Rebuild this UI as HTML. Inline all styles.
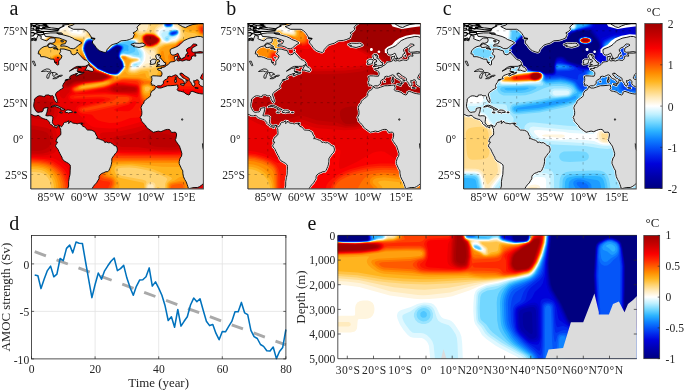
<!DOCTYPE html>
<html><head><meta charset="utf-8"><title>Figure</title>
<style>
html,body{margin:0;padding:0;background:#fff;}
body{width:685px;height:390px;overflow:hidden;}
svg{display:block;font-family:"Liberation Serif","Times New Roman",serif;}
.t{font-size:11.6px;fill:#262626;}
.l{font-size:12.9px;fill:#262626;}
.pl{font-size:20px;fill:#111;}
</style></head><body>
<svg width="685" height="390" viewBox="0 0 685 390">
<defs>
<clipPath id="mc"><rect x="0" y="0" width="172.6" height="165.3"/></clipPath>
<path id="halo" d="M0 17.2L2.7 16.5L5.3 17.2L6 14.4L7.3 11.5L10.6 12.9L10 15.1L13.3 16.5L15.9 17.2L18.6 15.1L19.9 14.4L23.9 14.4L24.6 16.5L23.9 18.7L21.2 19.7L18.6 19.4L17.3 20.8L16.6 22.3L13.3 23L10.6 24.4L8 27.3L7.3 30.2L9.3 30.6L10 33.1L13.3 33.1L15.9 33.8L19.9 35.5L23.2 35.6L23.9 38.8L25.2 40.2L26.6 41.4L27.9 41L27.9 37.4L30.5 34.5L31.2 32.3L28.5 30.2L29.9 28L29.2 25.4L33.2 25.4L37.2 26.6L39.8 27.3L40.5 30.2L42.5 31.2L45.1 30.5L46.5 28.3L47.8 30.2L49.8 32.3L51.8 34.5L53.1 35.9L55.8 36.7L57.1 38.1L58.4 40.2L57.1 41.3L54.4 42.7L50.5 42.8L46.5 42.8L43.8 43.8L41.2 45.6L38.5 47.6L40.5 46.7L43.8 44.8L47.1 44.3L47.1 45.6L46.5 46.7L46.7 48.2L48.5 48.9L51.1 49.3L53.1 48.6L53.1 49.3L51.8 50L48.5 51L45.8 52.5L44.9 51.3L47.1 49.9L45.1 50L43.8 50.7L41.8 51.3L39.8 52.2L38.9 53.5L38.9 54.6L39.8 55.1L37.8 55.5L34.9 56.3L34.5 56.8L34.3 58.2L33.2 59.2L32.5 60.7L31.9 61.8L32.1 63.2L32.5 64.3L30.9 65.3L29.2 66.3L27.9 67.3L25.9 68.7L25 70.1L24.7 71.4L25.5 73.6L26.4 76.2L26.4 78.1L25.9 78.9L25 78.6L24.2 77.2L23 75.2L23 73.3L21.6 71.9L20.6 72.2L19.3 72.2L17.9 71.3L15.9 71.4L14.6 71.6L14.2 73L12.6 73L10.9 72.4L8.6 72.2L7 72.7L5.3 74L3.6 75.5L3.6 77.6L3.1 79.8L2.9 82.7L3.6 84.8L4.6 86.5L5.6 88L7.3 88.8L9.3 88.4L11.3 88.3L12.3 87L12.7 84.8L15.3 84.1L17.3 84.1L16.6 86.2L16.3 88.4L15.7 89.8L15 92L16.6 92.3L18.6 92.1L20.6 92.3L22.2 93.4L21.9 95.6L21.6 97.7L21.6 99.2L22.8 101L24.2 102.1L25.5 102.2L26.8 101.5L28.1 101.5L29.9 102.6L30.7 103.3L31.5 102.2L32.4 101.2L32.8 99.6L33.5 99L34.3 98.7L35.8 98.5L37.2 97.5L38.1 97.2L37.8 98.9L37.6 99.9L38.5 99.3L39.6 98.5L39.8 97.5L40.5 98.5L42.1 99.5L44.5 99.8L46.5 100.3L47.8 99.8L49.8 99.6L50.6 99.6L49.8 100.3L51.1 101.2L52 102.8L53.8 103.2L55.1 104.9L56.7 106.4L59.1 106.5L61.1 106.7L63.1 107.8L64.4 108.8L65.3 111.4L66.4 112.8L66.4 114.6L65.7 115L67 115L68.4 115.4L69.7 116L71.7 116.6L73.7 117.9L74 118.9L75.7 118.4L77.7 119.2L79.7 119L81.7 120.3L83.4 121.9L85.6 122.5L86.3 124.3L86.6 126.5L85.9 128.6L84.3 130.2L83.2 131.8L81.9 133.5L81 135.1L81 138L80.6 140.6L79.9 143L79 144.9L78.3 146.6L77 148.1L75 148.1L73 149.1L71 149.8L69 151.4L68.2 153.1L68.2 155.2L67 157L65.7 159.3L63.7 161.3L62.4 163.1L61.5 164.6L60.4 166.7L36.5 166.7L37.8 162.4L37.8 158.1L38.5 153.8L39.2 150.9L39.4 146.6L39.6 143L39.3 141.3L37.8 139.9L35.8 138.7L33.2 137.3L31.5 135.1L31.2 133.7L30.3 132.2L29.2 130.1L28.1 127.9L27.2 125.8L26.6 124.8L25.2 123.6L24.8 121.7L25.9 120L26.6 119.3L26.6 118.3L25.2 118.2L25.5 116.4L26.2 115L26.6 113.8L27.9 113.3L28.5 112.1L29.9 111.3L30.1 109.2L29.9 107.1L29.9 105.4L29.3 104.6L28.8 103.5L28.5 102.3L27.2 102.1L26.2 103.1L26 104.4L25.2 104.1L24.2 103.2L22.7 103.2L21.8 102.5L21.6 101.8L19.9 100.9L18.9 99.9L18.9 98.9L17.5 97.3L16.6 96.3L16.2 95.9L14.6 95.7L12.6 95L10.4 94.1L8.6 92.3L7.3 91.7L5.3 92.4L3.3 92.1L1.3 91.1L-1.3 90.3L-1.3 17.2ZM43.8 -1.4L43.8 0L42.5 1.4L37.2 2.9L39.8 4.3L42.5 5.7L53.1 5.7L55.8 7.2L58.4 10.1L59.7 12.2L61.1 14.4L64.4 15.1L61.7 17.2L61.7 19.4L63.7 21.6L65.1 23.7L67 25.9L69 27.3L72.4 28.5L74.4 28.9L75.7 28L76.3 25.9L78.3 23.7L80.3 21.6L83 20.6L86.3 19.7L90.3 17.2L95.6 16.8L98.9 15.8L102.2 14.4L102.9 12.2L103.6 10.8L102.2 9.3L104.9 7.9L106.9 5.7L106.2 3.6L108.2 1.4L110.2 0L110.2 -1.4ZM100.2 20.8L103.6 19.5L108.9 19.8L111.5 19.4L113.5 20.1L114.8 21.6L112.9 22.6L108.2 23.9L104.9 23.3L102.6 23L103.6 21.8L100.9 21.7ZM125.2 43L128.1 42.7L131.4 42.1L134.5 41.5L135 39.2L133.2 38.8L132.5 37.4L130.8 35.9L130.1 34.5L128.8 34.5L130.1 32.2L127.5 32.2L128.8 30.8L126.1 30.8L124.8 32.3L125.5 34.5L126.1 35.9L128.1 36.1L128.8 37.4L128.5 38.4L126.8 38.4L126.8 39.8L125.9 40.5L128.8 41L127.2 41.5ZM119.5 40.8L122.1 40.7L124.4 40L124.8 38.1L125.5 36.7L124.1 35.6L121.9 35.6L119.5 37.1L119.8 38.4L120.2 39.4L119.1 40.2ZM173.9 14.4L169.9 12.9L166.9 12.8L163.3 13.7L159.3 14.4L156.7 15.4L153.3 17L151.4 18.7L149.4 20.8L147.4 22.3L144.7 23.7L141.4 24.9L139.4 25.9L139.4 28L139.8 29.8L140.5 30.9L142.1 31.6L144.1 31.2L146 30.2L147 29.5L147.6 30.5L148 31.6L148.7 33.1L149.6 34.5L149.8 35.4L151.8 35.2L151.8 34.5L154 33.8L154.7 32.3L155.3 30.6L157.3 29.5L156 27.9L155.6 25.9L157.3 24.4L160 23.3L161.3 21.6L162.6 20.4L165.3 20.6L166.4 21.6L164.6 22.6L161.3 24.4L161 26.6L161 27.9L162.6 28.7L166 28.5L169.3 28L173.9 28.7L173.9 29L169.9 29.5L166 29.5L164 29.9L164 30.9L165 31.2L165 32.6L162.6 32.2L160.7 33.1L160.7 35.2L159.3 36.7L157.6 36.8L155.3 36.2L151.8 37.4L149.4 36.9L147.4 37.4L146 36.7L146 35.2L146.7 33.8L146.7 32.3L145.4 32.9L143.7 33.1L143.5 34.5L143.7 35.4L144.2 36.1L144.5 37.4L143.4 37.9L142.1 38.1L139.4 38.4L138.7 39.5L137.4 41L136.1 41.7L134.9 42L134.8 42.8L133 43.7L131 43.8L130.4 43.6L130.8 45L128.8 44.8L126.5 45.3L127.1 46.3L129.5 47L130.1 47.9L131.2 48.9L131.2 50.7L130.5 52.6L128.1 52.5L125.5 52.3L122.1 52.2L120.6 52.9L121.1 54.6L121.1 56.8L120.3 58.9L121.1 60.4L121 61.8L122.8 61.5L124.3 62.1L125.3 63.2L126.8 62.2L129.8 62.2L131.8 60.9L132.8 59.4L132.4 58.2L133.8 56.3L135.4 55.6L137 54.6L136.8 53.2L138.7 52.6L140.7 53L142.7 52L144.7 51.2L146.4 52L147.4 53.9L149.1 55.1L151 55.8L152.7 57.2L153.6 58.9L153.6 60.4L154.7 59.7L155.6 58.2L154.8 57.5L155.6 56.9L157.1 57.5L157.3 56.8L155.3 56.1L154 54.9L152.7 54.6L151.4 53.6L150.8 52.3L149.4 51.5L149.1 49.9L151 49.4L150.8 50.3L152 50L153 51.3L154.7 52.5L156 53.2L157.3 54L158.5 54.9L158.5 56.8L159.3 57.9L160.7 59.7L161.3 61.5L162.4 62.5L163.3 62.5L163.6 61.1L164.6 60.4L163.3 59.4L163 58.2L162.9 56.9L164.4 57.5L165.3 56.3L167.3 56.3L167.7 57.2L168.4 58.2L168 59.7L169 61.4L169.9 62.2L171.9 63L173.9 62.5L173.9 55.9L171.3 55.8L169.9 54.9L169.8 53.5L170.6 52.5L170.7 51.3L172.1 50L173.9 49.7ZM173.9 70L171.3 70.4L168.6 70L166 69.4L163.3 68.3L161.3 67.7L159.3 68.7L159.3 70.4L158 71.4L155.3 70.4L153.1 68.6L150 67.7L147.4 67.3L146.3 66.1L147.4 64.3L146.7 62.2L147.4 61.8L146 61.4L143.4 61.8L139.4 62.1L136.8 62.1L132.8 63.5L130.1 64.4L127.5 64.4L125.6 63.4L124.8 64L123.7 66.1L121.5 67.1L119.8 69.7L119.8 71.9L118.8 73.3L116.8 74.7L114.8 76.2L113.5 77.6L112.9 79.8L111.5 80.9L110.2 84.1L110.9 87L111.1 89.1L110.9 91.3L109.5 93.9L110.5 95.6L110.5 97.3L112.2 98.9L113.5 100.6L115.1 102.1L115.5 103.5L117.5 105.1L120.2 107.1L122.5 108.7L124.8 108.1L127.5 107.5L130.1 108.1L132.8 106.9L134.8 106.1L136.8 105.8L138.7 105.9L140.1 107.8L140.7 108.8L142.7 108.7L144.5 108.5L145.5 109.5L145.8 111.4L145.4 113.6L145.1 115L144.5 116.1L145.4 117.9L147.4 120.7L148.7 122.5L149.1 123.6L150.3 127.2L151.1 130.1L150.7 132.7L149.4 134.4L148.4 138L148.4 140.1L149.4 142.3L150.7 145.2L152 147.3L152 149.5L152.7 153.1L154 156L155.3 158.1L156.4 161L157.1 163.1L157.3 164.3L158.7 165L160.7 164.4L163.3 163.9L166.6 163.9L168.6 163.1L170.6 161.7L173.9 158.8ZM54 46.6L55.1 45.3L56.4 42.4L58.4 41L59.1 43.1L61.1 43.8L62.4 45.3L62.8 46.7L61.7 47.9L59.1 47.4L57.1 46.6ZM51.1 19.4L47.8 21.6L44.5 24.4L42.5 25.2L39.8 24.9L36.5 23L33.2 22.3L29.9 22.6L30.5 20.8L34.5 20.1L35.8 17.2L31.9 15.8L28.5 14.4L23.9 13.9L19.9 13.2L14.6 12.9L13.3 10.1L19.9 9.3L25.2 9.3L29.2 10.3L33.2 11.5L38.5 12.9L41.8 14.4L43.8 15.8L47.8 17.2L50.5 18.7ZM17.3 21.1L19.9 20.1L21.9 20.8L25.2 22.6L25.9 23.7L22.6 23.4L19.3 24.1L17.3 23.4ZM20 83.5L22.6 81.9L25.2 81.6L27.9 82.7L29.9 83.8L32.5 85.1L34.3 86L32.5 86.4L29.6 86.4L30.3 85.4L28.5 84.5L25.9 83.4L23.9 82.8L21.9 83.2ZM34 88.5L35.8 86.4L37.6 86.4L39.8 86.7L41.8 88.1L41.6 88.8L39.2 88.8L37.8 89.5L36.5 88.8L34.8 89ZM28.8 88.5L30.5 88.4L31.6 89.1L30.5 89.4L28.9 89ZM43.5 88.4L45.5 88.5L45.4 89.1L43.5 89.1ZM50.6 99.6L51.8 99.5L51.8 100.5L50.6 100.5ZM149.4 60.4L153.3 60.1L153 62.1L149.8 61.1ZM143.8 56.1L145.5 55.9L145.5 58.6L144.1 58.9ZM144.3 53.9L145.4 53.2L145.4 55.3L144.5 55.2ZM164.1 64L167.6 64.4L167.3 64.7L164.1 64.4ZM136 58.1L137.2 57.6L137 58.4ZM147.4 0.6L147.4 -1.4L167.3 -1.4L167.3 0L162 0.9L158 2.3L154.7 4L152 3.2L149.4 1.7ZM147.4 34.8L149.4 34.5L149.2 35.6L147.6 35.6ZM156.9 31.8L158 31.9L157.2 33.1ZM47.1 43.3L50.5 44L50.7 44.4L47.8 43.7ZM47.4 47.7L50.5 48.3L49.8 48.9L47.8 48.4ZM34.5 56.6L37.2 55.9L37.2 56.2ZM25.9 9.2L30.5 9.3L31.9 10.3L27.9 10.6ZM29.9 17L32.5 17.2L32.5 18.3L30.5 18.3ZM22.6 24.4L24.6 24.6L26.8 25.3L23.2 25.3ZM26.2 25.4L27.5 25.9L26.8 26.4ZM23.9 38.5L25.9 38.8L24.6 39.1ZM26.6 33.8L27.9 34.1L27.2 34.8ZM45.8 26.3L47.1 26.6L46.1 27ZM60 14.5L63.7 14.7L61.7 15.4Z" fill="none" stroke="#fff" stroke-width="2.1" stroke-linejoin="round"/>
<g id="land"><path d="M5.3 4.6L13.3 5L19.9 5.9L26.6 6.3L27.2 7.3L18.6 7.9L10.6 7.6L5.3 6.6ZM9.3 -1.4L13.3 1.1L17.3 2.6L14.6 3.4L19.9 4.2L27.9 5.2L29.9 3.9L33.2 2.4L31.9 1.4L37.2 0.9L39.2 -0.3L41.8 -1.4ZM6 8.8L9.3 8.5L12.9 8.9L12.9 10.6L9.3 11.5L6 10.3ZM-1.3 9.1L2.7 8.9L4.2 10.3L2 12.4L-1.3 12.2ZM0.7 15.1L4 14.4L5.3 15.8L3.3 16.4L0.7 15.8ZM-1.3 4.6L2.7 4.7L3.6 6.3L-1.3 7ZM5.3 -0.7L10.6 -0.1L15.9 1.1L15.3 2.3L9.3 2.2L5.3 0.9ZM4.6 6.5L8 6.3L8.6 7.2L6 7.6ZM2 2L4.9 1.9L5.3 3L2.7 3.2ZM-1.3 1.1L0.9 1.4L0.7 3L-1.3 3.2ZM11.9 3.6L14.2 3.6L13.9 4.5L11.9 4.5ZM5.3 3.3L8.6 3.3L8.4 3.9L5.6 3.9ZM0.3 -0.3L2 -0.3L1.6 0.4L0.3 0.3ZM10.6 4.9L11.9 5.3L10.4 5.5ZM26.8 5.6L28.1 5.6L27.9 6.2ZM3.3 9.6L4.8 9.6L4.5 10.3Z" fill="#dcdcdc" stroke="#000" stroke-width="1.1" stroke-linejoin="round"/>
<path d="M0 17.2L2.7 16.5L5.3 17.2L6 14.4L7.3 11.5L10.6 12.9L10 15.1L13.3 16.5L15.9 17.2L18.6 15.1L19.9 14.4L23.9 14.4L24.6 16.5L23.9 18.7L21.2 19.7L18.6 19.4L17.3 20.8L16.6 22.3L13.3 23L10.6 24.4L8 27.3L7.3 30.2L9.3 30.6L10 33.1L13.3 33.1L15.9 33.8L19.9 35.5L23.2 35.6L23.9 38.8L25.2 40.2L26.6 41.4L27.9 41L27.9 37.4L30.5 34.5L31.2 32.3L28.5 30.2L29.9 28L29.2 25.4L33.2 25.4L37.2 26.6L39.8 27.3L40.5 30.2L42.5 31.2L45.1 30.5L46.5 28.3L47.8 30.2L49.8 32.3L51.8 34.5L53.1 35.9L55.8 36.7L57.1 38.1L58.4 40.2L57.1 41.3L54.4 42.7L50.5 42.8L46.5 42.8L43.8 43.8L41.2 45.6L38.5 47.6L40.5 46.7L43.8 44.8L47.1 44.3L47.1 45.6L46.5 46.7L46.7 48.2L48.5 48.9L51.1 49.3L53.1 48.6L53.1 49.3L51.8 50L48.5 51L45.8 52.5L44.9 51.3L47.1 49.9L45.1 50L43.8 50.7L41.8 51.3L39.8 52.2L38.9 53.5L38.9 54.6L39.8 55.1L37.8 55.5L34.9 56.3L34.5 56.8L34.3 58.2L33.2 59.2L32.5 60.7L31.9 61.8L32.1 63.2L32.5 64.3L30.9 65.3L29.2 66.3L27.9 67.3L25.9 68.7L25 70.1L24.7 71.4L25.5 73.6L26.4 76.2L26.4 78.1L25.9 78.9L25 78.6L24.2 77.2L23 75.2L23 73.3L21.6 71.9L20.6 72.2L19.3 72.2L17.9 71.3L15.9 71.4L14.6 71.6L14.2 73L12.6 73L10.9 72.4L8.6 72.2L7 72.7L5.3 74L3.6 75.5L3.6 77.6L3.1 79.8L2.9 82.7L3.6 84.8L4.6 86.5L5.6 88L7.3 88.8L9.3 88.4L11.3 88.3L12.3 87L12.7 84.8L15.3 84.1L17.3 84.1L16.6 86.2L16.3 88.4L15.7 89.8L15 92L16.6 92.3L18.6 92.1L20.6 92.3L22.2 93.4L21.9 95.6L21.6 97.7L21.6 99.2L22.8 101L24.2 102.1L25.5 102.2L26.8 101.5L28.1 101.5L29.9 102.6L30.7 103.3L31.5 102.2L32.4 101.2L32.8 99.6L33.5 99L34.3 98.7L35.8 98.5L37.2 97.5L38.1 97.2L37.8 98.9L37.6 99.9L38.5 99.3L39.6 98.5L39.8 97.5L40.5 98.5L42.1 99.5L44.5 99.8L46.5 100.3L47.8 99.8L49.8 99.6L50.6 99.6L49.8 100.3L51.1 101.2L52 102.8L53.8 103.2L55.1 104.9L56.7 106.4L59.1 106.5L61.1 106.7L63.1 107.8L64.4 108.8L65.3 111.4L66.4 112.8L66.4 114.6L65.7 115L67 115L68.4 115.4L69.7 116L71.7 116.6L73.7 117.9L74 118.9L75.7 118.4L77.7 119.2L79.7 119L81.7 120.3L83.4 121.9L85.6 122.5L86.3 124.3L86.6 126.5L85.9 128.6L84.3 130.2L83.2 131.8L81.9 133.5L81 135.1L81 138L80.6 140.6L79.9 143L79 144.9L78.3 146.6L77 148.1L75 148.1L73 149.1L71 149.8L69 151.4L68.2 153.1L68.2 155.2L67 157L65.7 159.3L63.7 161.3L62.4 163.1L61.5 164.6L60.4 166.7L36.5 166.7L37.8 162.4L37.8 158.1L38.5 153.8L39.2 150.9L39.4 146.6L39.6 143L39.3 141.3L37.8 139.9L35.8 138.7L33.2 137.3L31.5 135.1L31.2 133.7L30.3 132.2L29.2 130.1L28.1 127.9L27.2 125.8L26.6 124.8L25.2 123.6L24.8 121.7L25.9 120L26.6 119.3L26.6 118.3L25.2 118.2L25.5 116.4L26.2 115L26.6 113.8L27.9 113.3L28.5 112.1L29.9 111.3L30.1 109.2L29.9 107.1L29.9 105.4L29.3 104.6L28.8 103.5L28.5 102.3L27.2 102.1L26.2 103.1L26 104.4L25.2 104.1L24.2 103.2L22.7 103.2L21.8 102.5L21.6 101.8L19.9 100.9L18.9 99.9L18.9 98.9L17.5 97.3L16.6 96.3L16.2 95.9L14.6 95.7L12.6 95L10.4 94.1L8.6 92.3L7.3 91.7L5.3 92.4L3.3 92.1L1.3 91.1L-1.3 90.3L-1.3 17.2ZM43.8 -1.4L43.8 0L42.5 1.4L37.2 2.9L39.8 4.3L42.5 5.7L53.1 5.7L55.8 7.2L58.4 10.1L59.7 12.2L61.1 14.4L64.4 15.1L61.7 17.2L61.7 19.4L63.7 21.6L65.1 23.7L67 25.9L69 27.3L72.4 28.5L74.4 28.9L75.7 28L76.3 25.9L78.3 23.7L80.3 21.6L83 20.6L86.3 19.7L90.3 17.2L95.6 16.8L98.9 15.8L102.2 14.4L102.9 12.2L103.6 10.8L102.2 9.3L104.9 7.9L106.9 5.7L106.2 3.6L108.2 1.4L110.2 0L110.2 -1.4ZM100.2 20.8L103.6 19.5L108.9 19.8L111.5 19.4L113.5 20.1L114.8 21.6L112.9 22.6L108.2 23.9L104.9 23.3L102.6 23L103.6 21.8L100.9 21.7ZM125.2 43L128.1 42.7L131.4 42.1L134.5 41.5L135 39.2L133.2 38.8L132.5 37.4L130.8 35.9L130.1 34.5L128.8 34.5L130.1 32.2L127.5 32.2L128.8 30.8L126.1 30.8L124.8 32.3L125.5 34.5L126.1 35.9L128.1 36.1L128.8 37.4L128.5 38.4L126.8 38.4L126.8 39.8L125.9 40.5L128.8 41L127.2 41.5ZM119.5 40.8L122.1 40.7L124.4 40L124.8 38.1L125.5 36.7L124.1 35.6L121.9 35.6L119.5 37.1L119.8 38.4L120.2 39.4L119.1 40.2ZM173.9 14.4L169.9 12.9L166.9 12.8L163.3 13.7L159.3 14.4L156.7 15.4L153.3 17L151.4 18.7L149.4 20.8L147.4 22.3L144.7 23.7L141.4 24.9L139.4 25.9L139.4 28L139.8 29.8L140.5 30.9L142.1 31.6L144.1 31.2L146 30.2L147 29.5L147.6 30.5L148 31.6L148.7 33.1L149.6 34.5L149.8 35.4L151.8 35.2L151.8 34.5L154 33.8L154.7 32.3L155.3 30.6L157.3 29.5L156 27.9L155.6 25.9L157.3 24.4L160 23.3L161.3 21.6L162.6 20.4L165.3 20.6L166.4 21.6L164.6 22.6L161.3 24.4L161 26.6L161 27.9L162.6 28.7L166 28.5L169.3 28L173.9 28.7L173.9 29L169.9 29.5L166 29.5L164 29.9L164 30.9L165 31.2L165 32.6L162.6 32.2L160.7 33.1L160.7 35.2L159.3 36.7L157.6 36.8L155.3 36.2L151.8 37.4L149.4 36.9L147.4 37.4L146 36.7L146 35.2L146.7 33.8L146.7 32.3L145.4 32.9L143.7 33.1L143.5 34.5L143.7 35.4L144.2 36.1L144.5 37.4L143.4 37.9L142.1 38.1L139.4 38.4L138.7 39.5L137.4 41L136.1 41.7L134.9 42L134.8 42.8L133 43.7L131 43.8L130.4 43.6L130.8 45L128.8 44.8L126.5 45.3L127.1 46.3L129.5 47L130.1 47.9L131.2 48.9L131.2 50.7L130.5 52.6L128.1 52.5L125.5 52.3L122.1 52.2L120.6 52.9L121.1 54.6L121.1 56.8L120.3 58.9L121.1 60.4L121 61.8L122.8 61.5L124.3 62.1L125.3 63.2L126.8 62.2L129.8 62.2L131.8 60.9L132.8 59.4L132.4 58.2L133.8 56.3L135.4 55.6L137 54.6L136.8 53.2L138.7 52.6L140.7 53L142.7 52L144.7 51.2L146.4 52L147.4 53.9L149.1 55.1L151 55.8L152.7 57.2L153.6 58.9L153.6 60.4L154.7 59.7L155.6 58.2L154.8 57.5L155.6 56.9L157.1 57.5L157.3 56.8L155.3 56.1L154 54.9L152.7 54.6L151.4 53.6L150.8 52.3L149.4 51.5L149.1 49.9L151 49.4L150.8 50.3L152 50L153 51.3L154.7 52.5L156 53.2L157.3 54L158.5 54.9L158.5 56.8L159.3 57.9L160.7 59.7L161.3 61.5L162.4 62.5L163.3 62.5L163.6 61.1L164.6 60.4L163.3 59.4L163 58.2L162.9 56.9L164.4 57.5L165.3 56.3L167.3 56.3L167.7 57.2L168.4 58.2L168 59.7L169 61.4L169.9 62.2L171.9 63L173.9 62.5L173.9 55.9L171.3 55.8L169.9 54.9L169.8 53.5L170.6 52.5L170.7 51.3L172.1 50L173.9 49.7ZM173.9 70L171.3 70.4L168.6 70L166 69.4L163.3 68.3L161.3 67.7L159.3 68.7L159.3 70.4L158 71.4L155.3 70.4L153.1 68.6L150 67.7L147.4 67.3L146.3 66.1L147.4 64.3L146.7 62.2L147.4 61.8L146 61.4L143.4 61.8L139.4 62.1L136.8 62.1L132.8 63.5L130.1 64.4L127.5 64.4L125.6 63.4L124.8 64L123.7 66.1L121.5 67.1L119.8 69.7L119.8 71.9L118.8 73.3L116.8 74.7L114.8 76.2L113.5 77.6L112.9 79.8L111.5 80.9L110.2 84.1L110.9 87L111.1 89.1L110.9 91.3L109.5 93.9L110.5 95.6L110.5 97.3L112.2 98.9L113.5 100.6L115.1 102.1L115.5 103.5L117.5 105.1L120.2 107.1L122.5 108.7L124.8 108.1L127.5 107.5L130.1 108.1L132.8 106.9L134.8 106.1L136.8 105.8L138.7 105.9L140.1 107.8L140.7 108.8L142.7 108.7L144.5 108.5L145.5 109.5L145.8 111.4L145.4 113.6L145.1 115L144.5 116.1L145.4 117.9L147.4 120.7L148.7 122.5L149.1 123.6L150.3 127.2L151.1 130.1L150.7 132.7L149.4 134.4L148.4 138L148.4 140.1L149.4 142.3L150.7 145.2L152 147.3L152 149.5L152.7 153.1L154 156L155.3 158.1L156.4 161L157.1 163.1L157.3 164.3L158.7 165L160.7 164.4L163.3 163.9L166.6 163.9L168.6 163.1L170.6 161.7L173.9 158.8ZM54 46.6L55.1 45.3L56.4 42.4L58.4 41L59.1 43.1L61.1 43.8L62.4 45.3L62.8 46.7L61.7 47.9L59.1 47.4L57.1 46.6ZM51.1 19.4L47.8 21.6L44.5 24.4L42.5 25.2L39.8 24.9L36.5 23L33.2 22.3L29.9 22.6L30.5 20.8L34.5 20.1L35.8 17.2L31.9 15.8L28.5 14.4L23.9 13.9L19.9 13.2L14.6 12.9L13.3 10.1L19.9 9.3L25.2 9.3L29.2 10.3L33.2 11.5L38.5 12.9L41.8 14.4L43.8 15.8L47.8 17.2L50.5 18.7ZM17.3 21.1L19.9 20.1L21.9 20.8L25.2 22.6L25.9 23.7L22.6 23.4L19.3 24.1L17.3 23.4ZM20 83.5L22.6 81.9L25.2 81.6L27.9 82.7L29.9 83.8L32.5 85.1L34.3 86L32.5 86.4L29.6 86.4L30.3 85.4L28.5 84.5L25.9 83.4L23.9 82.8L21.9 83.2ZM34 88.5L35.8 86.4L37.6 86.4L39.8 86.7L41.8 88.1L41.6 88.8L39.2 88.8L37.8 89.5L36.5 88.8L34.8 89ZM28.8 88.5L30.5 88.4L31.6 89.1L30.5 89.4L28.9 89ZM43.5 88.4L45.5 88.5L45.4 89.1L43.5 89.1ZM50.6 99.6L51.8 99.5L51.8 100.5L50.6 100.5ZM149.4 60.4L153.3 60.1L153 62.1L149.8 61.1ZM143.8 56.1L145.5 55.9L145.5 58.6L144.1 58.9ZM144.3 53.9L145.4 53.2L145.4 55.3L144.5 55.2ZM164.1 64L167.6 64.4L167.3 64.7L164.1 64.4ZM136 58.1L137.2 57.6L137 58.4ZM147.4 0.6L147.4 -1.4L167.3 -1.4L167.3 0L162 0.9L158 2.3L154.7 4L152 3.2L149.4 1.7ZM147.4 34.8L149.4 34.5L149.2 35.6L147.6 35.6ZM156.9 31.8L158 31.9L157.2 33.1ZM47.1 43.3L50.5 44L50.7 44.4L47.8 43.7ZM47.4 47.7L50.5 48.3L49.8 48.9L47.8 48.4ZM34.5 56.6L37.2 55.9L37.2 56.2ZM25.9 9.2L30.5 9.3L31.9 10.3L27.9 10.6ZM29.9 17L32.5 17.2L32.5 18.3L30.5 18.3ZM22.6 24.4L24.6 24.6L26.8 25.3L23.2 25.3ZM26.2 25.4L27.5 25.9L26.8 26.4ZM23.9 38.5L25.9 38.8L24.6 39.1ZM26.6 33.8L27.9 34.1L27.2 34.8ZM45.8 26.3L47.1 26.6L46.1 27ZM60 14.5L63.7 14.7L61.7 15.4Z" fill="#dcdcdc" stroke="#000" stroke-width="0.9" stroke-linejoin="round"/><path d="M10.6 47.9L13.3 46.3L15.9 45.3L18.6 45.6L20.3 47.4L19.9 48.2L17.3 48.2L15.3 47.4L12.6 47.9ZM16.2 54.6L17.9 54.6L18.6 51.7L19.9 49.2L18.3 49.4L16.6 51L15.9 53.2ZM20.6 48.9L23.9 48.9L26.6 50.3L26.6 51L24.6 51L23.4 53L21.9 52L22.2 50.3ZM22 55.1L25.2 55.1L27.9 53.5L27.2 53.2L23.9 54ZM26.8 52.8L30.5 52.8L31.6 51.6L29.2 51.7ZM1.6 37.7L3.3 37.5L4.9 41.7L4.2 42.5L2.7 40.2ZM151 95.2L152.2 95.6L151.6 96.7L150.7 96.3ZM171.7 120L172.5 121.5L173.7 126.5L173 127.2L171.8 123.6Z" fill="#dcdcdc" stroke="#000" stroke-width="0.8" stroke-linejoin="round"/></g>
<path id="grid" d="M19.9 0V165.3M53.1 0V165.3M86.3 0V165.3M119.5 0V165.3M152.7 0V165.3M0 7.2H172.6M0 43.1H172.6M0 79.1H172.6M0 115.0H172.6M0 150.9H172.6" fill="none" stroke="#000" stroke-width="0.5" stroke-dasharray="2.4 4.2" opacity="0.5"/>
<linearGradient id="cb" x1="0" y1="0" x2="0" y2="1">
<stop offset="0.0000" stop-color="#a00000"/>
<stop offset="0.0750" stop-color="#c80000"/>
<stop offset="0.1500" stop-color="#fa0000"/>
<stop offset="0.2000" stop-color="#ff2800"/>
<stop offset="0.2500" stop-color="#ff5a00"/>
<stop offset="0.3000" stop-color="#ff8c00"/>
<stop offset="0.3500" stop-color="#ffb41e"/>
<stop offset="0.4000" stop-color="#ffd26e"/>
<stop offset="0.4500" stop-color="#ffebbe"/>
<stop offset="0.5000" stop-color="#ffffff"/>
<stop offset="0.5500" stop-color="#c0f0ff"/>
<stop offset="0.6000" stop-color="#73d7ff"/>
<stop offset="0.6500" stop-color="#2db4ff"/>
<stop offset="0.7000" stop-color="#0f84ff"/>
<stop offset="0.7500" stop-color="#0555f8"/>
<stop offset="0.8000" stop-color="#0228eb"/>
<stop offset="0.8500" stop-color="#0002da"/>
<stop offset="0.9250" stop-color="#0000aa"/>
<stop offset="1.0000" stop-color="#000080"/>
</linearGradient>
</defs>
<g transform="translate(30.8 23.6)">
<g clip-path="url(#mc)">
<rect width="172.6" height="165.3" fill="#fff"/>
<path fill="#fff5de" d="M35.9 0.5L36 0L132.6 0L132.4 2L132.7 4L128.5 6.3L127.5 8L127.1 10L127.8 11.5L130.3 14.5L131.7 17.5L134.1 18.5L136 18.8L137.8 18.5L141 16.9L145.1 16L146.6 14.5L148.4 10.5L148.7 8.5L148.2 7L146.5 5.3L143.2 3.5L142.8 0L172.5 0L172.5 165.5L0 165.5L0 17.1L10.6 17L19.5 10.7L21.5 9.8L26.2 8.5L31 5.7L35 4.2L35.5 3.5L35.9 0.5ZM37.5 5L37.4 5.5L38.3 7L41.5 9.5L49 10.3L50.5 10.1L51.3 9.5L51.5 8.5L51 7.3L49 5.8L41 4.7L37.5 5ZM57 14.4L55.5 15.2L54.1 17L51.7 24.5L52.2 27.5L55.9 35.5L58.1 38.5L66.2 45.5L76.5 50L80.5 51.2L84.5 51.7L86.5 51.5L88.9 50L92.8 45.5L93.7 44L93.9 42L92.6 38L90 34L90 32.5L91 31.5L93 31.3L97.5 32.3L101.7 34L107 34.6L108.3 35.5L108.6 36.5L108 37.6L102.5 39.2L101 40.2L100.4 41.5L100.4 43.5L100.8 44.5L101.5 44.9L105 44.7L109 43.2L112 40.5L114.3 37L114.9 32.5L114.1 28.5L112 25.5L107.5 22.2L106.8 21L106 17.5L104.5 16.3L100 15.7L97 15.8L86.5 18.8L81.5 21.9L77.5 26.2L75 26.9L72.5 26.3L70.5 25.2L65 18.6L61.5 15.2L59.5 14.3L57 14.4Z"/>
<path fill="#ffebbe" d="M37.1 0L132.3 0L131.7 3L128.6 4.5L127.4 5.5L126.3 7.5L126 9.5L126.7 11L130.2 15L131.4 18.5L136 19.2L138 18.9L141 17.6L145 17.1L147 15.5L148 14L149.1 9.5L148.9 7.5L146.6 4L144 2.3L143.3 0L172.5 0L172.5 165.5L0 165.5L0 17.7L9 18L11 17.7L20 11.2L22.5 10.3L27 9.4L33 6.6L34.9 7L39 10.5L41.5 11.5L50.5 12.1L52.5 11.8L53.6 11L54 9.5L53.7 8L52.6 6L51.5 4.9L49 3.9L38.5 2.7L37.4 2L37.1 0ZM58 13.9L56 14.4L54.5 15.8L53.2 18.5L51.6 24L51.8 27L55.2 34.5L57.9 38.5L66 45.5L76.5 50.1L80.5 51.3L84.5 51.8L86.5 51.7L89 50.2L92.6 46L93.7 44.5L94.1 42.5L92.8 38L90 33.5L90.5 32.1L91.5 31.6L94.5 31.9L98 32.8L101 34.2L106.5 34.8L107.7 35.5L108.1 36.5L107.4 37.5L102 39.1L100.5 40.3L99.9 42L99.9 44.5L100.4 45.5L101.5 46L103.5 45.9L107.5 44.7L110.1 43.5L115.5 39.9L119.9 39.5L121 38.5L121.2 35L120.5 32.3L117.5 30.7L113.3 25.5L108 21.7L107.3 20.5L106.5 17.4L105 16L101 15.5L97.3 15.5L86.6 18.5L84 19.8L81.1 22L77.5 26L75 26.8L73 26.4L71 25.4L62 15.5L60 14.2L58 13.9Z"/>
<path fill="#ffde96" d="M38.1 0L105 0L105.2 4L106 6L108 7.5L111 8L114 7.5L116 6.3L117.1 4L117.5 0L131.8 0L131 1.9L128 3.3L126.1 5L125.1 7L124.9 9L125.7 10.5L129.9 15L130.4 16.5L130.5 19.5L136 19.6L141 18.3L145 17.8L147.6 16L149.2 14L149.7 9.5L149.1 6.5L147.5 3L144.5 0.6L144.2 0L172.5 0L172.5 165.5L122.9 165.5L122.8 162L122 161L120 160.5L118.1 161L117 162L116.6 163.5L116.7 165.5L0 165.5L0 18.1L10.5 18.4L12 17.7L18.5 12.7L21 11.2L31.5 9.5L33 9.7L39 12.3L42 12.9L51.5 13.2L54 12.8L55 12L55.6 10L55.3 7.5L54.4 5.5L52.9 4L49.5 2.7L39.5 1.7L38.5 1.2L38.1 0ZM56 13.8L55 14.4L53.8 16.5L51.3 25L51.8 27.5L55.9 36L58 38.7L66 45.6L76.5 50.2L80 51.3L85 52L86.5 51.9L89 50.4L92.9 46L94.1 44L94.3 42L92.8 37.5L90.3 34L90.5 32.5L91.5 31.9L95 32.2L100.6 34.5L106 35.1L107.5 36L107 37.2L102 38.7L100.3 40L99.6 42L99.3 45L99.6 46L101 46.9L104 46.7L113.5 43.3L121.5 42.3L123.1 41.5L124 40.1L124.3 32L123.9 29.5L123.3 28L122 27L117.5 26.8L115 25.7L108.5 21.1L107.8 20L106.9 17L105.5 15.8L103 15.4L97.5 15.2L87 18.1L84.5 19.2L81.5 21.4L77.3 26L75 26.7L72.5 26.1L70.6 25L65 18.3L61 14.5L59 13.7L56 13.8Z"/>
<path fill="#ffd26e" d="M40.3 0L104 0L104.2 4.5L105 6.7L107.5 9L110.5 9.9L118 7.5L119.2 5L119.7 0L129.3 0L125 3.6L123.7 6L123.3 8L124.1 9.5L128.5 13.7L129.8 15.5L130.1 17.5L129.3 20.5L130 20.9L133 20.1L136.5 20L140.5 19L144.5 18.7L146 17.9L150.2 14.5L151 12.5L150.8 9.5L149.6 4.5L147.8 0L172.5 0L172.5 165.5L124.2 165.5L124.7 162L124.4 160.5L123 158.8L121 158.3L118.5 159L116.5 160.6L115.6 162.5L115.6 165.5L0 165.5L0 18.4L11 18.8L19.5 12.4L21.5 11.4L23.5 11L26 11.2L30.2 13L53.5 14.3L53.7 15.5L51.2 23.5L51.1 26L52.3 29L56.4 37L58.5 39.3L66.5 46L76.5 50.3L80 51.4L85 52.3L87.5 51.8L89.8 50L93.9 45L94.5 43L94.2 40.5L92.7 37L90.5 34L90.5 32.9L91.5 32.2L94.5 32.4L100.5 34.9L105.9 35.5L106.8 36L106.5 37L101.5 38.5L99.9 40L98.7 45.5L99.2 47L100.5 47.7L103.5 47.8L110.5 45.4L122.5 43.4L124.5 42.4L125.5 40.5L125.6 30L124.5 25.8L123.1 25L117.5 25.2L114.5 24.2L109 20.2L107.4 16.5L106.2 15.5L104 15.1L97.5 15L87 17.9L84.5 19L81.5 21.2L77 26.1L75.5 26.6L74 26.5L72 25.8L70.5 24.7L65.4 18.5L61.5 14.6L56.9 12.5L56.5 6L55.9 4.5L54.6 3L51.5 1.7L40.3 0Z"/>
<path fill="#ffc346" d="M55.2 0L103.3 0L103.5 4.4L104 6.6L105.5 8.8L108.5 11.3L110 11.7L115.5 9.2L121.5 8.7L123.5 9.7L128.5 14L129.6 15.5L129.8 17.5L128.5 20.3L126.5 22.7L121.5 24.3L117 24.4L115 23.8L113.3 22.5L109.9 19L108.5 16L107.5 15.2L105 14.7L97 14.9L85 18.5L80.2 22L77 25.9L75.5 26.5L74 26.3L71 25L62.5 15.3L58 12L57.5 5L55.2 0ZM150.1 0L172.5 0L172.5 165.5L134 165.5L134.4 160L136.6 155.5L135.2 154L124.2 149L120 147.5L105 144.4L98.5 143.8L90.5 144.2L87.5 144.9L86.5 146.5L87 149.2L88.3 151L90.5 152.1L112 156.2L115 157.2L115.8 158.5L114.6 162L114.6 165.5L20.5 165.5L20 161L19 157.5L17 154.1L14.5 151.5L12.2 150L9.5 149L0 148.1L0 18.6L11 19.3L19.5 12.7L23 11.5L25 11.7L27.5 13.8L29.5 14.4L52.5 15.1L53 15.5L53 16.5L50.9 24L50.8 26L54.8 34.5L57 38L63.5 43.9L67.5 46.7L78.5 51.1L84.5 52.4L86.5 52.4L88 51.8L90 50.2L93.5 46L94.6 44L94.7 42L93.8 38.5L90.7 34L90.8 33L91.5 32.4L94.5 32.6L100 35.2L105.4 36L105.8 36.5L101 38.3L99.5 40L98 46.5L98.5 47.7L100 48.6L104 48.8L109.5 46.7L122 44.8L125.4 43.5L126.3 42L126.7 40L126.5 25.5L127 23.7L133 20.8L145 19.1L152.1 14.5L153.7 13L153.8 12L151.5 6.5L150.1 0ZM126.8 163.5L127.5 163.4L128.5 163.9L129.3 165.5L125.6 165.5L126 164.3L126.8 163.5Z"/>
<path fill="#ffb41e" d="M57.3 0L102.8 0L103.3 6.5L104.3 8.5L106.7 11.5L107.2 13L106 14L96.5 14.7L86 17.8L83.5 19.2L80.5 21.5L77 25.8L75.5 26.3L73.5 26.1L70.6 24.5L65 17.7L58.9 12L58.4 5L57.3 0ZM152.3 0L172.5 0L172.5 13.1L168.5 12.3L164 9.7L157.5 8.9L155 8.1L153.8 7L153 5.5L152.3 0ZM116.2 9.5L120.5 9.3L122.5 9.7L128.3 14L129.4 15.5L129.6 17L128.9 19L127.5 20.9L124.5 22.8L120.5 23.9L116 23.7L113.5 22L111.8 20L110.7 18L110.2 15.5L110.2 13.5L111.1 12L112.3 11L116.2 9.5ZM21.8 12L24.5 12.2L26.5 14.6L29 15.5L52 15.9L52.5 16.5L52.5 17.5L50.4 24.5L50.6 26.5L55.2 35.5L57 38.2L63 43.6L67 46.6L78.5 51.2L85.5 52.8L87.5 52.5L89.5 51.2L93.7 46.5L94.8 44.5L95.1 42.5L94.7 40L93.4 37L91 34.2L90.9 33.5L91.5 32.7L93 32.6L94.8 33L99 35.4L103.2 36.5L100 38.5L98.8 40.5L97 47L97.2 48L98 48.9L100.5 49.9L103.5 50L106 49.6L110 48L116 47.3L117 47.6L117.8 48.5L118 51.5L118.5 52.7L120.7 53.5L122.8 53.5L125.5 51.9L127.3 48.5L126.7 45.5L127.6 40.5L127.7 27.5L128 25.5L129.2 24L133.8 21.5L144.5 20L149.5 16.6L153.5 15.3L165.5 14.9L172.5 15.6L172.5 165.5L135.6 165.5L135.7 161.5L136.4 159.5L137.5 158.1L141.2 155.5L141 154.5L139.9 153.5L129 148.3L121 145.1L106 142.3L99 141.7L88 142.2L85 143.1L83.9 144.5L83.6 146L84 148.5L85.2 151L87 153.2L89.5 154.5L112.5 159.2L113.3 160.5L113.5 165.5L23.3 165.5L22.9 161L21.6 156.5L19.5 152.8L16.5 149.6L13.5 147.6L10.5 146.5L6 145.8L0 145.4L0 18.9L4.5 19.1L10 20L11.5 19.8L18 14.1L21.8 12ZM22.5 21.5L12 21.8L10 22.9L9.3 25.5L9.2 31.5L9.5 34L10.5 35.5L13 36.2L18.5 36.1L19.5 35.4L21 33L22.5 31.6L26 30.7L28.5 30.9L30.5 31.6L32 33L33.5 35.4L35 36.2L44.5 36.2L46.5 35.5L47.3 34.5L47.8 32L47.7 25L47.2 23L46 21.8L42 21.2L22.5 21.5ZM115 63.4L114.2 64L113.9 65L114.5 67.3L115.5 68L116.5 68L118.5 67L119.3 65.5L119 63.9L117 63L115 63.4Z"/>
<path fill="#ffa00f" d="M58.4 0L102.3 0L102.7 6.5L105.7 12.5L105 13.5L104 13.9L96 14.6L85.5 17.7L80.2 21.5L77 25.6L75.5 26.2L73.6 26L70.8 24.5L65.5 18.1L59.6 12L59.2 5L58.4 0ZM155.1 0L172.5 0L172.5 12L170.5 11.8L168.6 11L164 7.1L158.5 6.3L156.4 5.5L155.1 3.5L155.1 0ZM115.4 10L121 9.8L123 10.3L124.5 11.2L128 14L129.2 15.5L129.3 17.5L128.3 19.5L125.5 21.8L122 23.3L117.5 23.7L115 22.8L111.7 19L110.7 14.5L111.1 13L111.7 12L113.5 10.7L115.4 10ZM21.2 12.5L23.6 12.5L26 15.8L29 17.1L44 17.4L51 16.6L51.7 17L51.9 18.5L51 21.4L50 23.2L49.5 23.4L47.5 20.3L44.5 19.1L30 19L20 20.3L15 20.3L13.5 20L13.4 19L15 17L18.6 14L21.2 12.5ZM155.3 16L166 15.9L172.5 17.1L172.5 165.5L136.6 165.5L136.8 161.5L137.5 160L138.4 159L143.8 157L148.5 153.7L152.5 152.6L153.2 152L153.6 150L153.5 145.5L152.7 144L151 143.4L131 143.2L101.5 140.2L88 140.4L84 141L82.3 142L81.2 143.5L80.4 146L80.2 148.5L80.6 149.5L85.7 155L88.3 159L88.6 161.5L87.5 165.5L25.6 165.5L25 160L23.6 155.5L21.2 151.5L18 148.1L15 146L11.5 144.7L6.5 143.9L0 143.5L0 19.1L5.5 19.5L7.4 20L8.9 21L7.9 25L8 33.5L8.8 36L10.5 37.2L14 37.6L19 37.3L20.2 36.5L22.5 32.8L24.5 31.8L26.5 31.6L28.5 31.8L30.5 32.8L32.8 36.5L34 37.3L38 37.6L46 37.4L47.5 36.7L48.5 35.5L49 33.5L49.3 28L49.5 27.3L50 27.1L56.3 37.5L62.5 43.3L67 46.7L76.5 50.6L86 53.3L89 52.4L94 47.9L94.5 48L95.7 49.5L97.5 50.8L101 51.7L106 51.5L113.5 49.7L114.5 50.1L115.5 53.5L116.4 54.5L122 55.8L124 55.1L127.1 53L128.5 51.4L129.6 49L129.7 47L128.6 44L128.5 42L128.7 29L129 27L129.7 25.5L131.7 24L135 22.5L144.5 20.6L150 16.9L155.3 16ZM75 58.9L53.4 62.5L50.5 63.4L49.8 64L50.4 64.5L52 64.5L63.8 63L75.2 60L76.5 59L75 58.9ZM115.5 62L113.2 63L112.6 64L112.5 65.5L113.5 68.9L114.5 69.7L116 70L118 69.5L119.5 68.5L120.5 67L120.9 64.5L120.5 63.1L119.5 62.3L115.5 62ZM91.7 33L93.5 32.9L95.2 33.5L97.5 35.4L100.4 37L98.6 39.5L96.5 45.1L95.5 46L95.6 42.5L95.2 40L93.9 37L91.4 34.5L91.2 33.5L91.7 33Z"/>
<path fill="#ff8c00" d="M59.2 0L101.8 0L102.2 6.5L104.5 11.5L104.5 12.5L103 13.6L96 14.3L85.5 17.5L80 21.4L76.9 25.5L75.5 26.1L74 25.9L71 24.5L60.3 12L59.2 0ZM166.9 0L172.5 0L172.5 11.2L170 10.8L168.6 10L166.1 6.5L165.2 3.5L166.9 0ZM114.7 10.5L116.5 10.1L120.5 10.1L123.5 10.9L127 13.3L128.7 15L129.2 16.5L128.7 18.5L126.5 20.9L122.5 22.8L118.5 23.4L115.5 22.8L113.9 21.5L112.2 19L111.2 15L111.8 12.5L114.7 10.5ZM20.7 13L22.5 12.7L23.6 13.5L24.7 17L24.2 18L22.5 18.8L20 19.3L16.5 19.4L14.7 19L14.8 18L16 16.5L20.7 13ZM151.5 17L155.5 16.6L165.5 16.6L172.5 18.2L172.5 165.5L137.6 165.5L137.9 161.5L138.5 160.5L140 159.4L150.5 156.8L153 156.9L155.5 157.8L156.5 157.4L157.2 153.5L157 143L156.5 141.5L155.7 140.5L153 139.5L118 139.3L99 138.7L86 139L82.5 139.5L80.5 140.7L79.1 142.5L76.9 147.5L76.4 150L77.3 151.5L81 152.8L82.5 153.7L84.5 156.5L85.2 158.5L85.4 160.5L83.7 165.5L27.9 165.5L27.3 160L25.6 154.5L23.1 150.5L19.6 147L16 144.6L12.5 143.3L7 142.3L0 141.9L0 19.3L5 19.8L7.4 21L7 26L7.1 34.5L8 36.9L10 38.2L14.5 38.5L19.5 38.2L20.6 37.5L23 33.3L24.5 32.5L26.5 32.2L28.5 32.5L30 33.3L32.4 37.5L33.5 38.2L37 38.6L46.5 38.3L48 37.7L49.2 36.5L49.9 34.5L50.3 30L51 29.6L56.5 38L63 43.9L67 46.8L76.5 50.7L82.3 52.5L86 54.1L93.5 53.4L108 53.9L122 57.3L123 56.9L128.5 53L129.6 51.5L130.5 49.2L130.7 46.5L129.7 43.5L129.5 41.5L129.9 30.5L130.5 28L131.5 27.1L132.7 28L134.5 37L136 38.1L137.6 38L138 37L137.2 34.5L137.2 32.5L139.9 28L140.6 23.5L141.6 22.5L145.5 20.8L148.7 18L151.5 17ZM75.5 57.9L70 59.2L52.1 62L49.1 63L48 64.5L49 65.4L51 65.5L64.9 63.5L75.3 61L77.8 60L78.7 59L78.5 58L78 57.8L75.5 57.9ZM116.5 61L114.5 61.3L112.9 62L112 63L111.6 64.5L111.8 67.5L112.5 69.6L114 71.4L116 72.1L118 71.5L120.5 69.4L121.6 67.5L122 65L121.9 63L121 61.5L116.5 61ZM50.3 18L51 18.2L51.1 19L50.5 20.6L50 20.6L49.3 19L50.3 18ZM91.7 33.5L93 33.2L95.2 34L95.9 35L95.6 36.5L94.5 36.3L92.5 35.2L91.6 34L91.7 33.5Z"/>
<path fill="#ff7300" d="M60 0L101.3 0L101.6 6L103.6 11.5L103.5 12.5L102 13.4L95.5 14.2L85.5 17.2L80 21.1L76.6 25.5L75 25.9L73.5 25.7L71.9 25L70.7 24L61.1 12.5L60.6 11L60 0ZM172 0.5L172.5 0.5L172.5 10.6L170 10.1L168.6 9L167.4 7L166.9 4.5L167.2 3L168.5 1.5L170 0.8L172 0.5ZM115.5 10.5L121 10.4L124 11.4L128.5 15L129.1 16.5L128.4 18.5L126 20.9L122 22.7L118 23.1L115.5 22.5L113.9 21L112.2 18.5L111.5 14.5L111.8 13L112.5 12.1L115.5 10.5ZM20.4 13.5L21.5 13.2L22.6 13.5L23.2 15.5L22.9 17L22 17.7L20 18.4L17.5 18.6L16 18.3L15.8 17.5L16.6 16.5L20.4 13.5ZM151.3 17.5L165.5 17.1L172.5 19.1L172.5 165.5L158.4 165.5L158.3 142L157.6 140L156.7 139L153.5 137.8L95 137.4L84.5 137.6L81 138.3L79 139.7L77.5 141.8L74.6 148.5L74.2 151L75.1 152.5L80.5 154.1L82 155.1L83.1 156.5L83.8 158.5L83.9 160.5L82.1 165.5L30.4 165.5L29.7 160L27.7 154L25.2 150L21.5 146.3L17.5 143.6L13.5 142.1L7.5 141L0 140.5L0 19.5L4.5 20L6.4 21L6.4 35L7.3 37.5L9.5 38.9L15 39.3L20 38.9L21.1 38L23.1 34L24.5 33.1L26.5 32.7L28 32.9L29.5 33.6L30.5 34.9L32 38.2L33.5 39.1L42.5 39.3L47 39L49 38.2L50 37L51 32L51.5 31.3L52.5 32.1L56.7 38.5L64.5 45.3L67.5 47.2L82.7 53L83.6 54.5L83 56.2L92.5 54.5L105.5 54.8L108.5 55.2L113 56.8L119.5 57.9L120.2 58.5L120.1 59.5L113.5 60.6L111.6 62L110.9 63.5L111.1 67.5L112 70.9L114 73.8L116 74.6L117 74.4L118.5 73.3L122 69L122.8 66L122.5 60L123.1 58.5L124.9 56.5L129 53.5L130.5 51.3L131.5 47.5L130.7 42.5L131.5 39.5L132.5 39.2L135 39.9L137.5 40L139.5 39.6L140.6 39L141 37.5L139.3 35L138.9 33L141.3 29L142.4 24L148.5 18.6L151.3 17.5ZM77.5 57L70.5 58.7L51.9 61.5L48 63L46.6 65L46.8 65.5L48 66L51 66L69.9 63L74.1 62L78.2 60.5L79.6 59.5L81.6 57L77.5 57ZM92.2 34L93.5 33.8L94.5 34.6L94.3 35L93.5 35.1L92.5 34.6L92.2 34ZM147.5 159L151 158.5L153.4 159.5L154.4 161.5L154.6 165.5L138.6 165.5L138.8 162.5L140 160.7L142 159.9L147.5 159Z"/>
<path fill="#ff5a00" d="M60.7 0L100.8 0L101.1 6L102.8 12L101.5 13.1L95.5 14L85 17.2L79.5 21.2L76.5 25.3L75 25.7L73.5 25.5L72 24.9L70.5 23.5L61.6 12.5L61.2 11L60.7 0ZM170.2 2L172.5 1.7L172.5 10L171 9.8L169.5 9L168.1 6.5L167.9 5L168.2 3.5L169 2.6L170.2 2ZM114.7 11L116.5 10.6L120 10.6L123.5 11.4L128.3 15L128.9 16.5L128.5 18L126.5 20.3L122.5 22.3L119 22.9L116 22.5L114.6 21.5L113.1 19.5L112.3 18L111.8 15.5L112.1 13L113 12L114.7 11ZM20.3 14L21.5 13.8L22 14.1L22.2 15.5L21.7 16.5L19.5 17.6L17.2 17.5L17 17L17.7 16L20.3 14ZM151 18L155.5 17.6L165.5 17.6L167.5 18.1L170.5 19.6L172.5 20L172.5 165.5L159.5 165.5L159.5 145L159.2 141L158.5 139.2L157.5 137.9L156 136.9L153.5 136.3L87 136L83 136.2L80.5 136.7L78.4 138L76.5 140.5L72.9 148.5L72.3 151.5L72.5 152.5L73.5 153.5L80 155.2L82 157L82.6 158.5L82.7 160.5L80.7 165.5L32.7 165.5L31.8 159.5L29.5 153L27 149.2L23 145.5L18.5 142.5L14.5 140.9L8 139.7L0 139.2L0 19.7L3.5 20.1L5.5 21L5.7 35.5L6.6 38L8.5 39.4L12.5 40L20 39.8L21.5 38.8L23.5 34.4L24.9 33.5L26.5 33.3L28.1 33.5L29.5 34.4L31.5 38.8L33 39.8L46.5 39.9L48.5 39.4L50 38.4L51 36.8L51.8 33.5L52 33.1L52.5 33.1L57 39L65.5 46.2L81 52.5L82.4 53.5L82.2 54.5L80.5 55.7L71.5 58.2L54.5 60.5L49.5 61.8L47.5 62.7L44.8 65L44.5 65.9L45 66.3L48 66.6L51.5 66.5L64.5 64.5L73 62.8L78.3 61L82 58.6L86 56.7L90 55.6L94 55.2L107 55.7L109.5 56.5L113.2 58.5L113.4 59L111.1 61L110.4 62.5L110.6 68.5L111.3 71.5L112.5 74.2L114 75.8L116 76.4L117.4 76L118.5 75.2L122.7 69.5L123.5 66.5L124 59L125.3 57L129.4 54L130.9 52L132.1 48L131.9 43.5L132.4 42L133.5 41.4L140 40.8L142.1 39.5L142.6 38.5L142.7 37L141.1 33.5L142.4 30.5L143.2 25L144.1 23.5L148.1 19.5L151 18ZM147.8 160.5L150.5 160.4L151.7 161L152.4 162.5L152.6 165.5L139.9 165.5L140 163.5L141 161.9L143 161.1L147.8 160.5Z"/>
<path fill="#ff4100" d="M61.4 0L100.3 0L100.6 6L101.9 11L101.8 12L100.5 12.8L95 13.8L85 16.9L79.3 21L76.5 25L75.5 25.5L73.5 25.3L71 23.8L62.3 13L61.8 11L61.4 0ZM170.3 3L172.5 2.6L172.5 9.3L170.5 8.8L169.1 7L168.9 4.5L170.3 3ZM115.4 11L120.5 10.8L123.5 11.6L128.1 15L128.7 16.5L128.3 18L126 20.4L122 22.3L118.5 22.7L116 22.2L114.5 21L113 19L112 15L112.2 13.5L112.8 12.5L115.4 11ZM19.7 15L20.5 14.7L21 15L20.9 15.5L20 16.3L18.7 16.5L18.6 16L19.7 15ZM150.7 18.5L154.5 18.1L165 18.1L167 18.5L170.5 20.5L172.5 20.8L172.5 165.5L160.5 165.5L160.4 144.5L160.1 140.5L159.4 138.5L158 136.7L156 135.4L153.5 134.7L85 134.4L81.5 134.6L79.5 135.1L77 136.9L75.2 139.5L70.9 149L70.2 152L70.6 153.5L72 154.7L74 155.4L78.5 156.1L80.7 157.5L81.3 159L81.3 160.5L79.3 165.5L34.6 165.5L33.7 159.5L31.2 152.5L28.6 148.5L24.8 145L20 141.7L15.5 139.9L9 138.6L0 137.9L0 20L3.8 20.5L4.8 21.5L5 36L6 38.5L8 40.1L12 40.8L20.5 40.5L22 39.5L24 34.7L25 34L26.5 33.8L28 34L29 34.7L31 39.5L32.5 40.5L36 40.8L47 40.6L49 40.1L50.5 39.1L51.6 37.5L52.5 34.8L53 34.7L57 39.3L65.5 46.4L80.4 52.5L81.6 53.5L81.1 54.5L79.5 55.4L72 57.8L55 60L49 61.6L43.5 65L43.2 66L44 67L46 67.3L52 66.8L73 63.2L78 61.6L86 57.6L91 56.1L94 55.9L106.5 56.5L109.1 57.5L110.3 59L109.7 62L109.7 65.5L110.2 70.5L111.3 74.5L113 76.7L114.5 77.5L116 77.8L117.5 77.4L119 76.2L123.1 70.5L124.1 67.5L124.8 59L126 57.2L129.8 54.5L131.4 52.5L132.4 49.5L133.2 43.5L134.6 42.5L141.1 41.5L142.5 40.7L143.4 39.5L144.5 34L143.7 29L144 25.5L144.8 24L148.2 20L150.7 18.5Z"/>
<path fill="#ff2800" d="M62.1 0L99.8 0L100 5.5L101 11.5L99.7 12.5L94 13.7L84.5 16.7L79 20.9L76.1 25L75 25.3L73.5 25.1L71 23.5L64 15L62.9 13L62.5 11.5L62.1 0ZM170.9 4L172.5 3.6L172.5 8.5L171 8L170 6.6L170 5L170.9 4ZM116.5 11L121.5 11.1L124 12.1L128 15.2L128.5 16.5L128.1 18L126 20.1L122 22L118.5 22.5L116 22L114.5 20.7L113 18.5L112.2 14.5L112.7 13L113.5 12.2L116.5 11ZM161.3 18.5L166 18.8L170 21.2L172.5 21.7L172.5 165.5L161.3 165.5L161.3 144.5L160.9 140L160 137.5L158.5 135.4L156.5 133.8L154 133L83.5 132.5L80.5 132.7L78.5 133.2L76.1 135L74 138L68.2 150L67.2 153.5L67.7 155L69.5 156.3L72.5 157.3L77.5 157.9L78.7 158.5L79.2 159.5L79.2 160.5L77.7 163.5L77.2 165.5L36.4 165.5L35.4 159.5L32.8 152L30.3 148L26.5 144.4L21.5 140.9L16.5 138.8L10 137.5L0 136.7L0 20.3L2.5 20.5L4 21.5L4.3 36.5L5.3 39L7.5 40.8L12.5 41.5L19 41.5L21.5 41.1L22.8 40L24.1 35.5L26 34.3L27.6 34.5L28.9 35.5L30.5 40.5L31.5 41.1L33.5 41.5L44.5 41.5L48.5 41.1L51 39.8L53 36.4L53.5 36.2L61.5 43.6L65.5 46.6L79.8 52.5L80.9 53.5L80.2 54.5L79 55.2L71.5 57.6L54.5 59.7L48.5 61.4L43.7 64L42.5 65L42.5 66.5L43.5 67.5L45.5 67.9L51.5 67.4L73 63.7L78 62L84.5 58.8L91.1 57L94 56.8L105 57.4L107 58.2L108.5 60.6L109.7 72.5L110.7 76L112.5 78.1L115.5 79.1L117.5 78.6L119 77.5L123.7 71L124.9 67.5L125.2 61L125.7 59L126.7 57.5L130.4 55L131.8 53.5L132.8 51L134 44.5L135.5 43.4L142 42.2L143.5 41.2L144.4 40L145.7 34L144.7 29L144.7 26.5L145.5 24.5L148 21L149.5 19.5L151.5 18.8L161.3 18.5ZM87.5 73.5L86.1 74L83.8 76.5L80 78.1L67.5 81.7L52.5 85L51.4 85.5L51 86.5L51.5 87L53 87.3L59.6 86.5L95 79L97.5 77.7L98.8 75.5L98 74L96 73.3L87.5 73.5Z"/>
<path fill="#fc1400" d="M63 0L99.1 0L99.3 5.5L100.1 11L99 12.1L87.5 15.2L84 16.6L78.5 20.8L76 24.6L75 25L74 24.9L72.5 24.3L71 23.1L64.8 15.5L63.6 13.5L63.3 11.5L63 0ZM172.5 5.5L172.5 6.7L171.9 6L172.5 5.5ZM115.1 11.5L120 11.2L123 11.8L127.6 15L128.2 16L128.1 17.5L126.5 19.5L122.5 21.6L119.5 22.3L116.5 22L115.1 21L113.5 19L112.5 15.5L112.5 14L113 13L115.1 11.5ZM150.8 19.5L154.5 19.1L165 19.2L167 19.9L170 22.3L172.5 22.7L172.5 55.8L167.5 55.4L166 54.7L163.5 52.8L161.5 52.3L140.5 53.4L134 54.1L134.1 48.5L135 45.2L136.5 44.3L142.5 43.2L144.3 42L145.3 40.5L146.6 34L145.5 28.5L145.6 26.5L146.5 24.5L148.8 21L150.8 19.5ZM0 21L0 20.6L2 20.9L3.2 22L3.4 36.5L4.5 39.5L7 41.6L12 42.4L19.5 42.4L22.5 42L24 41L24 38L24.5 36L25.5 35.2L26.5 34.9L28 35.5L28.7 36.5L29 41L30 41.8L32.5 42.3L44.5 42.4L48.5 42L51.5 40.7L54 37.6L65.5 46.8L78.2 52L80 53L80.2 53.5L78.5 55L71.5 57.4L54.5 59.4L47.5 61.3L43 63.7L41.8 65L41.6 66L42 67L44 68.5L46 68.6L52.5 67.7L73 64.2L77.5 62.7L84 59.6L88 58.6L93 58.4L105 60.1L107 60.9L108.1 62.5L108.7 66L108.9 75.5L111 80.7L111.5 81.3L112 81.4L117 80.3L118.5 79.4L120.3 77.5L123.9 72.5L125.3 69.5L125.8 67L126.1 61L126.6 59L128.5 57.2L133 55.2L133.5 55.5L133.8 59.5L134.3 61L135.2 62L137 62.6L172.5 62.8L172.5 165.5L162.3 165.5L162.2 144L161.8 139.5L160.8 136.5L159 133.7L157.1 132L155 131.3L139.5 131.5L94 131.1L81.5 130.6L78 131L75.5 132.5L73.5 135L65.7 150L62.4 155.5L60.5 160.6L59.8 165.5L38.1 165.5L37.2 159.5L34.3 151L31.7 147L28 143.5L22.5 139.7L17.5 137.6L11.5 136.5L0 135.6L0 21ZM63.5 71.5L47.5 72.5L43.4 73L42.5 73.5L43.1 74L45 74.1L65.5 73.1L71 73.1L78 74.4L79.2 75L79.7 76L77.3 77.5L72 79.2L50.5 84.2L48.8 85.5L48.7 86.5L49.5 87.7L51 88.6L53 88.8L63 87.6L95 80.3L98.5 78.7L101.2 76L101.6 75L101 74L99.4 73L95.5 72L75 71L63.5 71.5ZM110.5 82.3L109.1 83.5L108.4 85L108.3 86.5L109 87.3L110.5 86.8L111.3 85.5L111.4 83L111 82.2L110.5 82.3Z"/>
<path fill="#fa0000" d="M64 0L98.2 0L98.9 10.5L98.5 11.2L97.5 11.8L87 14.8L83.5 16.2L78.1 20.5L75.5 24.4L73.9 24.5L72.5 23.9L71 22.5L64.6 14L64 0ZM115.9 11.5L121 11.5L123.5 12.2L127.5 15.1L128.1 16.5L127.9 17.5L126 19.7L122 21.6L119 22.1L116.5 21.8L115.4 21L113.8 19L113 17.2L112.6 15L113.2 13L115.9 11.5ZM151.7 20L165 19.9L166.5 20.6L169.5 23.4L172.5 24L172.5 53.9L168 53.4L166.7 52.5L164.5 50L162.5 49.4L138.5 50.5L136.5 50.2L135.7 49.5L135.5 47.5L136.4 46L143.5 44.2L145.2 43L146.3 41.5L147.1 39L147.5 35L147.3 32L146.5 28.5L146.7 26.5L149.5 21.3L150.3 20.5L151.7 20ZM0 21.5L0 21.1L1.5 21.5L2 22.5L2 34.5L2.7 38.5L4.1 41L6.5 42.6L9 43.2L12 43.4L26.5 43.1L33.5 43.4L46.5 43.4L51 42.4L52.5 41.4L54 39.5L55 39.2L65 46.8L76.7 51.5L79.5 53L79.5 53.7L78.5 54.6L71.5 57.1L54 59.2L46.5 61.3L42.3 63.5L41.3 64.5L40.9 65.5L41.2 67L42 68.2L44.5 69.8L46.5 69.8L73.5 64.6L76.5 63.6L83.5 60.4L87 59.5L92 59.5L104.5 61.1L107 62.1L108 64.5L108.1 68.5L107.5 72.1L107 73.1L106 73.8L96.5 71.2L84.5 70.7L74 69.6L52 70.5L46 70.4L41 71.6L39.5 72.5L39.2 74L39.8 75L42.5 76L67 75L72 75.2L74.3 76L74.4 76.5L73.8 77L69.7 78.5L50 82.9L48 84L47.1 85.5L47.5 87.5L49.5 89.4L52 90.2L60.5 91L62 92L63.5 94L65.5 95.7L67.9 97L71 98L78.5 99.3L85 99.2L90.3 98L99.5 94.4L107.5 93.8L111.5 92.3L114.1 89.5L116.6 83L120.5 79.1L125.3 72L126.7 68L127.4 60.5L128 59.3L129 58.7L130.1 59L131.3 62.5L132.3 64L133.5 64.9L135.5 65.5L172.5 65.8L172.5 165.5L163.4 165.5L163.4 143.5L162.9 138.5L161.7 135L160 131.8L158.5 130.4L156.5 129.6L138.5 130.3L92 129.6L80 128.7L76.5 129.2L74.4 130.5L72.3 133L64.1 148.5L60.5 154.5L58.4 160.5L57.7 165.5L40.1 165.5L39.3 159.5L36.2 150.5L33.5 146L29 141.8L23.5 138.1L18.5 136.1L13.5 135.3L0 134.3L0 21.5ZM25.9 36L27.1 36L27.9 37L27.8 38.5L27 39.4L26 39.4L25.2 38.5L25.1 37L25.9 36ZM102.4 78L104 77.7L105.4 78L105.8 79L105.5 80L102 84.9L99 87.1L97 87.6L94 87.6L85 87.2L82.8 86.5L84 85.5L86.3 84.5L97.5 81.1L102.4 78Z"/>
<path fill="#e90000" d="M65.8 0L96.5 0L96.9 10L96 11L94.8 11.5L85.5 14.3L82.5 15.7L77.2 20L75 23.5L73.5 23.6L71 21.4L67.5 17L66.1 14.5L65.8 0ZM115 12L119.5 11.6L123 12.2L127.1 15L127.8 16L127.7 17.5L126 19.4L122 21.4L119 21.9L116.5 21.5L114 19L113 16L113.2 13.5L115 12ZM152.9 21L164.2 21L165.5 21.7L168.5 25.2L170 25.8L172.5 26.1L172.5 52L169 51.5L168 50.6L166.5 47.8L164.5 46.6L161.5 46.4L149.5 46.9L146.5 46.5L146.4 45.5L148.2 42.5L148.9 39.5L148.6 33L148 28.5L148.2 27L150.6 22L151.5 21.3L152.9 21ZM0 39L0 38.6L2.3 42L4.5 43.8L7 44.8L10.5 45.2L44 45.1L51.5 44L53 43.3L55.1 41.5L56 41.2L65.5 47.3L76.3 51.5L78.9 53L79 53.6L77.9 54.5L71.5 56.9L53.5 59L47.5 60.4L43.5 62.2L41.5 63.4L40.5 64.5L40.1 66L41.1 69.5L38.5 71.3L37.5 73L37.5 74.5L38 75.9L40 77.5L43.5 78L50.5 78.2L52.9 78.5L53.5 79L47.5 81.8L46 82.9L44.9 85L45.2 87.5L47 90.2L51 93.5L57.4 100.5L61 102.8L64.5 103.8L79 104.8L87 104.4L93.7 103L102.7 100.5L108.5 98.6L112.5 96.7L115.5 94.5L117.3 92L118.4 89.5L120.1 83.5L126.7 73L128.8 68L129.5 67.1L134 68.4L137 68.6L172.5 68.7L172.5 165.5L165.3 165.5L165.3 143.5L164.9 138L162.7 130.5L161.5 128.7L160 127.6L157 127.2L150.5 128.5L146 129L132.5 129L112.5 128.3L91 128.1L77.5 126.3L75 126.7L73 127.8L71.2 129.5L69.2 132.5L57.2 155.5L55.4 161L54.9 165.5L43.3 165.5L42.2 158.5L38.7 148.5L35.5 143.5L31 139.4L25.5 135.8L21 134.2L0 133.1L0 39ZM85 60.5L91 60.3L105.5 62.1L106.8 63L107.5 64.7L107.6 67.5L107 69.7L106 71.1L104 71.5L96 70.3L84 69.8L76 68.5L62.1 68L75 64.9L85 60.5Z"/>
<path fill="#d90000" d="M115.6 12L120.5 11.8L123 12.4L127 15.1L127.7 16.5L127.5 17.5L125.5 19.5L122 21.2L119 21.7L116.5 21.3L115.5 20.5L114 18.5L113.1 15.5L113.5 13.4L115.6 12ZM53.4 45.5L58.5 45.3L61 45.6L75.9 51.5L77.9 52.5L78.4 53.5L76.1 55L71 56.7L54 58.5L45 60.7L42 62.3L39.9 64L39 65.5L38.8 68.5L36.5 70.5L34 74.5L32.5 74.8L30.4 74L29 72L28.7 67.5L29.2 61.5L30.7 58.5L36.5 52L39.5 49.7L46.5 46.3L53.4 45.5ZM86.8 61L95 61.4L105 62.7L106 63.3L106.8 64.5L107 66.5L106.7 68L105.5 69.5L104 70L86 69.3L81.1 68.5L76.3 66.5L76.7 65.5L80.5 63L84 61.5L86.8 61ZM0 70L15 70L20 70.6L22.5 71.5L24.5 72.7L25.8 74L26.8 76L27.3 79.5L27.5 84.5L27.3 89L26.8 92L25 95.5L20.8 99L20.1 100L20.5 101L23.9 105L25.5 108.5L27.2 117L27.4 122.5L26.8 125L25.3 127.5L23.5 129.1L20.7 130.5L16.6 131.5L12 132L0 131.7L0 70ZM120.6 100L145.5 100.7L149 101.2L151.8 102.5L154.4 105.5L155.9 110L156.9 119L156.7 121.5L156 123.5L154.6 125L152 126.5L148.5 127.4L144 127.8L130 127.7L111.5 126.7L88.5 126.2L83.7 125L79.1 122.5L70.6 115L68.8 112L68.9 111L69.5 110L72 108.9L84.5 108.1L90.5 107.3L105 104.2L116.5 100.7L120.6 100Z"/>
<path fill="#c80000" d="M115 12.5L117.5 12L122.5 12.5L126.6 15L127.3 16L127.4 17L125.9 19L122 20.9L119.5 21.4L117 21.2L114.9 19.5L113.5 16.5L113.5 14L115 12.5ZM47.7 47L55 46.6L62 46.8L75.4 51.5L77.4 52.5L77.8 53.5L75.3 55L70.5 56.6L54 58.2L45.5 59.8L43 60.8L37 64.7L34.5 64.4L33 63.5L31.9 61.5L32.2 59.5L36.8 53.5L40.5 50.6L45.5 47.8L47.7 47ZM86 62L94 62.1L104 63.3L105.9 64.5L106.2 66.5L105.5 67.9L104.5 68.5L100.5 68.8L85 68.5L82 67.8L79.9 66.5L79.5 65.5L80.6 64L83.5 62.5L86 62ZM0 74L0 73.5L15.5 73.6L19 74.3L21.3 75.5L23.2 78.5L23.9 83L23.6 89L23.1 91L22 92.8L19.5 94.6L15 95.5L8 95.4L0 94.2L0 74ZM0 102L0 101.7L4.5 102.1L14 103.8L17.5 105L20.1 107L21.4 109L22.2 111.5L23.5 119.5L22.9 123.5L20.6 126.5L17 128.6L12 130L8 130.2L0 129.9L0 102ZM122 104L143 105.3L146.5 106L148.5 107L150.6 109.5L152.1 114L152.7 120L152.5 122L151.8 123.5L150 125L147.5 125.8L137.5 126.3L124.5 125.9L107.5 123.7L91 123.3L88 122.6L86 121.5L83.7 119L82.1 116L82.3 114.5L84.2 113.5L104.5 109.3L116 105L122 104Z"/>
<path fill="#bb0000" d="M115.7 12.5L120.5 12.3L123 12.9L126.7 15.5L127.2 16.5L127 17.4L125.4 19L121.5 20.8L119 21.2L117 20.9L114.9 19L113.7 16L114 13.6L115.7 12.5ZM49.6 47.5L59.5 47.4L63.5 47.8L69.5 49.5L74.9 51.5L76.8 52.5L77.2 53.5L74.5 55L70 56.4L54.5 57.8L45 59.1L43 59.9L37.5 63.3L35.5 63.2L33.6 62L33.1 60.5L33.6 59L38.5 53L45.9 48.5L49.6 47.5ZM90.8 63L95.5 63.1L103 64L104.5 64.6L105 66L104.3 67L102.5 67.5L90 67.8L84.5 67.5L83 67L81.9 66L81.9 65L82.4 64.5L84 63.7L90.8 63ZM0 77L0 76.5L13.5 76.6L16.5 76.9L18.5 77.8L20 79.5L20.8 82.5L20.7 87L19.7 90L17.5 91.8L13.5 92.4L8 92.2L0 90.8L0 77ZM0 106L3.6 106L12 107.4L15 108.4L16.6 109.5L18.4 112.5L19.4 118L19.2 121L17.8 123.5L14.9 125.5L10.5 127L7 127.3L0 127.1L0 106ZM122.4 109L126 109.1L132.7 110L140 111.3L143.5 112.5L145.5 113.9L147 116L147.8 119L147.4 121.5L146.5 122.6L144.5 123.4L138.5 124L126.9 123.5L123.5 122.9L120.5 121.8L118.5 120.5L117.4 119L116.6 116.5L116.6 114L117.2 112L118.4 110.5L120.1 109.5L122.4 109Z"/>
<path fill="#ad0000" d="M115.3 13L118 12.5L122.4 13L126.3 15.5L126.8 17L125.5 18.6L121.6 20.5L119 20.9L117 20.6L115 18.7L114.1 16.5L114 14.4L115.3 13ZM48 48.5L57.5 48.1L63.5 48.5L71.5 50.5L75.3 52L76.5 53L76.4 53.5L74.7 54.5L70 56L45.5 58.1L43 59L38 62.1L36 62.3L34.6 61.5L34.2 60.5L34.6 59L38.6 54L41.5 51.8L48 48.5ZM91.8 65L95.9 65L97.3 65.5L92 65.8L89.7 65.5L91.8 65Z"/>
<path fill="#a00000" d="M116.4 13L120.5 13L122.5 13.4L125.8 15.5L126.4 17L125 18.5L121.9 20L120 20.5L117.5 20.4L115.5 18.7L114.4 16L114.6 14L116.4 13ZM50.6 49L60.1 49L67 49.7L73.1 51.5L75.6 53L74.5 54L70.1 55.5L45 57.3L42.5 58.2L38 61.1L36.5 61.2L35.6 60.5L35.5 59.5L36.4 58L40.5 53.5L47 49.7L50.6 49Z"/>
<path fill="#e0f8ff" d="M132.9 0L142.5 0L142.5 2.5L141.2 4.5L142 5L144.5 5.2L146.5 6L147.7 7L148.4 8.5L147.7 11L144.5 14.9L141 15.9L138 17.9L136.5 18.3L134.3 18L132 16.5L128.7 11.5L128.4 10L129 8.1L130 7L131.5 6.2L134.6 5.5L135.1 5L132.8 2.5L132.9 0ZM58.1 14.5L60 14.6L62 15.8L65 18.7L71 25.7L75 27L77.5 26.3L81.5 22.1L84.5 19.9L86.5 19L97.5 16L104 16.5L105.5 17.6L107 22.6L111.3 26L112.9 28.5L113.5 32.5L112.7 37L110.6 40.5L108.5 42.6L105.5 43.9L102 44L101.2 43.5L100.9 42.5L101.3 40.5L102.9 39.5L108.4 38L109.1 36.5L108.4 35L107 34.2L101.5 33.5L98 32.1L93 31.1L91 31.2L90 32L89.7 33.5L92.5 38L93.7 42L93.5 44L92.5 45.6L88.5 50.2L86 51.5L79.5 50.9L75.5 49.6L68 46.4L66 45.2L58 38.3L55.7 35L52.3 27.5L51.8 24.5L53.2 19.5L54.5 16.7L56 15.2L58.1 14.5Z"/>
<path fill="#c0f0ff" d="M133.1 0L142.2 0L142.3 2L141.5 3.3L140 4.2L136 4.4L134.5 3.8L133.1 2.5L133.1 0ZM141.4 6L144.5 5.8L147 6.7L148.1 8.5L147.5 10.6L144.5 13.1L140.5 14.5L137.5 17.6L135.5 17.8L133.8 17L132.5 15.5L130.6 12L130.5 10.5L131 9.4L133 8.1L136.5 7.5L141.4 6ZM57.1 15L59.5 14.7L61.5 15.6L65 18.9L70.5 25.4L72.3 26.5L75 27.1L77.5 26.4L81.5 22.3L84.5 20.2L86.5 19.3L97 16.4L100.5 16.3L104 16.9L105.2 18L106.5 23L110.4 26.5L111.8 28.5L112.3 32L111.6 36L110.5 37.6L109.2 35L107.5 33.9L102.5 33.3L98.5 31.7L93 30.8L91 30.9L89.8 32L89.6 33.5L92.1 37.5L93.2 40.5L93.6 43L92.8 45L89 49.5L86.5 51.2L84.5 51.4L81 51.1L77 50.1L66.5 45.5L58.4 38.5L56.4 36L52.6 28L51.9 25L52.7 21.5L54.3 17.5L55.5 15.9L57.1 15ZM109.5 38.5L109.9 38.5L109.9 39L109.2 40.5L106.9 42.5L103.5 43.3L102.5 43.1L101.7 42.5L101.7 41L102.9 40L109.5 38.5Z"/>
<path fill="#9ae4ff" d="M133.3 0L142 0L142.1 1.5L141.5 2.9L140 3.7L136 3.9L134.5 3.4L133.5 2.6L133.1 1.5L133.3 0ZM141.5 6.5L144.5 6.2L146.5 6.7L147.7 8L147.6 10L146.5 11.3L144 12.7L138.5 13.5L138.6 15L137.9 16.5L136.5 17.2L135 16.9L133.8 15.5L134 13.7L135 12.8L137 12.2L136.9 10L138.1 8L139.5 7.1L141.5 6.5ZM57.9 15L60 15L61.5 15.7L65 19L70.5 25.6L72.5 26.7L75 27.2L77.5 26.6L81.5 22.5L86 19.7L97 16.7L100 16.6L103.5 17.2L104.8 18.5L105.4 22L106.3 24L109.5 27.3L110.5 28.8L110.9 31L110.7 33.5L110 34.1L107.5 33.3L103 32.7L100 31.4L93 30.4L90.5 30.8L89.5 32L89.4 33.5L92.2 38L93.2 41L93.4 43L92.6 45L88.8 49.5L86.5 51L83.5 51.2L77.5 50.2L66.5 45.3L58.5 38.5L56.2 35.5L52.8 28L52.1 24.5L53.3 20L54.5 17.4L56 15.8L57.9 15ZM103.8 40.5L106 40.1L107.1 40.5L106.2 41.5L104 42.1L102.8 41.5L102.9 41L103.8 40.5Z"/>
<path fill="#73d7ff" d="M133.5 0L141.8 0L141.9 1.5L141.5 2.5L140 3.4L136 3.7L133.7 2.5L133.4 1.5L133.5 0ZM140.9 7L144 6.5L146 6.7L147.5 8L147.6 9.5L146.5 10.9L144 12.2L141.5 12.8L139 12.3L137.7 11L137.7 9.5L138.9 8L140.9 7ZM135.6 14.5L136.5 14.3L137 14.7L137.1 15.5L136.7 16L135.5 15.8L135.3 15L135.6 14.5ZM57 15.5L59.5 15.1L61.5 15.9L64.9 19L70.5 25.7L72.5 26.8L75 27.3L77.5 26.7L81.5 22.7L86 20L97.5 17.1L102.7 17.5L104.1 18.5L105.1 23.5L108 29L108.5 31L108 31.7L106 32L101 30.7L97 30.7L92.5 30L90.5 30.5L89.3 32L89.3 33.5L91.8 37.5L92.8 40L93.3 42.5L92.8 44.5L88.6 49.5L86.5 50.9L84 51.1L78.5 50.4L66.9 45.5L58.7 38.5L56.6 36L53.1 28.5L52.2 25L52.7 22.5L54.1 18.5L55.5 16.4L57 15.5Z"/>
<path fill="#50c6ff" d="M133.7 0L141.6 0L141.7 1.5L141.1 2.5L140 3.2L136 3.4L134 2.5L133.6 1.5L133.7 0ZM142.4 7L145 6.8L146.5 7.2L147.4 8.5L147.1 10L145.5 11.3L142.5 12.3L140.5 12.4L139 11.9L138 10.5L138.4 9L140 7.7L142.4 7ZM57.7 15.5L59.5 15.3L61.5 16.1L64.7 19L70.5 25.8L72.5 26.9L75 27.4L77.5 26.8L82 22.6L86 20.2L97.5 17.7L101.9 18L103 18.5L103.6 19.5L104.5 27L104 28L103 28.7L98.3 30L96.5 30.1L92.5 29.3L90.5 30.1L89.3 31.5L89.1 33L92.6 40L93.2 42.5L92.6 44.5L88.5 49.4L86.5 50.8L84.5 51L79 50.5L67 45.5L58.8 38.5L56.7 36L53.2 28.5L52.4 25L53 22L54.5 18.1L56 16.3L57.7 15.5Z"/>
<path fill="#2db4ff" d="M133.9 0L141.4 0L141.5 1.5L140.8 2.5L139.5 3.1L136 3.2L134 2.1L133.9 0ZM141.2 7.5L144 7L146 7.2L147 8L147.1 9.5L146 10.7L144.5 11.4L142 12.1L140 12L138.6 11L138.3 10L139.2 8.5L141.2 7.5ZM58.6 15.5L60.5 15.7L62 16.6L64.6 19L70.5 25.9L72 26.8L74.5 27.5L76 27.5L77.5 26.9L82.5 22.4L86.5 20.3L89.5 20.1L93.3 20.5L96.4 21.5L97.9 22.5L97.4 24.5L97.8 26.5L97.5 27.5L96.5 27.6L95.5 26.9L94 27.3L91 29.1L89.1 31.5L89 33.5L92 38.5L93 43L92.1 45L88 49.7L86.5 50.6L84.5 50.9L79.5 50.5L76.5 49.5L67 45.3L57.9 37.5L56.5 35.4L54.4 31L52.8 27L52.5 25L53.3 21.5L54.7 18L56.5 16.2L58.6 15.5Z"/>
<path fill="#1e9cff" d="M134 0.5L134 0L141.2 0L141.3 1L141 2L140 2.7L137 3.1L134.5 2.3L134 1.5L134 0.5ZM142.4 7.5L144.5 7.2L146 7.5L147 8.5L146.9 9.5L145.5 10.8L142.5 11.8L140.5 11.8L139 11L138.7 10L139.1 9L140.5 8L142.4 7.5ZM57.5 16L59.5 15.6L61.5 16.4L64.5 19L70.4 26L72 26.9L74.5 27.6L76 27.6L77.5 27L82 23L86 20.7L90 20.7L92.4 22L93.1 23.5L92.9 25.5L89.5 30.3L88.8 32.5L89.3 34.5L91.9 38.5L92.9 43L92 45L88 49.5L86.5 50.5L84.5 50.8L80 50.5L76.7 49.5L67 45.2L58.1 37.5L56.7 35.5L54.5 31L53 27L52.6 25L53.1 22.5L54.5 18.7L55.8 17L57.5 16Z"/>
<path fill="#0f84ff" d="M134.2 0L141 0L141 1.5L139.5 2.6L136 2.8L134.5 2L134.2 0ZM143.9 7.5L145.5 7.6L146.5 8.2L146.8 9L146 10.2L142 11.6L140.5 11.5L139.4 11L139 10L140 8.6L143.9 7.5ZM58.1 16L60 15.9L62 16.9L64.8 19.5L70 25.8L71.5 26.8L74 27.6L76 27.7L77.5 27.1L82.5 22.8L86 20.9L89.5 21.1L92 22.5L92.5 24L92.3 25.5L89.5 29.9L88.6 32.5L89.2 34.5L91.7 38.5L92.8 43L92 44.8L88 49.3L86.5 50.3L84.5 50.7L80 50.4L76.9 49.5L67 45.1L58.2 37.5L56.8 35.5L54.9 31.5L53.1 27L52.8 25L53.4 22L54.8 18.5L56 17L58.1 16Z"/>
<path fill="#0a6cfc" d="M134.5 0L140.7 0L140.8 1L140.5 1.8L139.5 2.4L136.5 2.6L134.8 2L134.5 1.5L134.5 0ZM142.3 8L145.5 7.8L146.4 8.5L146.5 9L145.5 10.2L143.5 11L141.5 11.4L139.9 11L139.4 10.5L139.5 9.4L140.6 8.5L142.3 8ZM57.3 16.5L59.5 16L61.5 16.7L64.5 19.3L70.1 26L72 27.1L74.5 27.8L76 27.8L77.5 27.3L82 23.4L85.5 21.3L88.5 21.1L91.4 22.5L92 23.5L92 25L89 30.4L88.5 32.5L89 34.5L91.6 38.5L92.6 43L92 44.6L88 49.2L86.5 50.2L84.5 50.6L80 50.3L77.2 49.5L67 45L58.3 37.5L57 35.7L55.4 32.5L52.9 25.5L53.2 23L54.5 19.3L55.8 17.5L57.3 16.5Z"/>
<path fill="#0555f8" d="M134.7 0L140.5 0L140.5 1L139.5 2.1L136.5 2.4L134.8 1.5L134.7 0ZM143.9 8L145.1 8L146 8.4L146 9.5L144.5 10.4L142 11.1L140.6 11L139.8 10.5L139.8 9.5L140.5 8.9L143.9 8ZM57.9 16.5L60 16.2L62 17.2L64.5 19.5L70 26L71.5 27L74 27.8L76 27.9L77.5 27.4L82 23.6L85.5 21.5L88.5 21.4L91 22.6L91.6 23.5L91.6 25L89 29.9L88.3 32.5L88.9 34.5L91.5 38.5L92.5 43L91.9 44.5L88 49L86.5 50.1L85 50.4L80 50.2L77.4 49.5L67.2 45L58.5 37.5L57 35.5L55 31.3L53.5 27.5L53 25L53.5 22.4L54.8 19L56 17.5L57.9 16.5Z"/>
<path fill="#033ef2" d="M135 0L140.2 0L140.2 1L139 2L136 2L135 1.2L135 0ZM142.7 8.5L145 8.3L145.7 9L145 9.8L143.1 10.5L141.5 10.8L140.4 10.5L140.1 10L140.5 9.3L142.7 8.5ZM58.7 16.5L60.5 16.6L62 17.4L64.5 19.6L70 26.2L71.5 27.1L74 27.9L76 28L77.5 27.5L82 23.8L85.5 21.7L88.5 21.7L91 23L91.4 24L91.3 25L89 29.4L88.2 32.5L88.8 34.5L91.5 38.8L92.4 43L91.7 44.5L87.8 49L86.3 50L84.5 50.3L79.5 50L76.4 49L67.4 45L58.5 37.4L57 35.3L55 31L53.5 27L53.2 25L53.8 22L55 19L56.5 17.4L58.7 16.5Z"/>
<path fill="#0228eb" d="M135.3 0L139.8 0L139.7 1L138.5 1.7L136.5 1.7L135.5 1.2L135.3 0ZM142.4 9L144.9 9L144.6 9.5L143.3 10L141.5 10.3L140.9 10L141.1 9.5L142.4 9ZM57.8 17L60 16.6L62 17.5L64.5 19.8L70 26.3L71.5 27.2L74 28L76 28.1L77.5 27.6L82 23.9L85.5 21.9L88 21.8L90.6 23L91.1 24L91.1 25L88.7 29.5L88.1 32.5L88.7 34.5L91.4 39L92.2 43L91.6 44.5L88 48.7L86.5 49.8L84.5 50.2L80 50L76.6 49L67.5 45L58.5 37.2L57 35.1L55 30.7L53.6 27L53.3 25L53.9 22L55 19.3L56 18.1L57.8 17Z"/>
<path fill="#0115e2" d="M136 0L139.1 0L138.6 1L137.5 1.1L136.4 1L136 0ZM58.6 17L60.5 16.9L62 17.7L64.5 20L70 26.4L71.5 27.3L74 28.1L76 28.2L77.5 27.7L82.5 23.8L85.5 22.1L88 22L90.2 23L90.8 24L90.8 25L88.5 29.5L87.9 32.5L88.5 34.5L91.1 38.5L92 41.5L92.1 43L91.4 44.5L87.5 48.9L86 49.9L84 50.1L80 49.9L76.9 49L67.5 44.8L58.5 37.1L57 34.9L55 30.4L53.4 25L54 22.1L55.1 19.5L56.5 17.9L58.6 17Z"/>
<path fill="#0002da" d="M57.9 17.5L60 17.1L62 17.9L64.5 20.1L69.9 26.5L71.5 27.4L74 28.2L76 28.3L77.5 27.9L82.5 24L85.5 22.3L88 22.2L90 23.1L90.6 24L90.6 25L88.5 29L87.8 32.5L88.4 34.5L91 38.5L92 42.5L91.3 44.5L87.8 48.5L86.5 49.5L84.5 50L80 49.8L77.2 49L67.5 44.7L59 37.4L57.5 35.5L56 32.5L53.6 25.5L53.9 23L55 20L56 18.6L57.9 17.5Z"/>
<path fill="#0001ca" d="M58.7 17.5L60.5 17.4L62 18.1L64.5 20.3L69.7 26.5L71.5 27.6L74 28.3L76 28.4L78 27.7L82.1 24.5L85.5 22.5L88 22.4L90 23.5L90.3 25L88.3 29L87.6 32.5L88.2 34.5L91 38.9L91.9 42.5L91.1 44.5L87.5 48.6L86 49.6L84 49.9L79.5 49.6L76.2 48.5L67.4 44.5L58.7 37L57.3 35L55.5 31L54.1 27L53.8 25L54.5 21.5L55.5 19.5L56.5 18.5L58.7 17.5Z"/>
<path fill="#0001ba" d="M58.1 18L60 17.5L62 18.3L64.5 20.5L69.6 26.5L71.5 27.7L74 28.4L76 28.6L77.5 28.1L82.5 24.4L85.5 22.7L87.5 22.5L89.7 23.5L90.1 25L88.1 29L87.5 32.5L88.1 34.5L90.7 38.5L91.7 42.5L91 44.4L87.5 48.4L86 49.4L84 49.7L79.6 49.5L76.5 48.5L67.6 44.5L59 37.1L56.5 33L54.5 28L53.9 25.5L54.1 23.5L55.1 20.5L56.3 19L58.1 18Z"/>
<path fill="#0000aa" d="M59 18L61 18L62.5 18.8L69.5 26.6L71.5 27.8L74 28.6L76 28.7L77.5 28.3L85.5 22.9L87.5 22.7L89.4 23.5L89.8 25L87.9 29L87.3 32.5L87.9 34.5L90.6 38.5L91.6 42.5L91 44.1L87.5 48.2L86 49.3L84 49.6L80 49.4L76.8 48.5L67.8 44.5L59 36.9L57.5 34.8L56 31.5L54.5 27.4L54.1 25L54.5 22.7L55.5 20.2L56.7 19L59 18Z"/>
<path fill="#00009c" d="M58.5 18.5L60.5 18.1L62.5 19L69.5 26.8L71 27.8L74.5 28.8L76.5 28.7L78 28.2L83 24.5L85.5 23.1L87.5 22.9L89 23.5L89.6 25L87.7 29L87.1 32.5L87.8 34.5L90.5 38.7L91.4 42.5L90.9 44L87.5 48L86 49.1L84.5 49.4L80 49.3L77.2 48.5L68 44.5L59.3 37L58 35.4L56.5 32.3L55 28.4L54.3 25.5L54.5 23.5L55.5 20.7L56.5 19.5L58.5 18.5Z"/>
<path fill="#00008e" d="M59.7 18.5L61 18.5L63 19.6L70 27.4L74 28.9L76 29L78 28.4L85.5 23.3L87.5 23.2L89 23.9L89.3 25L87.3 29.5L86.9 32.5L87.6 34.5L90.5 39L91.2 42.5L90.7 44L87.2 48L85.5 49.1L83.5 49.3L79.5 49.1L76.3 48L67.6 44L59 36.5L57.5 34.2L56 30.7L54.5 25L55 22.4L56 20.4L57.1 19.5L59.7 18.5Z"/>
<path fill="#000080" d="M59.4 19L61 18.8L62.5 19.5L69.5 27.2L71.5 28.3L74.5 29.1L76 29.1L78 28.5L85.5 23.5L87.5 23.4L88.7 24L89.1 25L87.3 29L86.7 32.5L87.4 34.5L90.1 38.5L91.1 42.5L90.5 44L87 48L85.5 48.9L83.5 49.1L80 49L76.7 48L67.9 44L59.5 36.8L58 34.8L56.5 31.5L55 27L54.8 25L55.1 23L56 20.9L57 20L59.4 19Z"/>
<use href="#grid"/>
<use href="#land"/>
</g>
<path d="M0 165.3H172.6V0" fill="none" stroke="#555" stroke-width="1.1"/>
<path d="M0 165.3V0" fill="none" stroke="#333" stroke-width="1.1"/>
<path d="M-0.5 0H172.6" fill="none" stroke="#000" stroke-width="1.1"/>
</g>
<text x="27.8" y="35.0" text-anchor="end" class="t">75°N</text>
<text x="27.8" y="70.9" text-anchor="end" class="t">50°N</text>
<text x="27.8" y="106.9" text-anchor="end" class="t">25°N</text>
<text x="18.2" y="142.8" text-anchor="middle" class="t">0°</text>
<text x="27.8" y="178.7" text-anchor="end" class="t">25°S</text>
<text x="51.2" y="200.6" text-anchor="middle" class="t">85°W</text>
<text x="84.4" y="200.6" text-anchor="middle" class="t">60°W</text>
<text x="117.6" y="200.6" text-anchor="middle" class="t">35°W</text>
<text x="150.8" y="200.6" text-anchor="middle" class="t">10°W</text>
<text x="184.0" y="200.6" text-anchor="middle" class="t">15°E</text>
<g transform="translate(247.9 23.6)">
<g clip-path="url(#mc)">
<rect width="172.6" height="165.3" fill="#fff"/>
<path fill="#fff5de" d="M35.3 0L172.5 0L172.5 165.5L0 165.5L0 17.1L10.5 16.9L20 10.3L31 5.2L33.5 5.3L35.5 7.3L37 8L42.5 8.6L44 8.1L44 6.7L43 5.8L37 5.2L35 4.5L34.7 3L35.3 0Z"/>
<path fill="#ffebbe" d="M36.1 0L172.5 0L172.5 165.5L0 165.5L0 17.7L10.9 17.5L20.5 10.8L30.5 6.2L32.5 6.3L35 8.5L36.2 9L43.5 9.9L45.3 9.5L45.7 7.5L44.7 5L43 4.3L38 4.1L36.5 3.6L35.9 2.5L36.1 0Z"/>
<path fill="#ffde96" d="M36.6 0L172.5 0L172.5 165.5L0 165.5L0 18.1L11 17.9L20.5 11.2L30.5 6.7L32.4 7L34.5 9L36 9.6L44 10.7L46 10.3L46.6 9.5L46.7 8L46.3 6L45.5 4.5L43.5 3.6L37.5 3.2L36.5 2.1L36.6 0Z"/>
<path fill="#ffd26e" d="M36.9 0L172.5 0L172.5 165.5L0 165.5L0 18.4L11 18.3L20.5 11.6L30.5 7L32 7.3L34.4 9.5L36 10.1L44.5 11.3L46 11.2L47 10.6L47.4 9.5L47.3 7.5L46.8 5.5L46 4L44 3L38 2.8L37.1 2L36.9 0Z"/>
<path fill="#ffc346" d="M37.3 0L172.5 0L172.5 165.5L0 165.5L0 18.6L11 18.6L20.5 11.9L30 7.5L31.5 7.5L34 9.8L35.7 10.5L45 11.9L46.5 11.8L47.5 11.2L48.1 10L48.1 8L47.5 5.4L46.5 3.6L45.5 2.8L44 2.4L38 2.2L37.4 1.5L37.3 0Z"/>
<path fill="#ffb41e" d="M37.6 0L172.5 0L172.5 165.5L22.3 165.5L21.7 161.5L20.5 158L18.5 154.9L15.3 151.5L12 149L8 147L4.5 145.9L0 145.4L0 18.9L9.5 19.1L11.5 18.7L20.5 12.2L30 7.8L31.5 7.9L33.7 10L35.5 10.8L45.5 12.4L47 12.4L48 11.9L48.8 10.5L48.8 8.5L48.1 5L47 3.2L44.5 1.9L38.5 1.9L38 1.5L37.6 0ZM27 17.4L26.4 18.5L26.2 21L26.5 22L27.5 22.3L28.6 21.5L28.7 19.5L28.1 17.5L27 17.4Z"/>
<path fill="#ffa00f" d="M38 0L172.5 0L172.5 165.5L164.6 165.5L164 163.9L162.5 162.5L156.8 160L150.1 158.5L136.5 156.9L132 157.4L130.2 158.5L130.5 159.5L133.9 163L134.8 165.5L24.5 165.5L24 160.9L22.8 157L20.6 153.5L17.4 150L13.5 146.9L9 144.6L4.5 143.3L0 142.9L0 19.1L11 19.2L12.5 18.4L20.5 12.4L30 8L31.5 8.4L33.5 10.3L35.5 11.2L40 11.7L46.5 13.1L48.7 12.5L49.6 11L49.7 9L48.9 5L47.8 3L46.5 1.9L44.5 1.2L39 1.5L38.3 1L38 0ZM26.5 15.7L25.4 17L24.4 22.5L25 24.1L27 24.6L28.5 24.2L29.5 23.4L30 22.4L30.1 20.5L29.3 16.5L28 15.6L26.5 15.7Z"/>
<path fill="#ff8c00" d="M38.5 0L172.5 0L172.5 165.5L168.1 165.5L167.5 163L165.5 160.6L162.5 158.8L158 157L151 155.4L136 153.7L128.5 154.7L126.5 155.5L125 157L124.7 158.5L125.3 160L129.1 163.5L130.1 165.5L26 165.5L25.5 159.6L24.5 155.3L22.9 152L19.8 148.5L15.5 145L10.5 142.4L5.5 140.9L0 140.3L0 19.3L9.5 19.7L11.5 19.3L20.8 12.5L30 8.3L31 8.5L33.5 10.8L35 11.5L40.5 12.1L47.5 13.9L49 13.9L50 13.3L51 11.5L51.1 9L50.3 5.5L48.9 3L47 1.3L45 0.2L43.5 0.1L39.5 0.9L38.5 0ZM26 15L24.7 16.5L22.8 24L23.5 25.5L25.5 26.1L27.5 25.9L29.5 25L30.5 23.7L30.9 22L30.5 17.5L30 15.9L28.5 14.8L26 15Z"/>
<path fill="#ff7300" d="M47.8 0L172.5 0L172.5 165.5L170.9 165.5L170.2 162.5L167.9 159.5L165.5 157.7L161.5 155.8L152.5 153.3L141 151.8L136 151.5L131.5 151.8L127 152.7L124.5 153.7L122.6 155.5L121.8 157.5L122 159.5L122.8 161L125.5 164L126.3 165.5L27.2 165.5L26 151.1L25 147.7L23.5 145.7L19.2 142.5L13.7 140L6.5 137.9L0 137.2L0 19.5L9.5 20L11.5 19.7L20.5 12.9L30 8.6L31 8.9L33 10.9L34.5 11.7L42.6 13L50.5 16.4L54.5 16.3L55.5 15.5L56 14L56 7L55.5 4.5L54.5 3.4L50.5 2.2L47.8 0ZM26 14.3L24.4 15.5L22.5 21L20.5 23.5L18.5 24.1L12 24.3L10 25.3L9.3 27L9.2 31L9.4 33.5L10.3 35L13 35.8L19 35.5L20 34.2L20.8 30L22 28.2L23.5 27.5L28.5 26.8L30.5 25.2L31.2 24L31.6 22L30.8 16L30 14.9L29 14.3L26 14.3Z"/>
<path fill="#ff5a00" d="M56 0L172.5 0L172.5 156.3L162 152.6L154.5 150.7L141.5 149.1L133 149L124.5 150.3L121.2 151.5L118.6 153L116.2 155L113.8 158L110.6 163.5L109.8 165.5L28.3 165.5L27.6 150L26.6 146.5L25 144L21 140.9L14.5 138L6.5 135.8L0 135.1L0 19.7L9.5 20.6L11.5 20.3L20.8 13L30 9L31 9.4L32.5 11L34 11.9L40.5 12.8L44.1 14L49.5 17.9L52.5 18.3L55.5 18L56.5 17.5L57.3 16.5L57.8 13.5L57.6 4.5L56 0ZM25.5 13.9L24.1 15L22.4 19.5L20.5 21.6L18.5 22.1L10.5 22.3L9 22.9L8 23.8L7.2 26.5L7.2 33L7.6 35.5L8.8 37L10 37.5L12.5 37.8L18 37.8L20 37.4L21.2 36L22 31L23 29.2L25 28.2L29 27.7L31 25.9L31.7 24.5L32.1 22.5L31.2 15.5L30.5 14.5L29.5 13.9L27.5 13.6L25.5 13.9Z"/>
<path fill="#ff4100" d="M58 0L172.5 0L172.5 150.8L168 150.3L155 147.5L147.5 146.6L137 146.2L127.5 146.7L119.5 147.8L111.4 149.5L104.1 151.5L97.8 154L93.1 156.5L90 159L87.5 162.3L86.5 165.5L29.4 165.5L28.8 149.5L27.6 145.5L25.5 142.5L21 139.2L15 136.6L7 134.5L0 133.7L0 19.9L5.8 20.5L7.3 21L7.6 21.5L6.2 24.5L5.9 29L6.1 35L6.5 36.5L7.5 37.9L9 38.7L11 39.1L18 39.1L20.5 38.8L21.5 38L22 37L22.7 32L23.5 30L25.5 28.9L30 28.8L31.8 26L32.7 22.5L31.8 15.5L31 14L30 13.4L27.5 13L25 13.4L23.5 14.8L21.5 19.4L20.5 20.3L19 20.7L15 20.8L13.4 20.5L13.5 19.5L14.8 18L20.5 13.5L29 9.5L30 9.4L33.5 12.2L40 13.1L43.5 14.3L45.2 15.5L47.5 18.1L49 18.9L53 19.4L56.5 19L58.2 17.5L58.8 15L58.8 5.5L58 0Z"/>
<path fill="#ff2800" d="M59.2 0L172.5 0L172.5 148.5L168.5 148.1L155.5 145.4L146 144.3L133.5 144.1L123.5 144.9L116.5 146L106.2 148.5L100.2 150.5L94.7 153L90.8 155.5L87.7 158.5L85.5 162L84.6 165.5L30.6 165.5L30.4 154L30 149L28.8 145L26.5 141.7L22 138.3L16 135.6L7 133.1L0 132.4L0 20.2L3.7 20.5L5.7 21.5L4.9 25.5L4.8 33.5L5.2 36.5L6.5 38.7L8 39.6L10.5 40.1L21 39.9L22 39.4L22.6 38.5L23.4 32.5L24 30.8L25.5 29.7L27.5 29.7L29.1 30.5L30.5 32L31 31.5L33.1 24L32.7 17L31.7 13.5L30.5 12.7L25.9 12L28.5 10.1L30 9.9L32 12.2L33 12.7L39.8 13.5L42.8 14.5L44.2 15.5L46.5 18.6L48.5 19.8L53 20.3L57 19.9L58.9 18.5L59.7 16L59.7 5.5L59.2 0ZM22.6 13L23.5 13L23.4 13.5L21.5 18L20.6 19L18 19.7L16 19.7L15 19.2L15.5 18L18.3 15.5L21 13.6L22.6 13Z"/>
<path fill="#fc1400" d="M60.2 0L172.5 0L172.5 146.6L168.5 146.2L155.5 143.5L145.5 142.3L132.5 142.2L122 143.1L115 144.4L104.5 147L98.5 149.2L93 151.9L89 154.6L85.9 158L83.5 162L82.7 165.5L42.5 165.5L41.5 160.2L40 157.5L39 156.9L38.3 157.5L37.8 159L37.3 165.5L32.5 165.5L32.3 154.5L31.8 149L30.3 144.5L28.3 141.5L23.5 137.7L17 134.6L7.5 131.9L0 131.1L0 20.5L3 20.9L4.1 21.5L3.7 27L3.8 35.5L4.7 38.5L6.5 40.3L8.5 41L12 41.3L20 41.3L23 40.7L23.9 39.5L24.3 32L25 31L26.2 30.5L27.5 30.8L28.5 31.9L29.4 38L30 38.8L30.5 38.9L31.6 38L32.4 36L32.9 29L33.8 24L33.3 14L34.5 13.6L37.5 13.7L41.5 14.5L43.6 16L46.1 19.5L48.5 20.8L54.5 21.3L58 20.7L59.9 19L60.6 16.5L60.7 6L60.2 0ZM29.1 10.5L30 10.9L29.9 11.5L28.1 11.5L28.2 11L29.1 10.5ZM21.4 14L22 14.3L21.9 15L20.5 17.8L19 18.5L17 18.4L16.6 18L17.7 16.5L21.4 14Z"/>
<path fill="#fa0000" d="M61.4 0L172.5 0L172.5 144.6L168.5 144.2L154 141.3L144 140L131.5 139.9L120 141.2L112 142.9L102 145.7L96 148.1L90 151.2L85.1 154.5L80.8 158.5L78.7 161.5L77.7 165.5L44.2 165.5L43.4 160L39.9 149.5L38.5 142L37.5 139.9L35 139L29.5 139.3L21.5 134.9L16 132.7L7 130.3L0 129.6L0 21L2 21.4L2.7 22L2.3 28L2.6 36.5L3.6 39.5L5.5 41.3L8.5 42.4L13.5 42.6L22 42.5L30 41.4L32.5 39.8L33.8 36.5L34.7 23.5L34 16.5L34.2 15L35 14.5L37 14.4L41 15.1L42.7 16.5L45.5 20.5L48 21.9L55 22.5L59 21.7L60.8 20L61.7 17L61.4 0ZM19.5 16L20.1 16L19.5 16.6L19.2 16.5L19.5 16ZM25.7 32L27 32.1L27.7 34L27.6 37.5L26.5 38.6L25.5 38.2L25 37L25 33.5L25.7 32Z"/>
<path fill="#e90000" d="M63.2 0L172.5 0L172.5 141.7L167.4 141L152.2 137.5L146.9 135L136.5 128.2L133 127.6L128.5 128.1L125 129.2L108.8 138.5L95.9 144.5L92.5 145.5L91.4 144.5L91 141L92.4 130L92.5 127L92 126.3L90.5 125.6L87.5 125.4L84.5 127.2L76.6 135L66.5 140.6L63.9 143L63 145L62.5 148L62.5 165.5L46.6 165.5L45.9 160L42.5 148.5L41.7 140L41 138.2L40 137L38.5 136.1L36.5 135.7L28 135.5L20.5 131.8L14.5 129.7L6.5 127.8L0 127.2L0 38.3L3.5 42.7L5.5 43.8L8 44.4L15.5 44.6L26 43.9L30 43.3L32.5 42.3L34.9 40L35.9 37L36.3 23.5L35.4 17L35.8 16L36.5 15.6L38.5 15.6L40.6 16.5L43.5 21L46.5 23.3L58 25.6L61 25.4L62.7 23.5L63.7 20L63.2 0Z"/>
<path fill="#d90000" d="M95 0L172.5 0L172.5 74.4L142 74.5L137.6 75L134.5 76.1L132 77.5L128.2 80.5L125 83.5L123 86L120.5 91.2L118.2 99.5L116.5 102.4L115 103.7L113 104.7L108 105.8L96.5 106.6L70.5 104.6L65 103.7L56 100.5L53 100L49 100.7L36.5 105.4L33.5 105.9L30 105.8L24.5 104.7L14 101.7L9.5 99.8L3 96.4L0 95.5L0 61.9L2 61.4L4.5 60L17.5 50.3L21.5 47.8L25.5 46.4L36.5 44.2L48 43.4L56 43.3L65 44.8L70 45.1L91.5 44.6L104.6 43.5L112.7 42L123.9 36.5L124.2 36L123.8 35L119.8 32L114.3 29L101 22.9L97.1 20L95.9 18L95.2 15L95 0Z"/>
<path fill="#c80000" d="M97.3 0L172.5 0L172.5 42.3L151 42.4L146.4 43L146.7 43.5L148.4 44L151.5 44.3L172.5 44.4L172.5 72L140.5 72.2L135.2 73L129.7 75L127 76.6L124 79.1L121.5 81.5L119.5 84.2L117.6 89L115.9 98L114.7 100.5L113.5 101.6L111.5 102.7L106.5 103.7L97.5 104.2L89 102.6L70 100.8L65 99.7L56.5 96.6L53 96L48.5 96.7L36 101.5L33 102L30 101.9L15 98.1L2.5 92.4L0 91.7L0 66.1L2.5 65.6L5.5 64L21 52.5L26 49.6L29 48.7L33 48.2L54 47L69 47.7L97.5 46.8L111.5 45.1L121 41.6L124.5 40.7L134.3 40L134.3 39L133.2 37.5L129.3 34.5L116.4 28L102.5 21.7L99.4 19.5L98.1 17.5L97.5 15L97.3 0Z"/>
<path fill="#bb0000" d="M98.9 0L172.5 0L172.5 40.2L145.5 40.2L141 39.7L138 38.3L130 32.8L103.3 20.5L100.5 18.4L99.2 15.5L98.9 0ZM125.8 43.5L129 43.1L132 43.3L144 45.8L149 46.4L172.5 46.6L172.5 70.3L139.5 70.6L133.5 71.5L124.5 74.1L120 77.5L117.7 80L116.5 82L115.5 86L114.5 96L113.4 99L112 100.4L110.5 101.1L105 102.1L100 102.5L97 102.2L88.5 98.9L68.5 96.6L57.5 92.8L53.5 92L48 92.8L35 97.7L32.5 98L29.5 97.9L17 94.5L12.5 92.5L5 88.2L2.5 87.2L0 86.9L0 70.3L3 69.8L6.5 68.1L23.5 55.5L28.1 53L33.8 52L55.5 50.7L82 50.6L99.5 49.7L113.5 47.8L125.8 43.5Z"/>
<path fill="#ad0000" d="M100.6 0L172.5 0L172.5 38.4L146.5 38.4L142 38L139 36.6L131 31.4L104.5 19.4L102 17.5L100.9 15L100.6 0ZM130.7 46L149 48.4L172.5 48.5L172.5 68.5L142 68.5L129.5 70L126.4 69.5L124.9 68L124.1 65.5L124.2 51L124.8 49L126 47.4L128 46.4L130.7 46ZM103 83L108.5 82.7L110 83.2L111.5 84.5L112.3 86.5L112.6 89L112.6 94L112.2 96.5L111 98.5L108.5 99.7L101.5 100.5L97.5 100.1L95 98.5L93.1 95.5L92.1 91.5L92.2 88L93.4 86L95 84.8L97.5 84L103 83Z"/>
<path fill="#a00000" d="M103.4 0L172.5 0L172.5 35.6L147 35.6L142.5 35.1L140.2 34L132 28.7L106.8 17.5L104.5 15.8L103.5 13.5L103.4 0Z"/>
<use href="#grid"/>
<path d="M173.9 11.1L166 10.6L158 12.2L151.4 14.7L147.4 17.5L144.1 21.1L139.4 23.4L136.8 25.9L137 29.5L140.1 29.5L140.1 25.9L142.1 24.4L146 22.3L148.7 20.8L150 18.7L152.7 17L156.7 15.4L159.3 14.4L166 12.9L173.9 13.9ZM142.1 -1.4L173.9 -1.4L173.9 2.6L163.3 3.9L154 5.5L144.7 2.9ZM125 25.9L124.7 26.8L123.9 27.3L123 27.3L122.3 26.8L122 25.9L122.3 25L123 24.4L123.9 24.4L124.7 25ZM132.4 28.2L132.2 29L131.5 29.5L130.6 29.5L129.9 29L129.6 28.2L129.9 27.3L130.6 26.8L131.5 26.8L132.2 27.3Z" fill="#fff"/>
<use href="#halo"/>
<use href="#land"/>
</g>
<path d="M0 165.3H172.6V0" fill="none" stroke="#555" stroke-width="1.1"/>
<path d="M0 165.3V0" fill="none" stroke="#333" stroke-width="1.1"/>
<path d="M-0.5 0H172.6" fill="none" stroke="#000" stroke-width="1.1"/>
</g>
<text x="244.9" y="35.0" text-anchor="end" class="t">75°N</text>
<text x="244.9" y="70.9" text-anchor="end" class="t">50°N</text>
<text x="244.9" y="106.9" text-anchor="end" class="t">25°N</text>
<text x="235.3" y="142.8" text-anchor="middle" class="t">0°</text>
<text x="244.9" y="178.7" text-anchor="end" class="t">25°S</text>
<text x="268.3" y="200.6" text-anchor="middle" class="t">85°W</text>
<text x="301.5" y="200.6" text-anchor="middle" class="t">60°W</text>
<text x="334.7" y="200.6" text-anchor="middle" class="t">35°W</text>
<text x="367.9" y="200.6" text-anchor="middle" class="t">10°W</text>
<text x="401.1" y="200.6" text-anchor="middle" class="t">15°E</text>
<g transform="translate(463.6 23.6)">
<g clip-path="url(#mc)">
<rect width="172.6" height="165.3" fill="#fff"/>
<path fill="#fff5de" d="M120.9 14L122.5 14L126 15L127.2 16.5L126.9 18L125.5 19L122.5 19.7L119.5 19.5L117.2 18.5L116.3 17L116.8 15.5L118 14.8L120.9 14ZM70.1 48.5L75.5 48.6L77 49.1L78.1 50L79 51.5L79.1 53L78.3 55L77 56.5L75 57.6L72 58.2L49.5 59.3L39 58.8L37.5 57.8L36.6 56L37 54L38 53.1L39.5 52.6L52 50.1L70.1 48.5ZM0 90.5L1.5 90.3L14 91L17.5 91.5L19.5 92.3L21.5 94L24.7 99L28.6 103.5L31.4 109L33.3 117L37.7 143.5L38 148L37.6 150L36.7 152L29 161.7L28 163.5L27.5 165.5L20.4 165.5L19.8 160.5L18.2 153.5L16.9 151L15 149.2L11 148.1L0 148L0 90.5ZM137.8 106.5L145 106.5L146.7 107L148 108L149 110.5L149.2 114.5L148.8 117L147.5 118.9L144.5 119.9L139.5 119.5L136.6 118.5L134.3 116.5L133.1 113.5L133.6 110L135.3 107.5L137.8 106.5ZM81.6 111L98 110.9L100.5 111.5L101.2 112.5L100.7 113.5L100 113.9L96.5 114.2L80.1 113L78.7 112.5L78.4 112L79 111.4L81.6 111ZM67.5 161.5L71.5 161L74.5 161.4L76.4 163L76.9 165.5L62.2 165.5L62.5 164L63.5 162.8L67.5 161.5Z"/>
<path fill="#ffebbe" d="M121.3 14L124.5 14.5L126.5 15.4L127.2 16.5L126.8 18L125 19.1L122 19.6L119 19.3L117 18.2L116.4 17L116.9 15.5L118.5 14.7L121.3 14ZM71.4 48.5L76 48.8L77.5 49.5L78.4 50.5L79 52L78.8 53.5L78 55.2L76.5 56.6L75 57.4L72 57.9L67.5 57.9L56 58.8L49.5 58.8L39.5 58.4L38 57.7L37 56L37.5 54L40 52.8L52.5 50.3L71.4 48.5ZM0 92L0 91.7L1.5 91.7L14 92.4L17 92.9L19 93.7L20.6 95L23.9 100L27.7 104.5L30.1 109.5L32 117.7L36.2 143L36.6 147.5L35.5 151.1L27.4 161.5L26.3 163.5L25.8 165.5L21.7 165.5L21.2 161.5L19.2 153L18 150.4L16.2 148.5L14 147.5L11.5 147L0 146.8L0 92ZM140 107.5L145 107.8L146.5 108.4L147.4 109.5L148 112L148 115L147.5 116.7L146.3 118L144 118.6L140 118.3L137.9 117.5L136.4 116L135.3 112.5L135.7 109.5L137.2 108L140 107.5ZM68.1 163.5L73 163.6L74 164.4L74.4 165.5L63.9 165.5L65 164.1L68.1 163.5Z"/>
<path fill="#ffde96" d="M119.3 14.5L122 14L125.5 14.9L126.9 16L127 17.5L126 18.6L123.5 19.5L120.5 19.5L118.3 19L116.9 18L116.5 16.5L117.5 15.2L119.3 14.5ZM67.2 49L73 48.5L76.5 49L77.9 50L78.6 51L78.9 52.5L78.5 54L77.5 55.6L76 56.7L71.5 57.8L67.5 57.6L54.5 58.5L41 58.2L38.5 57.6L37.4 56L37.5 55L38 54.1L40 53.2L51.5 50.7L67.2 49ZM0 94L13 94.5L17.8 95.5L19.1 96.5L22.1 100.5L25.7 104.5L28 108.9L29.5 114.7L34.4 147L34 149L32.6 151.5L24.5 160.8L23.5 160.6L23 159.7L20 150L18.6 148L17 146.6L15 145.7L12 145.1L0 145L0 94ZM139.3 109.5L143.5 109.4L145.5 110.3L146.2 113L146 114.9L145.5 115.8L144.5 116.4L142.5 116.6L140.5 116.2L139 115.4L138 113.7L137.7 111.5L138 110.5L139.3 109.5Z"/>
<path fill="#ffd26e" d="M119.6 14.5L122 14.1L125.5 15L126.8 16L126.9 17.5L126 18.5L123.5 19.4L120.5 19.5L118.5 19L117 18L116.6 16.5L117.5 15.2L119.6 14.5ZM67.8 49L73.5 48.6L76.5 49.1L77.8 50L78.4 51L78.7 52.5L78.4 54L77.3 55.5L76 56.5L71.5 57.6L67 57.4L54 58.2L41 57.8L39 57.4L37.9 56L38 54.8L39 53.9L49 51.4L67.8 49ZM12.6 103.5L17.5 103.2L20 103.6L22.5 105L24 107L24.8 109.5L25.3 113.5L25.7 130L24.5 133.3L22 135L17.5 135.8L9 136.2L7 135.8L5.5 134.9L4.3 133.5L3.6 131.5L3 127.5L2.2 109.5L3 106.9L5 104.9L7.5 104.1L12.6 103.5Z"/>
<path fill="#ffc346" d="M119.9 14.5L122 14.2L125.5 15.1L126.7 16L126.8 17.5L125.9 18.5L123.5 19.3L120.5 19.4L118.5 18.9L117.1 18L116.7 16.5L117.5 15.3L119.9 14.5ZM68.5 49L74 48.7L77 49.5L78.5 51.5L78.6 53L78 54.5L77 55.6L75.5 56.6L71.5 57.4L67 57.2L50 57.9L40.5 57.4L39 56.9L38.3 56L38.4 55L39.5 54.1L49.5 51.6L68.5 49Z"/>
<path fill="#ffb41e" d="M120.2 14.5L122.5 14.3L125.5 15.1L126.6 16L126.7 17.5L125.5 18.6L123 19.3L120 19.3L117.8 18.5L116.8 17.5L116.9 16L118 15.1L120.2 14.5ZM69 49L74 48.8L76.9 49.5L78.4 51.5L78.4 53L77.8 54.5L75.5 56.4L71.5 57.3L66.5 57L50.5 57.7L40.5 57L38.8 56L38.9 55L40 54.3L45.5 53.1L49.5 51.8L69 49Z"/>
<path fill="#ffa00f" d="M120.5 14.5L122.5 14.4L125.5 15.2L126.5 16L126.6 17.5L125.5 18.6L123 19.3L120 19.2L117.9 18.5L116.9 17.5L117 16L118 15.2L120.5 14.5ZM69.6 49L74.5 48.9L77 49.7L77.8 50.5L78.4 52L77.7 54.5L75.5 56.3L71.5 57.1L66 56.8L50.5 57.4L40.5 56.5L39.5 56L39.4 55.5L40.8 54.5L46 53.4L50 51.9L65 50L69.6 49Z"/>
<path fill="#ff8c00" d="M120.8 14.5L122.5 14.4L125.9 15.5L126.7 16.5L126.6 17.5L125.5 18.5L122.5 19.2L119.5 19L117.4 18L116.9 16.5L117.5 15.6L120.8 14.5ZM70.2 49L75 49L77.3 50L78 51L78.2 52.5L77.1 55L75 56.3L71.5 57L66 56.6L50.5 57.2L46 56.3L41.5 56.1L40.6 55.5L50 52.1L65 50.2L70.2 49Z"/>
<path fill="#ff7300" d="M121.2 14.5L122.5 14.5L125.7 15.5L126.6 16.5L126.5 17.5L125 18.6L122.5 19.2L119.7 19L117.5 18L117 17L117.5 15.7L121.2 14.5ZM71 49L75 49.1L77.1 50L77.9 51L78.1 52.5L76.9 55L75 56.2L72 56.9L65.5 56.3L52.5 56.9L49 56.6L45.1 55.5L44.7 55L50 52.4L65 50.4L71 49Z"/>
<path fill="#ff5a00" d="M119.4 15L122 14.5L124.2 15L126 15.8L126.5 17L125.9 18L124 18.9L119.5 18.9L117.6 18L117.1 17L117.5 15.8L119.4 15ZM72.7 49L76.5 49.7L77.5 50.6L78 52L77.7 53.5L76.7 55L73.5 56.5L71 56.8L65 56.1L51 56.6L48.4 56L47.2 55L48.3 53.5L50.5 52.5L64.5 50.7L69 49.4L72.7 49Z"/>
<path fill="#ff4100" d="M119.7 15L122 14.6L124 15L126 15.9L126.4 17L125.5 18.2L123.5 18.9L121 19L119 18.6L117.5 17.7L117.2 16.5L118 15.6L119.7 15ZM68.9 49.5L73 49.1L76 49.5L77.6 51L77.9 52.5L77.5 53.7L75.5 55.7L71.5 56.6L65 55.8L51 56.3L49.5 56L48.3 55L48.5 54L50 53L65 50.8L68.9 49.5Z"/>
<path fill="#ff2800" d="M120 15L122 14.7L125 15.4L126 16L126.3 17L125.5 18.1L123.5 18.8L121 18.9L119 18.5L117.5 17.6L117.3 16.5L118 15.7L120 15ZM69.3 49.5L73.5 49.2L76 49.6L77.5 51L77.7 52L77.5 53.5L75.5 55.5L71.5 56.5L64.5 55.5L51.5 55.9L50 55.6L49.2 55L49.3 54L51 53.1L64.5 51.2L69.3 49.5Z"/>
<path fill="#fc1400" d="M120.4 15L122 14.8L125 15.5L126.1 16.5L126 17.5L124.5 18.4L122.5 18.8L120 18.7L118 18L117.4 17L117.7 16L120.4 15ZM69.8 49.5L74 49.3L76.5 50L77.4 51L77.6 52L77 54L75 55.6L71.5 56.4L64.5 55L52.5 55.4L50.5 55L50.2 54.5L50.5 54L51.7 53.5L64.5 51.7L69.8 49.5Z"/>
<path fill="#fa0000" d="M120.9 15L122.5 15L125 15.7L126 16.4L126 17.2L125 18.1L122.5 18.7L119.5 18.5L117.7 17.5L117.5 16.5L117.9 16L120.9 15ZM70.4 49.5L74 49.4L76.3 50L77.2 51L77.5 52L76.9 54L74.9 55.5L71 56.3L67.3 55.5L64.5 54.2L60.5 53.5L64 52.7L67.3 50.5L70.4 49.5Z"/>
<path fill="#e90000" d="M119.3 15.5L122.5 15.1L125.4 16L125.9 17L125 18L123.6 18.5L119.9 18.5L118.5 18L117.6 17L118 16.1L119.3 15.5ZM71.1 49.5L74.5 49.5L76.5 50.3L77.3 52L76.5 54.2L74.5 55.5L71.5 56.1L68 55.6L66.1 54.5L65.4 53L66.3 51.5L68.5 50.1L71.1 49.5Z"/>
<path fill="#d90000" d="M119.8 15.5L122 15.2L123.7 15.5L125.2 16L125.8 17L125 17.9L123.5 18.4L120 18.4L118.5 17.8L117.8 17L118.4 16L119.8 15.5ZM69.3 50L72.5 49.5L75.5 49.9L76.9 51L77 53.1L76 54.5L74 55.5L71 56L68.4 55.5L66.6 54.5L66 53L66.7 51.5L69.3 50Z"/>
<path fill="#c80000" d="M120.4 15.5L122 15.3L124.5 15.9L125.5 16.5L125.6 17L124.3 18L122.5 18.3L120 18.2L118.3 17.5L118.1 16.5L120.4 15.5ZM69.7 50L73 49.7L75.5 50L76.9 51.5L76.6 53.5L75 55L72.5 55.7L70 55.7L67.7 55L66.7 54L66.5 52.5L67.6 51L69.7 50Z"/>
<path fill="#bb0000" d="M121.3 15.5L124.3 16L125.2 16.5L125.3 17L123.7 18L122 18.2L119.8 18L118.2 17L119 16.1L121.3 15.5ZM70.3 50L73.5 49.8L75.5 50.2L76.7 51.5L76.5 53.3L75.4 54.5L72.8 55.5L70.5 55.6L68.2 55L66.9 53.5L67.1 52L68 51L70.3 50Z"/>
<path fill="#ad0000" d="M120.2 16L123.3 16L124.7 16.5L124.9 17L124.4 17.5L122 17.9L119.5 17.6L118.6 17L118.8 16.5L120.2 16ZM71.2 50L74 50L75.7 50.5L76.6 52L76 53.6L74.5 54.8L71.7 55.5L69.5 55.2L67.9 54.5L67.2 53.5L67.5 51.9L69 50.7L71.2 50Z"/>
<path fill="#a00000" d="M120.2 16.5L122 16.3L124 17L121 17.5L119.5 17L120.2 16.5ZM69.9 50.5L73 50.1L75.3 50.5L76.2 51.5L76.1 53L75 54.2L73.2 55L71 55.3L69.4 55L68 54.1L67.5 53L68.2 51.5L69.9 50.5Z"/>
<path fill="#e0f8ff" d="M36.6 0L172.5 0L172.5 165.5L82.6 165.5L82.5 157.5L82 155L81 154L80 153.6L76 153.4L72 153.5L70 154.3L68.4 158L67.5 159L62 162.5L61.2 164L61 165.5L29 165.5L29.4 164L30.5 162L37.9 152.5L39.4 148.5L39.1 143.5L34.1 114L32.8 109L30.8 104.5L25.5 98L22.5 93.2L21 91.7L18.5 90.4L15.5 89.8L0 88.9L0 79.9L13 79.8L17.5 78.9L19 77.8L20 76.1L20.4 70.5L20 65L19.1 63.5L18 62.7L14.5 62.2L0 62.1L0 18.1L10 17.9L11.9 17.5L15.5 15.7L20.5 11.3L27.5 8.6L29 8.7L37 13.2L44 13.8L44.8 12.5L45.2 5.5L46 3L45 2.3L37.5 1.8L36.7 1L36.6 0ZM69 48.5L52.5 49.7L39 52.2L37.5 52.8L36.5 53.9L36.1 55L36.3 56.5L37.5 58.7L39 59.5L49.5 59.8L55.5 59.8L73 58.5L75.5 57.8L77.5 56.3L78.7 54.5L79.3 52.5L78.9 51L77.7 49.5L75 48.4L69 48.5ZM93.5 69.4L97 69.5L93.5 69.4ZM109.5 2.4L109.5 3.4L109.9 3L109.5 2.4ZM121 13.9L118 14.7L116.8 15.5L116.2 17L117 18.5L119.5 19.6L122.5 19.8L125.5 19.1L127 18L127.3 16.5L126.5 15.2L123 14L121 13.9ZM137 105.5L134.4 106.5L130.5 110.1L128.5 110.5L106.5 109.4L99.5 108.2L75 106.4L71.5 106.6L70.7 107L70.3 108L71.2 110L74.2 113L76.4 114.5L78.5 115.1L98 116.4L106.5 115.6L123.5 116.7L130.5 117.4L136.5 120.1L140 120.9L145 121L148.1 120L149.5 118.4L150.2 115.5L150 110L149 107.3L147.5 106.1L145.5 105.5L137 105.5ZM25.5 17L23.5 17.5L27 17.9L29.1 17.5L29.1 17L28.5 16.8L25.5 17ZM0 149L11 149L13.5 149.6L15.1 150.5L16.5 152.1L17.6 155L19.1 161.5L19.5 165.5L0 165.5L0 149Z"/>
<path fill="#c0f0ff" d="M39.3 0L172.5 0L172.5 165.5L86.7 165.5L86.6 155L85.6 151.5L84.5 150.4L82.5 149.6L76 149.3L69.5 149.5L67.5 150.1L66.3 151L65.2 153L64.4 158L60.7 162L59.9 165.5L30.8 165.5L32.1 162.5L39.5 153L40.4 151L41 148.5L40.6 143.5L35.4 112.5L34.1 108L31.7 103L27 97.4L23.6 92L21.5 90L19 88.8L16 88.2L0 87.3L0 82.6L15 82.4L18 81.7L20.3 80.5L21.8 79L22.5 77.5L23 71L22.5 63.5L21.5 61.6L20 60.4L16 59.5L0 59.5L0 19.4L13 18.8L16 20.1L18.4 20.5L28.5 20.5L31.3 20L32.6 19L33.1 17.5L32.9 15.5L32 14L20.8 14L21 13L22.3 12L27 10.2L29 10.6L33 13.8L38 14.9L44.5 15.1L45.2 14.5L45.6 13.5L46.2 5.5L46.7 4.5L48.2 3L48.2 2L47.5 1.3L46 0.7L39.3 0ZM68 48.5L52.5 49.2L39 51.6L37 52.4L36 53.4L35.6 54.5L35.7 56.5L36.5 58.5L37.5 59.8L38.5 60.3L40.5 60.5L55.5 60.5L73 59.2L75 58.7L77.5 56.7L78.9 54.5L79.4 52.5L79 51L77.9 49.5L75 48.4L68 48.5ZM91 66.9L89.3 68L88.9 69.5L89.7 71L91.5 71.8L103 71.2L104.9 70.5L105.5 69.5L105.6 68.5L105 67.6L103 66.8L91 66.9ZM109.5 0.8L108.5 1.5L108.2 3L108.5 4.1L109.5 4.6L110.7 4L111.1 2.5L110.5 1.1L109.5 0.8ZM120.5 14L117.5 14.9L116.5 15.7L116.3 17.5L117.5 18.9L120 19.7L123 19.8L125.5 19.2L127.1 18L127.4 16.5L126.3 15L122.5 13.8L120.5 14ZM69.5 103L67 103.6L65.8 105L65.8 107L67.1 110L68.9 112.5L70.7 114L74.5 115.8L77.5 116.6L128.5 120.1L138.5 122.1L143.5 122.5L146.5 122.2L149 121.1L150.5 119.5L151.3 117L151.4 111L150.7 107.5L149 105.4L146 104.3L136.5 104.2L134 105L130.5 107L127.5 107.4L104 106.2L69.5 103ZM0 150L10.5 149.9L13 150.4L14.5 151.2L15.7 152.5L16.7 155L18.2 161.5L18.6 165.5L0 165.5L0 150Z"/>
<path fill="#9ae4ff" d="M50 0L108.4 0L107.7 1.5L107.7 3.5L108.5 4.9L109.5 5.1L111 4.5L111.5 3.5L111.7 1.5L111 0L172.5 0L172.5 165.5L90.5 165.5L90.4 153L90 150.5L89.1 148.5L87.5 146.8L85 145.7L82 145.2L76 145.1L67 145.5L64.5 146.5L62.7 148L61.2 151L60.4 157.5L58.2 162L57.7 165.5L34.3 165.5L35.5 163L42.4 154L43.7 151L44.1 148L43.7 143.5L38.8 114L35.9 102.5L36.5 101.5L37.5 101.2L44.5 100.9L47.5 100.1L49.6 98L50.1 96.5L50 95L49.2 93.5L45.2 89L44.1 86.5L43.1 82L42.5 81.2L40.5 80.6L29.5 80.3L27.5 79.3L26.9 77L26.3 62.5L25.1 59.5L23.5 57.7L21 56.4L18 55.9L0 55.7L0 20.7L8.5 19.9L12 20.2L15 21.8L17.5 22.2L29 22.2L32.5 21.6L34.3 20L35.3 17L36 16.2L44 16.2L45.6 15.5L46.3 13.5L47 5.5L47.8 4.5L49.8 3.5L50.9 2.5L50.9 1.5L50 0ZM53.5 48L47.5 48.7L39.5 50.2L36 51.5L34.8 53L34.5 54.5L34.9 57L36 60L37.2 61L39.5 61.4L55.5 61.2L61.5 60.7L75.5 60.5L77.3 60L77.2 58L79.1 54.5L79.5 52.5L78.9 50.5L77 48.8L74 48.2L63 48.5L53.5 48ZM90.5 65L87.7 66L86.8 67L86.2 68.5L86.3 70L86.8 71L89.5 72.6L93 72.9L103.7 72L106 71L107.1 69L107.1 67.5L106.5 66.5L104 65.2L99 64.8L90.5 65ZM120.5 13.9L117.5 14.8L116.3 16L116.2 17.5L117.5 19L120 19.8L123 19.9L125.5 19.2L127.2 18L127.5 16.5L126.4 15L122.5 13.8L120.5 13.9ZM66 99L63.5 99.8L61.5 101.8L60.7 104L61.1 107L63.3 111.5L66.2 115.5L69 117.7L72.5 119L89 120.9L121.9 122.5L135.5 124.7L143.5 125.3L147.5 124.9L150 123.8L152.4 121.5L153.6 118.5L153.9 111.5L153.3 107L151.5 104L150 102.8L148 102.1L144.5 101.6L137 101.6L130 103.3L127 103.5L103.5 102.2L70.5 98.9L66 99ZM0 151L0 150.6L10 150.7L12.5 151.2L14 152L15.2 153.5L16 155.6L17.4 162L17.8 165.5L0 165.5L0 151Z"/>
<path fill="#73d7ff" d="M103.4 0L107.3 0L107.1 2L107.5 4.4L108.5 5.4L109.5 5.5L111 5.1L111.8 4L112.3 2L111.9 0L172.5 0L172.5 39.3L167.5 39.8L155 39.7L152.5 38.9L150 36.2L149.5 36.2L148.1 42.5L146.8 44.5L144.5 46.5L144.5 47L149 47.6L172.5 47.7L172.5 74.8L133.5 74.7L130 73.4L127.5 70.4L126.5 69.8L119 73L116.9 77L114.5 79.2L102.5 83.3L76 88.9L54.5 90.9L51.5 90.7L49.5 89.9L47.1 87.5L46.4 84.5L47.4 82L49.5 80.5L54.5 79.3L75.5 76L85.5 73.8L92 73.8L104.5 72.6L106 72L107.6 70.5L108.9 68L108.8 66.5L107 64.5L103 63L98.5 62.5L90 62.5L86.2 63L81 64.3L68.5 69.8L62 71.7L57 72L43.5 72L40 71.8L37.5 71L35.3 69.5L33.8 67L33.4 64L33.7 63L34.5 62.3L55 62.1L64 61.5L77.5 62.1L79 61.8L79.6 61L79.6 60L78.1 57.5L79.6 53.5L79.3 51L77.5 49L75.5 48.3L62.5 48.2L57.2 47L53.5 44.1L45.5 36L42.5 34.3L39 33.9L12.5 33.9L9 33.3L7.5 32.1L6.8 30L6.6 24L7 22L8 21.5L9.5 21.7L13 23.9L16 24.7L28.5 24.8L32.5 24.4L34.5 23.6L35.9 22.5L38.3 18L40 17.6L44 17.5L46 16.4L46.9 14L47.5 6.5L48 5.4L49 4.8L53 3.8L55 4L56.3 5L59 8.4L62.5 9.6L78 10.9L94.5 9.9L97.2 9.5L99 8.4L103.4 0ZM120 13.9L117.5 14.7L116.2 16L116.1 17.5L117.5 19.1L120 19.9L123 19.9L125.5 19.3L127.2 18L127.6 17L127.4 16L126 14.7L122.5 13.7L120 13.9ZM148 21.5L146.5 22.5L146.3 23.5L149 28.2L149.5 28.4L150 25.3L149.8 22.5L149.3 21.5L148 21.5ZM100.3 128L114 127.6L121 128.1L123 128.9L124.5 130.3L125.2 132L125.2 134L124.5 135.5L123.5 136.5L120.5 137.6L106 138.3L100 138L98 137.2L96.6 136L95.8 134.5L95.5 133L96 131L97 129.6L98.5 128.6L100.3 128ZM127.4 147L133 146.9L137 147.2L140 148.2L142 149.6L143.9 152L145.2 155L146.4 160.5L146.9 165.5L95.8 165.5L95.9 158.5L96.5 154.5L97.9 151.5L100.5 149.3L103 148.3L106 147.9L127.4 147ZM0 152L0 151.5L9.5 151.6L11.9 152L13.5 152.9L14.5 154.3L15.3 156.5L16.8 165.5L0 165.5L0 152Z"/>
<path fill="#50c6ff" d="M112.7 0L172.5 0L172.5 38L168 38.8L158 38.8L155 38.6L153 37.8L151.9 36.5L151.2 34.5L150.9 20.5L150 19.4L148.5 19.6L145.5 21.2L144.3 23L144.4 24L147 27.5L147.7 30L147.8 38.5L146.7 42.5L145 44.2L143 45L135 45.5L133.1 46L128.5 50.3L127.7 52L128 53.7L128.5 53.6L130.5 50.1L134 49.2L172.5 49.2L172.5 73.3L133.5 73L131.5 72.3L130.1 71L128 65.2L127.5 65.3L125.2 68L123 69.7L117.5 71.5L116.8 72.5L115.5 75.9L114 77.5L111.5 78.7L104 81.2L75.5 87.3L54.5 89.3L52 89.2L50 88.5L48.3 86.5L48.1 84.5L49 82.8L51 81.8L74 78L87 75.2L105 73.2L107.9 71.5L110.7 68.5L111.1 67.5L110.4 65.5L108.5 63.4L106 62L102.5 60.9L95.5 60.2L82.5 60.8L79 57.5L78.8 56.5L79.8 53.5L79.8 52L79.1 50.5L77.5 48.9L74.5 48.1L65 48.1L60.5 47.5L57.6 46L53.6 42.5L50.3 39L47.7 35.5L44.8 28L46 19L47.8 15L48.7 6.5L50 5.8L54 5.5L55 6.1L57.2 9L58.3 9.5L63 10.9L74 12L81 12.1L96 11L98.4 10.5L99.9 9.5L102.6 4L105.5 0.8L106 1L107.1 4.5L107.9 5.5L109.5 5.8L111 5.5L112 4.5L112.7 3L112.7 0ZM119.5 14L117 14.9L116 16.5L116.2 18L118 19.4L120.5 20L124 19.8L126.5 18.8L127.6 17.5L127.5 16L126 14.6L122.5 13.6L119.5 14ZM60.7 62.5L70 62.8L72.5 63.4L73.2 64L71.7 65.5L66 67.9L62 69L58 69.4L41 69.2L38 68L37 66.9L36.5 65.5L37.4 64L40.5 63.2L60.7 62.5ZM124.1 150L134.5 149.8L137.5 150.5L139.5 151.5L141.3 153.5L142.5 156.2L143.6 161L144.1 165.5L98.6 165.5L99.1 156.5L100.1 154L102 152.1L104 151.2L107 150.7L124.1 150ZM0 153L0 152.7L9 152.7L11 153L12.5 153.8L13.5 155L14.2 157L15.7 165.5L0 165.5L0 153Z"/>
<path fill="#2db4ff" d="M113.7 0L172.5 0L172.5 37L169.5 37.9L166 38.1L156.5 38L153.5 37.1L152.3 35.5L151.9 33.5L151.9 19L151 18.1L148.5 18.5L144.5 20.7L143.5 21.8L143.1 23L143.4 24.5L146 27.5L146.9 30L147 38.5L146 42L144.5 43.5L142.5 44.3L134.5 44.6L133 44.9L127.1 49.5L126.5 50.5L126.2 52L127 58.5L126.9 61L125.5 65.5L124 67.7L122 69.1L115.1 70.5L114.6 74.5L113 76.4L109.5 78L101.5 80.5L77 85.7L54.5 87.9L52 87.7L50.5 87L49.8 86L49.8 84.5L50.8 83.5L52 82.9L74.5 79.2L89 76.1L105 74L107 73.2L110.5 70.7L113.3 69.5L113.4 69L112.4 66.5L110.5 63.6L108.9 62L106.5 60.7L102 59.3L97.5 58.6L92 58.7L84.5 59.4L82.5 59.2L79.5 57L80 52L79.3 50.5L77.5 48.8L74.5 48L63 47.7L60.6 47L58.5 45.7L54 41.8L50.2 37.5L48.6 35L45.8 29L45.4 26.5L47.5 19L50.2 17.5L56 11.3L58 10.3L60 10.4L63.5 11.7L77.5 12.9L94 11.9L98.5 11.3L100.6 10L103 5L105 2.8L106 3.1L106.9 5L108 5.9L110 6.1L111.5 5.5L113.4 3L113.7 0ZM119.5 13.9L117 14.8L116 16L116.1 18L117.5 19.2L120 20L123 20L126 19.2L127.4 18L127.8 17L127.6 16L126 14.5L122.5 13.6L119.5 13.9ZM135.1 50.5L172.5 50.4L172.5 72.1L136.5 72.1L132.5 71.3L131.2 70L130.4 67.5L130.4 55L130.8 53L131.9 51.5L133 50.9L135.1 50.5ZM58.6 64L63.7 64L65.2 64.5L65.2 65L61.5 66.5L57 66.9L44 66.8L41.9 66.5L40.7 65.5L41 65L43 64.4L58.6 64ZM112.2 152.5L132 152.3L136.5 153L138.6 154.5L140 156.9L141.1 161L141.5 165.5L101.2 165.5L101.4 158.5L102.6 155.5L103.6 154.5L105.5 153.6L112.2 152.5ZM0 155L0 154.5L7.5 154.6L9.5 154.8L11 155.4L11.9 156.5L12.5 158L13.8 165.5L0 165.5L0 155Z"/>
<path fill="#1e9cff" d="M122.9 0.5L123.2 0L172.5 0L172.5 16.8L171.4 17L170.9 17.5L172.5 18.8L172.5 36L170 37L167.5 37.4L157 37.4L154.5 36.9L153.1 35.5L152.6 33L152.6 21.5L153.7 17.5L152.5 17L150.5 17.1L144.9 19.5L142.7 21.5L142.2 23.5L142.7 25L145.2 27.5L146.2 30L146.4 37.5L145.7 41L144.5 42.6L142.5 43.6L133 44.1L126.3 49L125.7 50L125.4 51.5L126.1 59L125.7 62.5L123.9 66.5L122.5 67.9L121 68.7L118 69.1L115.5 68.4L114 67.1L111 62.6L109.5 61.1L107.5 59.9L103.4 58.5L96.5 57.3L84 58.3L81.5 57.7L80.4 57L79.8 56L80.3 53L80 51.5L79 50L77.5 48.7L75 48L63.5 47.5L60.7 46.5L58 44.6L54 40.9L50.6 37L46.2 29L45.8 26.5L48 20.3L50.5 18.3L56.5 11.9L58 10.8L60 10.8L63.5 12.3L76.5 13.5L82 13.4L97.5 12.2L99.5 11.7L101 10.6L103.5 5.5L105 4L105.5 4L107.5 6.1L110 6.3L112 5.5L115 3.2L121 1.5L122.9 0.5ZM121.5 13.4L118 14.3L116.5 15.1L115.8 17L116.5 18.6L119 19.8L122 20.2L125 19.7L127.1 18.5L127.8 17.5L127.8 16.5L126.9 15L124.5 14L121.5 13.4ZM134.2 52L138 51.7L172.5 51.7L172.5 71L137 70.8L133.5 70.2L132.3 69L131.7 67L131.7 56.5L132.3 53.5L133 52.6L134.2 52ZM110.9 72.5L112.1 72.5L112.7 73.5L112.4 74.5L111.3 75.5L103 78.5L97 80L74.5 84.5L56 86L54 86L53 85.5L53.1 85L53.9 84.5L55.9 84L75 80.8L94.7 76.5L106 74.9L110.9 72.5ZM111.9 154.5L115 154.1L118.5 154.2L134 156.7L135.5 157.7L136.5 159.3L137.2 162L137.6 165.5L105 165.5L105.1 160.5L105.8 158L108 156L111.9 154.5Z"/>
<path fill="#0f84ff" d="M124.4 0L172.5 0L172.5 15.8L152 16L147.5 17.4L143 20.1L141.7 22L141.4 24L142.1 25.5L144.8 28L145.6 30L145.8 37L145.3 40.5L144 42.2L142 43.1L133 43.4L125.3 49L124.6 51.5L125.4 58.5L125.1 62L123.4 66L120.8 68L118.5 68.3L115.8 67.5L114.2 66L110.5 60.7L108.8 59.5L106.5 58.5L101 56.9L97 56.2L82.5 57.2L80.5 56L80.2 51.5L79.2 50L77.5 48.6L75 47.9L65.5 47.6L61.6 46.5L57 43.1L52.4 38.5L49.9 35L46.3 28.5L46.2 26L48.2 21L58 11.3L60 11.1L64 12.9L76.5 14L82 13.9L98 12.7L100 12.1L101.4 11L103.7 6.5L105 5.1L107.7 6.5L110.5 6.4L114.5 4.3L123 1.6L123.9 1L124.4 0ZM94.5 42.4L93.8 43L93.9 43.5L95 43.9L98.5 43.5L98.6 43L94.5 42.4ZM121 13.4L117.5 14.4L116.1 15.5L115.7 17.5L116.9 19L120 20.1L123 20.2L126 19.4L127.5 18.2L127.9 16.5L126.5 14.6L123 13.5L121 13.4ZM155.4 18.5L158 18.1L167.5 18.2L169.5 18.6L171 19.5L172.5 21L172.5 34.2L170.5 36L168 36.8L157 36.8L154.3 36L153.6 35L153.2 33.5L153.2 22.5L153.7 20L155.4 18.5ZM135 54L138.5 53.5L172.5 53.5L172.5 69.9L160 69.8L153.5 69L137.5 68.9L135 68.5L133.8 67L133.5 63L133.7 56L134 54.9L135 54ZM114 156L117 155.9L120 156.4L125.2 158.5L126.8 160L127.7 161.5L128 165.5L112.5 165.5L110 161.5L109.6 159.5L110.2 158L111 157.2L114 156Z"/>
<path fill="#0a6cfc" d="M125.4 0L172.5 0L172.5 15L152 15.3L147.5 16.7L142.5 19.6L141.2 21.5L140.8 24L141.2 25.5L144 28L145 30L145.3 37L144.6 40.5L143.5 41.8L141.5 42.6L133 42.7L124.6 48.5L124.1 49.5L123.9 51L124.7 58.5L124.5 61.5L123 65.2L121.9 66.5L120.5 67.3L118 67.5L116 66.6L114.5 65.1L111 60L107.5 57.9L101 56L97 55.3L82.5 56.3L81 55.4L80.8 52.5L80.1 51L77.5 48.5L75 47.9L66.2 47.5L62 46.3L57.5 42.9L52.6 38L50.3 35L46.6 28.5L46.5 26L48.4 21.5L57 12.4L58.5 11.4L60 11.4L64 13.3L76.5 14.5L82 14.4L90 13.5L98 13.1L100.2 12.5L101.6 11.5L104 7.1L105 6.1L108 6.9L111 6.5L114.5 4.8L123.5 2.1L125 1L125.4 0ZM94.5 41.5L93.5 41.8L92.9 43L93 44.1L94 44.9L101.5 44.6L103.3 44L103.6 43.5L102.3 42.5L100.5 42L94.5 41.5ZM120.5 13.5L117.5 14.3L116 15.5L115.7 17.5L117 19.2L120 20.2L123 20.3L126 19.5L127.7 18L127.8 16L126.5 14.5L122.5 13.3L120.5 13.5ZM155.5 19.5L158 19.1L166.5 19.1L168.5 19.3L170 20L171 21.5L171.3 24L171.3 32.5L170.3 35L168.5 36L165 36.2L157 36.1L155.5 35.8L154.5 35.1L153.8 32.5L153.8 22.5L154.3 20.5L155.5 19.5ZM158.7 57.5L161.5 57.2L172.5 57.1L172.5 68.7L160.5 68.6L158.5 68.3L156.7 67.5L155.8 66.5L155.3 65L155.3 61.5L156.3 59L158.7 57.5ZM114.1 158.5L116 158.1L118 158.3L122.6 160L124.6 162L125 165.5L117.1 165.5L116.3 164L114 161.9L113.1 160.5L113.1 159.5L114.1 158.5Z"/>
<path fill="#0555f8" d="M126.2 0L172.5 0L172.5 14.4L152 14.7L147 16.2L142 19.2L140.6 21.5L140.2 24.5L140.7 26L143.5 28.3L144.5 30.4L144.7 37L144.2 40L143 41.4L141 42.1L133 41.9L128.5 45.6L123.5 48.5L123 50.5L124 58L123.8 61L122.5 64.5L121.5 65.7L120.2 66.5L118.5 66.7L116.5 65.9L115.2 64.5L111.8 59.5L110 58.1L108 57.2L101.5 55.2L97 54.3L84.5 55.5L82.5 55.4L81.5 54.6L81.1 52.5L80.3 51L77.5 48.4L75 47.8L67.2 47.5L62.5 46.1L58 42.8L53.1 38L50.4 34.5L46.9 28.5L46.7 26L48.5 21.9L57 12.8L58.5 11.7L60 11.7L64 13.7L76 14.9L82 14.8L90 13.8L94 13.9L98.4 13.5L100.5 12.9L101.8 12L105 6.9L110.5 6.9L114.5 5.2L122.7 3L125 2L125.9 1L126.2 0ZM94 40.9L92.9 41.5L92.4 43.5L93 45.2L94 45.8L103 45.4L105 44.9L106.2 44L105.6 43L102.5 41.7L97.9 41L94 40.9ZM120.5 13.4L117.5 14.2L115.9 15.5L115.6 17.5L117 19.3L120 20.3L123 20.3L126 19.5L127.8 18L127.9 16L126.6 14.5L123 13.3L120.5 13.4ZM158.4 20L167 20L168.5 20.3L169.5 21L170.2 23.5L170.2 32L169.7 34L169 34.8L166.5 35.4L158.5 35.4L156.5 35.2L155.3 34.5L154.6 32L154.8 22L155.8 20.5L158.4 20ZM160.6 59L172.5 58.9L172.5 67.5L161.5 67.5L158.5 66.7L157.7 66L157.1 64.5L157.2 61.5L158.5 59.7L160.6 59Z"/>
<path fill="#033ef2" d="M127 0L172.5 0L172.5 13.7L152 14L147 15.6L141.5 18.7L140.1 21L139.7 25L140.2 26.5L143 28.7L143.9 30.5L144.2 36L143.7 39.5L142.5 41L141 41.5L138 41.6L134 40.9L133 41.2L128 45.4L122.5 48L121.9 49L121.8 50.5L122.9 58L122.9 60L121.9 63L120 65.1L118.5 65.2L117 64.6L112.4 58.5L110.5 57.2L108 56.1L101.5 54.1L97 53.3L83 54.4L82 53.6L80.1 50.5L77 48.1L75 47.7L68.1 47.5L63.5 46.3L59 43.2L54 38.5L50.7 34.5L47.1 28.5L47 26L48.8 22L53.2 17L58.5 12L60 11.9L64 14.1L76 15.3L82 15.2L90 14.1L93.5 14.3L98.5 13.9L100.5 13.3L102 12.4L104.5 8.4L105.5 7.4L110.5 7.1L114.5 5.6L124.3 3L126.1 2L127 0ZM93.5 40.4L92.4 41.5L92 43.5L92.5 45.5L94 46.7L104 46.3L107.3 45.5L108.6 44.5L107.5 43L103.5 41.4L97 40.3L93.5 40.4ZM120 13.4L117 14.4L115.8 15.5L115.5 17.5L116 18.5L117 19.4L120 20.3L123.5 20.3L126.5 19.4L127.9 18L128 16L126.5 14.3L122.5 13.2L120 13.4ZM157.4 21.5L166 21.4L168.1 22L168.7 24L168.7 30.5L168.6 32.5L168 33.6L166.5 34.1L160 34.1L157.5 34L156.5 33.5L155.9 31.5L155.9 23.5L156.5 22L157.4 21.5ZM161.1 60.5L172.5 60.4L172.5 66.1L162.5 66.1L160 65.7L158.8 64.5L158.7 62.5L159.5 61.1L161.1 60.5Z"/>
<path fill="#0228eb" d="M127.8 0L172.5 0L172.5 13L152 13.3L147 14.8L141.5 17.7L139.8 20L139.2 25.5L139.6 27L142.5 29.3L143.4 31L143.5 37L142.9 39.5L141.8 40.5L139.9 41L137 40.9L134 39.9L133 40.3L127.5 45.2L121.5 47.3L119 49.6L115.3 51L114.5 52.5L114.2 55.5L113.5 56.2L101.5 52.8L97.5 52L94 52L88.5 52.9L83.5 53.3L82.5 52.8L78.7 49L77 48L75 47.6L69 47.5L64.5 46.4L60 43.6L54.5 38.6L50.7 34L47.1 28L47.2 26L49 22.1L53.5 17L58.5 12.2L60 12.2L64 14.5L75.5 15.6L83.5 15.5L90 14.4L93.5 14.7L98.5 14.3L102 13L105.7 8L110.5 7.3L115 5.8L125.5 3.1L127.1 2L127.8 0ZM93.5 39.8L92.1 41.5L91.8 44L92.5 46.5L94 47.9L105.5 47.4L109.5 46.5L111 45.5L111 44.5L110 43.5L105.5 41.4L98.5 39.9L95 39.6L93.5 39.8ZM119.5 13.5L117 14.3L115.5 16L115.5 18L117 19.5L120 20.4L123.5 20.4L126.5 19.5L128 18L128.1 16L126.5 14.2L122.5 13.1L119.5 13.5Z"/>
<path fill="#0115e2" d="M128.7 0L172.5 0L172.5 12.3L156 12.3L151.5 12.6L146.5 14.2L140.4 17.5L139.2 19.5L138.5 26L139 27.8L142 30L142.7 31.5L142.6 38L142 39.2L141 39.9L137.5 40.1L134 38.5L129 43.6L127 45L125 45.8L117 47.2L115 46.6L113.3 44.5L111.8 43.5L107.3 41.5L99 39.3L94.5 38.8L92.5 40L91.5 42.5L91.6 45L92.8 49L92.6 50L91.5 51.1L89 51.9L83.5 52.1L82 51.5L77 47.9L68.5 47.3L63.5 45.6L59 42.3L54 37.6L50.5 33.3L47.3 28L47.4 26L49 22.5L53.3 17.5L58.5 12.5L60 12.4L64 14.8L75.5 16L83.5 15.9L90 14.6L93.5 15.1L99 14.6L101 14L102.5 13.1L105 9.3L106 8.4L126.2 3.5L128 2.2L128.7 0ZM121.5 13L118 13.8L115.9 15L115.2 17L116.2 19L119 20.3L122 20.6L125 20.2L127.5 18.9L128.4 17L127.5 14.8L125.5 13.7L121.5 13Z"/>
<path fill="#0002da" d="M129.8 0L172.5 0L172.5 11.2L155.5 11.3L151 11.7L147 12.9L139.5 16.6L138.6 18.5L137.7 28L138.1 29L140.7 30.5L141.6 32L141.6 37L141.3 38L140.5 38.8L139 39.1L137.5 38.7L135.5 35.9L135 35.7L134 36.6L129.9 42L127.5 44.3L124.5 45.4L119.5 45.5L117 45.2L110.1 42L100.7 39L97 37.3L95.5 37.3L93.5 38.2L92 40.1L91.3 43.5L91.9 49L91 50.5L89 51.3L83 51.4L81.5 50.8L77 47.8L68.5 47.2L63.8 45.5L59 42L54.5 37.8L51 33.7L47.5 28L47.6 26L49.3 22.5L54 17L58 13L59 12.5L60 12.6L62.5 14.5L64 15.2L75 16.3L83.5 16.2L90 14.9L93.5 15.5L99 15L101 14.5L102.6 13.5L105.4 9.5L106.5 8.7L116 6.1L128 3.6L129.2 2.5L129.8 0ZM121 12.9L117.5 13.9L115.8 15L115.2 16L115.1 17.5L116.5 19.4L119 20.4L122.5 20.7L126 19.9L128 18.5L128.5 16.5L127.3 14.5L124 13.2L121 12.9Z"/>
<path fill="#0001ca" d="M131.7 0L172.5 0L172.5 9.5L151.5 9.8L148 10.6L141.5 13.4L138.5 14.1L137.6 15.5L138 22.5L137 26.8L132.2 38L129.8 41.5L127.5 43.8L126 44.6L124 45L118 44.4L102.5 39L100.5 38L98 36L95.5 35.8L93.5 37L91.7 40L91 43L91.4 49L90.5 50.2L89 50.8L82.5 50.8L77 47.7L69 47.1L64.4 45.5L60 42.4L55 37.9L51 33.3L47.7 28L47.8 26L49.5 22.5L53.8 17.5L58 13.3L59 12.8L60 12.9L62.5 14.9L64 15.5L75 16.7L83.5 16.6L89.5 15.2L93.5 15.8L99 15.4L101.5 14.7L103 13.7L105.6 10L107 8.9L120.5 5.4L130 4.1L131.2 3L131.7 0ZM120.5 12.9L117 14L115.3 15.5L115 17L115.2 18L116.5 19.5L120 20.7L123 20.8L126.5 19.8L128.1 18.5L128.6 17L128.5 16L127 14.2L123 12.9L120.5 12.9Z"/>
<path fill="#0001ba" d="M122.2 5.5L128 5.6L129.5 6L131 7L135.3 14L136.8 18L137.4 21L137 25L134.5 30.1L131.6 38L128.5 42.4L125.5 44.3L122.5 44.5L117.5 43.6L103 38.6L98.5 35.3L95.5 35L93.4 36L91.4 40L90.8 43L91.2 48L90.6 49.5L88.5 50.4L82.5 50.5L81 50L77 47.5L69 47L65.9 46L63.5 44.7L58.7 41L54 36.5L51 32.9L47.9 28L48 26L49.5 22.9L54 17.5L58 13.6L59 13L60 13.1L62.5 15.2L64 15.9L74.5 17.1L83 17L89.5 15.5L93.5 16.2L98 15.9L101 15.3L103 14.3L106 10.2L107.5 9.2L115 7L122.2 5.5ZM120 13L117 13.8L115.2 15.5L114.8 17L115 18L116.5 19.7L119.5 20.7L123 20.9L126.5 19.9L128.3 18.5L128.7 17.5L128.6 16L127 14L123 12.8L120 13Z"/>
<path fill="#0000aa" d="M121.3 6L126.3 6L128 6.5L129.4 7.5L134.9 15.5L136.4 19L137 21.5L136.6 24.5L134 29.5L131.1 38L128.3 42L125.5 43.8L122.4 44L117 42.8L103.9 38.5L99 34.7L95.5 34.3L94 34.7L93 35.5L91.5 38.8L90.6 42.5L90.8 47.5L90.5 49L88.5 50.1L82 50.1L77 47.4L69 46.8L66.4 46L63.7 44.5L59 40.9L54 36.1L51 32.6L48.2 28L48.2 26L49.7 23L54 17.8L59 13.3L60 13.4L62.5 15.6L64 16.3L74 17.4L83 17.4L89.5 15.7L93.5 16.6L98 16.3L101 15.7L103 14.8L104.4 13.5L106.3 10.5L107.7 9.5L114.5 7.4L121.3 6ZM119.5 13L116.5 14L115.1 15.5L114.7 16.5L114.9 18L116.5 19.8L119.5 20.8L123 21L126.5 20.1L128.4 18.5L128.8 17.5L128.8 16L128.3 15L127 13.8L122.5 12.6L119.5 13Z"/>
<path fill="#00009c" d="M120.5 6.5L125.5 6.5L127.1 7L128.5 8L134.2 16L135.7 19L136.4 21.5L136.1 24.5L133.5 29L130.5 38L128.2 41.5L125.5 43.3L123 43.6L120 43L106.7 39L103.3 37.5L99.5 34.2L97.5 33.7L95 33.8L93 34.7L91.5 37.8L90.5 42L90.5 47.5L90 49L88 49.8L82 49.8L77 47.2L69 46.7L64.2 44.5L59.6 41L55 36.8L51.5 32.9L48.4 28L48.4 26L50 23L54.1 18L59 13.5L60 13.7L62.5 15.9L64 16.7L74 17.9L83 17.8L89.5 16L93 17L98 16.7L101 16.2L103.5 15L107 10.5L108.5 9.6L115.4 7.5L120.5 6.5ZM121 12.5L117 13.6L115.2 15L114.6 17L115.5 19.2L118.5 20.7L122 21.2L126 20.4L128.3 19L128.9 18L129.1 16.5L128 14.4L127 13.7L124 12.7L121 12.5Z"/>
<path fill="#00008e" d="M119.9 7L124.5 6.9L127.5 8.3L133.7 16.5L135.1 19L135.9 21.5L135.7 24L132.9 29L130 38L127.5 41.5L125 42.9L123 43L120.2 42.5L106.8 38.5L104 37.3L100 33.8L98 33.2L95 33.2L92.9 34L91.5 36.5L90.3 41.5L90.2 47L89.9 48.5L88 49.4L82 49.5L77 47L69 46.5L64 44L58.8 40L53.5 34.8L50.5 31.1L48.5 27.6L48.6 26L50.3 23L54.4 18L59 13.8L60 14L62.5 16.4L64 17.2L73.5 18.3L82.5 18.3L89.5 16.3L93 17.5L98 17.2L101 16.7L103.5 15.7L105.2 14L107.2 11L108.5 10L114.8 8L119.9 7ZM120.5 12.4L117 13.4L115 15L114.4 17.5L115.6 19.5L118 20.7L122 21.3L126.5 20.4L128.5 19L129.3 16.5L128.8 15L128 14.1L126.5 13.2L123 12.3L120.5 12.4Z"/>
<path fill="#000080" d="M119.5 7.5L123.5 7.4L126.5 8.5L133 16.8L134.5 19.3L135.2 21.5L135 24L132.4 28.5L129.5 37.8L127.5 40.7L125 42.3L123 42.4L120.6 42L107 38L104.5 36.8L101.5 34L100 33.1L97.5 32.6L94.5 32.7L92.5 33.6L91.2 36L90.1 41L89.9 47L89.5 48.3L87.5 49.1L81.5 49L77 46.8L69 46.2L64.5 44L59.3 40L53.5 34.4L50.5 30.6L48.8 27.5L49 25.8L50.5 23.2L54.8 18L59 14.2L60 14.4L62.5 16.9L64 17.8L73.5 18.8L82.5 18.8L89.5 16.7L93 18L98.5 17.7L101.5 17.2L104 16L105.6 14.5L107.5 11.4L109.5 10L114.4 8.5L119.5 7.5ZM119.5 12.5L116.5 13.4L114.7 15L114.2 17.5L115.5 19.7L119 21.2L122.5 21.5L126 20.8L128.8 19L129.4 17.5L129.5 16L129.2 15L128 13.6L123 12.1L119.5 12.5Z"/>
<use href="#grid"/>
<path d="M173.9 11.1L166 10.6L158 12.2L151.4 14.7L147.4 17.5L144.1 21.1L139.4 23.4L136.8 25.9L137 29.5L140.1 29.5L140.1 25.9L142.1 24.4L146 22.3L148.7 20.8L150 18.7L152.7 17L156.7 15.4L159.3 14.4L166 12.9L173.9 13.9ZM142.1 -1.4L173.9 -1.4L173.9 2.6L163.3 3.9L154 5.5L144.7 2.9ZM125 25.9L124.7 26.8L123.9 27.3L123 27.3L122.3 26.8L122 25.9L122.3 25L123 24.4L123.9 24.4L124.7 25ZM132.4 28.2L132.2 29L131.5 29.5L130.6 29.5L129.9 29L129.6 28.2L129.9 27.3L130.6 26.8L131.5 26.8L132.2 27.3Z" fill="#fff"/>
<use href="#halo"/>
<use href="#land"/>
</g>
<path d="M0 165.3H172.6V0" fill="none" stroke="#555" stroke-width="1.1"/>
<path d="M0 165.3V0" fill="none" stroke="#333" stroke-width="1.1"/>
<path d="M-0.5 0H172.6" fill="none" stroke="#000" stroke-width="1.1"/>
</g>
<text x="460.6" y="35.0" text-anchor="end" class="t">75°N</text>
<text x="460.6" y="70.9" text-anchor="end" class="t">50°N</text>
<text x="460.6" y="106.9" text-anchor="end" class="t">25°N</text>
<text x="451.0" y="142.8" text-anchor="middle" class="t">0°</text>
<text x="460.6" y="178.7" text-anchor="end" class="t">25°S</text>
<text x="484.0" y="200.6" text-anchor="middle" class="t">85°W</text>
<text x="517.2" y="200.6" text-anchor="middle" class="t">60°W</text>
<text x="550.4" y="200.6" text-anchor="middle" class="t">35°W</text>
<text x="583.6" y="200.6" text-anchor="middle" class="t">10°W</text>
<text x="616.8" y="200.6" text-anchor="middle" class="t">15°E</text>
<text x="9.6" y="14.9" class="pl">a</text>
<text x="226.3" y="14.9" class="pl">b</text>
<text x="442.7" y="14.9" class="pl">c</text>
<text x="9.2" y="230.3" class="pl">d</text>
<text x="307.4" y="230.1" class="pl">e</text>
<rect x="644.8" y="23.6" width="17.4" height="164.9" fill="url(#cb)" stroke="#333" stroke-width="0.7"/>
<path d="M662.2 23.6h-2" stroke="#222" stroke-width="0.6"/>
<text x="667.7" y="28.0" class="t">2</text>
<path d="M662.2 64.8h-2" stroke="#222" stroke-width="0.6"/>
<text x="667.7" y="69.2" class="t">1</text>
<path d="M662.2 106.1h-2" stroke="#222" stroke-width="0.6"/>
<text x="667.7" y="110.5" class="t">0</text>
<path d="M662.2 147.3h-2" stroke="#222" stroke-width="0.6"/>
<text x="667.7" y="151.7" class="t">-1</text>
<path d="M662.2 188.5h-2" stroke="#222" stroke-width="0.6"/>
<text x="667.7" y="192.9" class="t">-2</text>
<text x="646.6" y="16.4" class="l">°C</text>
<rect x="31.5" y="235.4" width="254.4" height="123.5" fill="#fff"/>
<path d="M95.1 235.4V358.9M158.7 235.4V358.9M222.3 235.4V358.9M31.5 263.9H285.9M31.5 311.4H285.9" stroke="#e2e2e2" stroke-width="0.8" fill="none"/>
<path d="M34.7 251.7L285.9 344.9" stroke="#a9a9a9" stroke-width="2.9" stroke-dasharray="12 11.35" fill="none"/>
<polyline points="34.7,274.9 37.9,275.7 41.0,288.6 44.2,279.1 47.4,270.6 50.6,266.1 53.8,276.8 56.9,274.2 60.1,258.5 63.3,260.6 66.5,248.4 69.7,245.1 72.8,252.9 76.0,242.1 79.2,243.3 82.4,243.5 85.6,262.0 88.7,279.7 91.9,297.6 95.1,284.5 98.3,273.0 101.5,279.2 104.6,270.8 107.8,265.8 111.0,261.2 114.2,258.0 117.4,270.6 120.5,268.6 123.7,265.4 126.9,278.1 130.1,287.6 133.3,295.2 136.4,286.3 139.6,280.1 142.8,279.7 146.0,276.7 149.2,267.9 152.3,286.1 155.5,281.9 158.7,288.1 161.9,295.2 165.1,305.8 168.2,320.5 171.4,316.8 174.6,327.2 177.8,309.5 181.0,326.1 184.1,321.3 187.3,316.8 190.5,305.0 193.7,298.1 196.9,301.7 200.0,298.8 203.2,310.3 206.4,321.2 209.6,325.6 212.8,324.5 215.9,333.2 219.1,339.7 222.3,331.5 225.5,331.8 228.7,326.3 231.8,321.4 235.0,311.7 238.2,311.7 241.4,302.4 244.6,312.8 247.7,314.7 250.9,330.3 254.1,336.6 257.3,338.5 260.5,344.5 263.6,346.4 266.8,350.8 270.0,351.1 273.2,347.0 276.4,358.6 279.5,351.5 282.7,347.4 285.9,329.5" fill="none" stroke="#0072bd" stroke-width="1.55" stroke-linejoin="round"/>
<path d="M31.5 358.9v-2.6M31.5 235.4v2.6M95.1 358.9v-2.6M95.1 235.4v2.6M158.7 358.9v-2.6M158.7 235.4v2.6M222.3 358.9v-2.6M222.3 235.4v2.6M285.9 358.9v-2.6M285.9 235.4v2.6M31.5 263.9h2.6M285.9 263.9h-2.6M31.5 311.4h2.6M285.9 311.4h-2.6M31.5 358.9h2.6M285.9 358.9h-2.6" stroke="#262626" stroke-width="0.7" fill="none"/>
<rect x="31.5" y="235.4" width="254.4" height="123.5" fill="none" stroke="#262626" stroke-width="0.8"/>
<text x="31.7" y="372.7" text-anchor="middle" class="t">0</text>
<text x="95.3" y="372.7" text-anchor="middle" class="t">20</text>
<text x="158.9" y="372.7" text-anchor="middle" class="t">40</text>
<text x="222.5" y="372.7" text-anchor="middle" class="t">60</text>
<text x="286.1" y="372.7" text-anchor="middle" class="t">80</text>
<text x="29.2" y="268.5" text-anchor="end" class="t">0</text>
<text x="29.2" y="316.0" text-anchor="end" class="t">-5</text>
<text x="29.2" y="363.5" text-anchor="end" class="t">-10</text>
<text x="158.6" y="386.6" text-anchor="middle" class="l">Time (year)</text>
<text transform="translate(10.3 297.2) rotate(-90)" text-anchor="middle" class="l">AMOC strength (Sv)</text>
<clipPath id="ec"><rect x="0" y="0" width="299.0" height="123.3"/></clipPath>
<g transform="translate(337.8 235.4)"><g clip-path="url(#ec)">
<rect width="299.0" height="123.3" fill="#fff"/>
<path fill="#fff5de" d="M48.7 0L127 0L127.6 2L129 3.2L139 5.1L151 5L155.5 3.9L159 3.7L160.5 4.1L163.5 5.8L166 6.6L177 8.2L186 7.4L190 6.4L191.2 5.5L192.2 4L193.1 0L207.9 0L207.7 4.5L206.8 9.5L204.8 16.5L202.7 22.5L200.3 28L197.8 32.5L195 36.4L192.5 38.6L189 40.1L180 42.2L172 43.5L161 46.1L147.3 48.5L140.6 51L131.5 55.2L114.5 60.9L106 62.3L91.5 63.6L83 63.8L76.5 63.4L52 60.1L21.4 51.5L9.9 50L0 49.2L0 6.6L17 7.2L30.5 6.5L40 4.5L46 3.6L48.1 2L48.7 0ZM136 7.4L135 8.5L134.9 10.5L135.6 12L137 13.3L140 14.8L142.5 15.5L145 15.3L146 14.5L145.9 13.5L144.8 12L139.5 7.5L138 7L136 7.4ZM22.2 65.5L25.5 65L30 65.2L33 66.1L35 67.7L36.2 70L36.7 73.5L36.3 77L34.9 80L33 82L30.5 83.2L27.5 83.6L21.5 83.5L20.5 83.8L19.9 85L19.2 93L18.1 95L16.5 96.3L12.5 97.1L0 97.2L0 80.3L15 80.4L16.8 80L17.3 79L17.3 72.5L17.9 69.5L19.5 67L22.2 65.5Z"/>
<path fill="#ffebbe" d="M49.8 0L126.8 0L127.4 2L128.5 3.1L135.8 5L136.7 5.5L134.2 7.5L134.8 11L136.2 13L140 15.1L146 16.6L146.6 16.5L147.3 15.5L147.5 14.5L147.2 13.5L141 7.5L140.3 6L141 5.6L151 5.3L155.5 4.4L159 4.2L163.5 6.2L168 7.3L175 8.3L180 8.3L187.5 7.3L190.5 6.2L192.3 4L193.3 0L207.7 0L207.5 4.5L206.5 9.5L204.4 17L202.2 23L199.7 28.5L197.1 33L194.5 36.4L192 38.5L189 39.7L179 41.9L163 44.9L146 47.5L130.6 51.5L112.5 57L90.5 59.7L85.5 59.8L80 59.5L53 56L28 49L21.5 47.6L8.5 46L0 45.5L0 6.7L17 7.2L30.5 6.6L40 4.7L46 4L48.4 2.5L49.8 0ZM0 86.5L11 86.6L12.7 87.5L13 89.5L12.2 90.5L10.5 91L0 91.1L0 86.5Z"/>
<path fill="#ffde96" d="M56 0.5L56.2 0L126.7 0L127 1.5L128 3L134.6 5.5L133.5 7.5L134.8 11.5L136 13.1L139 14.9L143.5 16.3L146.5 17.8L147.5 17.6L147.8 17L148.3 15L148.1 13.5L142.2 8L141.5 6.5L142 5.9L151 5.7L155.5 4.9L159 4.8L164 6.7L169.5 7.8L175.5 8.6L180.5 8.4L187.5 7.4L190.5 6.4L192.5 4L193.4 0L207.5 0L206.9 7L204.2 17L200.4 26.5L196.7 33L194 36.4L191 38.6L179 41.5L163.5 44.1L136.5 47.7L111 52.4L87 54.4L79.5 54L56 51.8L44 49.6L21 44.7L0 42.9L0 6.8L17 7.3L30.5 6.7L40 4.9L45.5 4.4L47.5 3.7L50.5 1.8L54.5 1.3L56 0.5Z"/>
<path fill="#ffd26e" d="M57.9 0L126.5 0L127 1.9L128 3.1L133.3 5.5L133.2 8L134.6 11.5L136 13.4L139 15.2L143.5 16.8L146 18.4L147.5 18.7L148.5 18.2L148.8 17.5L149 13.5L148 12.1L143 8L142.5 7L143 6.3L151 6.3L158.5 5.5L163.5 6.9L170.5 8.3L175.5 8.8L180 8.7L187 7.6L190.5 6.5L191.7 5.5L192.6 4L193.6 0L207.3 0L206.6 7L203.9 17L200.2 26.5L196.5 32.8L194 36L191 38.1L179 41.1L165 43.4L147 45.2L136 45.8L113.5 47.9L88.5 49.1L66 48.4L51.5 47.2L40.5 45.9L19 42L0 40.7L0 6.8L17 7.4L30.5 6.8L40 5.1L45.5 4.7L50.5 2.8L55.5 2.3L57 1.5L57.9 0Z"/>
<path fill="#ffc346" d="M59 0L126.4 0L126.7 1.5L127.6 3L132.5 5.5L133 8.4L134.6 12L136 13.7L138.5 15.2L143.1 17L146 19L147.5 19.3L149.2 19L150.1 18L150.1 13.5L149 11.7L144.4 8.5L143.7 7.5L144 6.8L151 7.1L158.5 6.6L173 8.9L180.5 8.8L187.5 7.7L190.7 6.5L192.8 4L193.8 0L207.1 0L206.4 7L203.7 17L199.9 26.5L196.4 32.5L193.5 36L191 37.7L178.5 40.9L165.5 42.8L147.5 44.3L131.5 44.3L96 46.4L83.5 46.5L65 45.8L46 44.2L19.5 39.8L0 38.5L0 6.9L17 7.5L30.5 6.9L39.5 5.4L45.5 4.9L50.5 3.4L55.7 3L57.7 2L59 0Z"/>
<path fill="#ffb41e" d="M60 0L126.3 0L126.5 1.5L127.5 3.1L132 5.5L132.5 8L134.1 11.5L136 14.1L138 15.3L142.5 17.1L146 19.5L148 19.9L150 19.4L153 17.2L158.5 16.1L159.7 15.5L160.5 14L161 9.5L161.8 8.5L162.5 8.2L164.5 8.1L175.5 9.3L183 8.7L188.5 7.5L191 6.4L192.9 4L194.1 0L206.8 0L206.2 7L203.5 16.7L199.6 26.5L196 32.6L193.5 35.6L190.5 37.6L178 40.6L165.5 42.2L147 43.4L129.5 42.4L95.5 43.9L83 43.9L65 43.1L46 41.6L20 37.2L0 35.8L0 7L5.5 7.4L21.5 7.5L30.5 6.9L39.5 5.6L45 5.3L50 4L56.5 3.4L58.8 2L60 0Z"/>
<path fill="#ffa00f" d="M60.9 0.5L61 0L126.1 0L126.6 2L127.5 3.3L131.5 5.5L134 12L136 14.6L142.2 17.5L145.5 19.8L148 20.4L150 20.1L153.5 18.7L159 17.8L160.7 17L162 15L162.9 10L163.9 9L176 9.6L184 8.7L189.5 7.4L191.5 6.2L193.3 3.5L194.3 0L206.6 0L205.8 7.5L202.5 18.8L198.6 28L194 34.7L191.5 36.7L189 37.7L178 40.2L167 41.6L145.5 42.4L137 41.7L129 40.5L91.5 41.3L46 38.3L42 37.4L38.5 35.8L34 32.9L30.8 30L29.3 27.5L29 25.5L29.4 24L31.2 21.5L31.1 21L28.5 20.8L10 21.8L0 21.9L0 7.1L6 7.5L21.5 7.5L30 7.1L39.5 5.8L45 5.5L50 4.5L56.5 3.9L59.2 2.5L60.9 0.5Z"/>
<path fill="#ff8c00" d="M62.1 0L126 0L127 3L131.1 5.5L134 12.6L136 15.4L141.8 18L145.5 20.4L148.5 20.9L158.5 19.1L161 18.2L162.6 16.5L164.2 11L165.1 10L178.5 9.9L187 8.2L190 7.3L191.9 6L193.7 3L194.6 0L206.4 0L205.6 7.5L202.5 18.1L198.5 27.6L194 34.2L191.5 36.3L189 37.3L178 39.8L167.5 41L158.5 40.8L145 41.1L137.5 40.4L129.5 38.9L121.5 39.3L100.5 39.6L86.5 39.4L74.5 37.7L47 36.1L43 35.1L39.5 33.3L35 29.7L33.4 27L33.7 25.5L34.6 24.5L39 23.3L73 21.6L82 20.5L84 19.6L84.6 18L83.9 16.5L82 15.8L69 15.7L48 16.2L40 17.7L23.5 19.7L0 20.4L0 7.2L6 7.6L21.5 7.6L30.5 7.2L55 4.7L57.5 4.1L60 2.8L61.6 1.5L62.1 0Z"/>
<path fill="#ff7300" d="M63.3 0L125.9 0L126.3 2L127 3.2L131.1 6L136.5 19.1L141 19.4L146 21.3L148.5 21.5L157.5 20.5L161 19.3L163 17.5L165.5 12.5L167 11.3L180.5 9.9L190.5 7.2L192.8 5L194.9 0L206.1 0L205.5 7L202.1 18.5L198.3 27.5L193.9 34L191.5 35.9L188.5 37.1L178 39.4L168 40.4L164.5 40.5L158 39.4L138.5 38.9L129.5 37.5L123 38.2L114 38.3L95 38.4L84.5 38L74 35.8L45.5 34L43 33.1L40.5 31.6L38 29.5L37 28L37 27L37.8 26L41.2 25L72.5 23.5L83.5 21.5L85.4 20L85.9 17.5L84.9 15.5L82.5 14.5L69 14.4L48 15L40.5 16.8L24.5 18.8L0 19.7L0 7.3L6 7.7L21.5 7.7L55.5 5.1L58 4.5L61.5 2.9L62.6 2L63.3 0Z"/>
<path fill="#ff5a00" d="M64.4 0L125.7 0L126.1 2L127 3.4L130.3 5.5L131 6.5L133.4 13L134.6 19.5L135.5 21.5L137.5 22.3L143 22L148 22.4L156.5 21.8L159.5 21.2L162.5 19.4L166 14.5L169 12.6L172.5 11.5L181 10.2L190.5 7.3L193 5L195.2 0L205.9 0L205.9 0.5L205.2 7L202.5 16.5L198.5 26.5L195 32.2L192.5 34.9L190 36.3L176.5 39.1L166 39.8L157.5 37.7L136 37L130.5 36.3L120.5 37.3L98.5 37.4L86 37L82.3 36.5L76.5 34.4L73.5 33.8L46.5 32L43.6 31L41.4 29L41.4 28L42 27.5L44 26.9L72.5 25.5L84 22.5L85.5 21.6L86.3 20.5L86.8 19L86.8 17L85.5 14.5L82.5 13.4L69 13.3L48.5 13.9L40.5 16.2L25 18.2L0 19.1L0 7.4L5.5 7.8L21.5 7.8L55.5 5.7L62.9 3.5L64 2.3L64.4 0Z"/>
<path fill="#ff4100" d="M66.1 0L125.6 0L126.5 3L127.5 4.1L130.4 6L132.1 10L133.1 13.5L134 20.4L134.6 22.5L136 23.8L138 24.1L156 23.2L159.5 22.6L162 21.3L166.3 16L169.5 14L174 12.1L180.5 10.8L191 7.2L193.2 5L195.7 0L205.6 0L205.6 1.5L205 7L202 17.1L198.5 26L195 31.8L192.5 34.5L190 35.9L177.5 38.5L166.5 39L164.3 38.5L161 36.7L159 36.1L146.5 35.4L135.5 35.4L131.5 35L123.5 36.4L112.5 36.6L92 36.3L83 35.5L80.5 34.5L78.1 33L75.7 31L74.9 29.5L75.3 28L77.3 26L80 24.6L85 23.3L86.1 22.5L87.1 21L87.7 18L87 14.9L85 12.9L82.5 12.2L68.5 12.1L49 12.7L47 13.1L40.5 15.7L26 17.7L0 18.7L0 7.5L5 7.9L17.5 8L39 6.7L47 6.9L56 6.4L64 4.9L66.8 4L67.3 3.5L66.4 2L66.1 0Z"/>
<path fill="#ff2800" d="M90.9 0.5L92.2 0L125.4 0L126.3 3L127.5 4.3L130.1 6L132 10.5L132.7 14L134 25.1L134.5 27.6L135 28.1L137 27.4L157 26.3L161 25.5L163 24L165 19.5L167.5 16.7L174.7 13L180.5 11.3L191 7.4L193 5.5L196.2 0L205.3 0L205.3 2L204.5 7.8L201.5 17.7L198 26.3L194.5 32L192.5 34.1L190 35.6L178 38L169 38.1L166.5 37.7L165.1 37L162.5 33.8L159.5 32.8L136.6 32L135.5 31.3L134.5 29.5L132.7 32L130.9 33.5L127.5 34.8L123.5 35.6L95 35.4L87.8 35L84 34.4L81.9 33.5L80.2 32L79 30L79 28L80.5 26.2L85 24.6L87 23L88.2 20.5L88.5 17L87.8 14.5L86.5 12.5L84.5 11L82 10.4L69 10.3L50 10.8L48 11.4L42.5 14.6L38.5 15.6L23 17.6L0 18.3L0 7.6L17.5 8.1L40.5 7L50 8.1L62 7.1L81.5 6.5L83.5 6.2L85 5.4L88.5 1.8L90.9 0.5Z"/>
<path fill="#fc1400" d="M111.9 0L125.2 0L125.6 2L126.4 3.5L130.1 6.5L132 12L133 21.5L132.2 29L130.9 32L129.5 33.2L127.5 34L121.5 34.9L91.5 34L86.5 33.2L83.5 31.8L82.3 30L82.3 28.5L87.5 24.3L88.6 22.5L89.3 20L89.1 15L86.2 9L86.4 7.5L87.7 5.5L89.5 4L91.5 3.3L109.5 2.2L111.1 1.5L111.9 0ZM196.9 0L205 0L204.9 3.5L204 8.6L200.5 19.5L197.5 26.7L194.5 31.5L192.2 34L190 35.2L180.5 37.2L176 37.5L170.5 36.8L169 36.3L168.3 35L168.1 25L166.5 21L167.2 19L168.9 17.5L175.5 13.8L191.5 7.2L193.3 5.5L196.9 0ZM33.2 7.5L39.5 7.3L43.5 7.6L46.2 9L46.4 10.5L45.4 12L43.5 13.6L41.5 14.6L38.5 15.2L23 17.2L0 17.9L0 7.7L17 8.3L33.2 7.5Z"/>
<path fill="#fa0000" d="M113.2 0L125.1 0L125.4 2L126.2 3.5L129.4 6L130 6.9L131.6 11.5L132.5 21L131.4 29L130.3 31.5L129.2 32.5L127.5 33.3L122 34.2L93 32.2L90.5 31.8L88.6 31L87.7 30L87.5 28.5L90.1 22.5L90.7 18.5L90.3 14.5L88.8 9.5L88.9 8L89.5 6.5L90.6 5.5L92.5 4.9L110 4L111.5 3.4L112.4 2.5L113.2 0ZM197.8 0L204.6 0L204.5 4.5L203 11L200 19.9L197.3 26.5L194.5 31.1L192.3 33.5L190 34.9L181 36.7L176.5 36.9L173.2 36L171.5 35.1L170.4 33.5L169.9 30.5L169.4 21L170.2 19L173 16.5L176 14.5L185 10L191.5 7.4L193.1 6L197.8 0ZM0 8L17.5 8.4L40 7.6L44.1 8.5L45.1 9.5L45.2 10.5L44.5 12L42.7 13.5L40.5 14.5L38 15L23 16.9L0 17.5L0 8Z"/>
<path fill="#e90000" d="M114.2 0L124.9 0L125.2 2L125.9 3.5L129 6.1L130 7.6L131.3 12L131.9 22L130.6 29.5L129.5 31.4L128 32.4L123 33.4L118.5 32.9L113.2 31L111.2 29.5L110.2 28L109.7 26L109.5 22L110.1 9L110.8 7L113.5 2.9L114.2 0ZM199 0L204.1 0L204.1 5L202.5 11.5L199.5 20.3L197 26.4L194.5 30.6L191.5 33.7L188.4 35L178.5 36.6L176 36.2L173.6 35L171.7 32.5L170.9 29L171.3 21.5L172.7 18.5L174.6 16.5L177 14.9L184.7 10.5L192 7.3L195.5 3L199 0ZM0 8L17 8.5L39 7.9L42.7 8.5L44 9.5L44.3 10.5L43.7 12L42 13.4L37.5 14.7L23 16.5L0 17.2L0 8Z"/>
<path fill="#d90000" d="M115 0L124.7 0L125.7 3.5L129 6.5L130 8.4L131 12.5L131.5 21.5L130 29.4L129 30.9L127.5 31.8L123 32.6L119 32L115.1 30L113.3 27.5L112.8 25.5L112.6 22L113.2 8L115 0ZM200 0.5L200.3 0L203.3 0L203.9 3.5L203.5 6.5L201.5 13.5L198.5 21.9L196.5 26.6L194.2 30.5L191.5 33.3L188.5 34.6L179 36.1L177 35.8L175 34.9L172.8 32.5L171.8 29L172.4 22L173.9 18.5L176.6 16L184.5 11L192 7.5L196 3L200 0.5ZM0 8.5L0 8.1L17 8.6L37.5 8.1L42 8.8L43 9.5L43.4 10.5L42.9 12L41.5 13.2L36.1 14.5L23 16.2L0 16.8L0 8.5Z"/>
<path fill="#c80000" d="M115.8 0L124.4 0L125.4 3.5L128.5 6.5L129.6 8.5L130.5 12.7L131 21.5L129.5 29L128.5 30.4L127 31.2L123.5 31.8L120 31.3L116.5 29.5L114.6 27L114 24L114 17L114.6 6.5L115.8 0ZM201.4 1L202.5 1.2L203.3 3L203.3 5L202.6 8.5L197.5 23.4L195.6 27.5L193.5 30.8L191 33.2L188 34.4L179.5 35.6L177.5 35.4L175.5 34.4L173.5 32L172.5 28.5L173.3 22L174.9 18.5L177 16.5L185.1 11L192 7.8L196.5 3.1L201.4 1ZM0 8.5L17 8.8L26 8.3L37 8.4L41.5 9.2L42.4 10L42.6 11L41.6 12.5L39.4 13.5L26.5 15.5L0 16.5L0 8.5Z"/>
<path fill="#bb0000" d="M116.6 0L124.1 0L124.4 2L125.3 4L128.3 7L129.3 9L130.3 16.5L130.4 21.5L129 28.3L128 29.8L126.6 30.5L123 30.9L120 30.3L117.1 28.5L115.5 26L115.1 23L115.2 17L115.7 6.5L116.6 0ZM199 2.5L201 2.1L202.3 2.5L202.8 4L202.6 6.5L200.5 13.8L197.5 22.2L195.5 26.9L193.5 30.2L191 32.8L188 34L180 35.2L178 35L176.1 34L174 31.5L173.2 28.5L173.9 22.5L175.4 19L177.5 16.9L185.1 11.5L192 8.1L196 4L199 2.5ZM0 8.5L17 9L26 8.5L34.5 8.7L40.5 9.5L41.3 10L41.8 11L41 12.2L39 13.1L27 15L0 16.1L0 8.5Z"/>
<path fill="#ad0000" d="M117.6 0L123.7 0L124.8 4L127.5 7L128.5 9L129.5 15.7L129.6 21L128.4 27.5L127.5 28.8L126.2 29.5L123 29.8L120.5 29.2L118 27.6L116.7 25.5L116.3 23L116.4 17.5L117.6 0ZM199.5 3L201 3L202 3.7L202.2 5L202 7L196.5 23.4L194.9 27L193 30.2L190.7 32.5L188 33.5L180 34.7L178 34.3L176.5 33.5L174.5 31L173.9 28L174.6 22.5L176 19.4L178 17.4L185.8 11.5L192.5 8L196.5 4.1L199.5 3ZM0 9L0 8.6L16.5 9.2L26 8.8L33 8.9L39 9.7L40 10.1L40.7 11L40.1 12L38 12.8L26 14.7L0 15.6L0 9Z"/>
<path fill="#a00000" d="M119.2 0L122.9 0L123.6 3.5L126.7 8L127.5 10.6L128.3 17.5L128.3 21L127.1 26.5L126.3 27.5L125 28L123 28L121 27.4L119.1 26L118.4 24.5L118.2 18L119.2 0ZM198.1 4L200 3.8L201 4.1L201.5 5L201.3 7L196 23L194.5 26.6L192.5 30L190.5 32L187.5 33.2L180.5 34.1L178.5 33.8L177 33L175.1 30.5L174.5 28L175.2 23L176.5 19.9L178.2 18L185.9 12L192.5 8.4L196 5.1L198.1 4ZM0 9L16.5 9.5L26 9L31.5 9.3L36.9 10L39 11L38.1 12L36.5 12.5L25 14.3L0 15.1L0 9Z"/>
<path fill="#e0f8ff" d="M0 0L48 0L47.7 1.5L47.1 2.5L45 3.6L40 4.2L30 6.5L17 7.1L5 6.9L0 6.5L0 0ZM127.1 0L192.9 0L192 4L190 6.3L186 7.3L177 8.1L171 7.3L165.5 6.2L163 5.3L159.5 3.2L156 3.4L152 4.5L149.5 4.7L140 4.7L131.5 3.7L128.2 2.5L127.5 1.5L127.1 0ZM208.2 0L299 0L299 123.5L181.3 123.5L180.2 122L177.8 120.5L163 113.2L158 110.3L148.5 103.7L144.2 99.5L140.9 93.5L137.3 88.5L136.2 85L135.5 76L135.6 68.5L136.2 60L137.6 56L138.8 54.5L141 52.9L148.5 49.5L160.5 47.3L172 44.1L188.5 40.7L191.5 39.7L193.5 38.4L196 35.7L198.7 31.5L203.4 21.5L207.1 9L207.9 4.5L208.2 0ZM136.2 8.5L137.5 8.3L139 8.6L142 10.2L144.4 12.5L144.8 13.5L144.5 14.5L143.5 15.1L141.5 15L137 13.1L135.8 12L135.2 10.5L135.5 9.1L136.2 8.5ZM83.4 67.5L86.5 67.2L90.5 67.4L93.5 67.9L95.9 69L98.6 72L102 79.3L103.5 81.5L105.7 83L111.5 84.7L113.5 85.7L115.5 87.3L117.3 89.5L121.9 96.5L123.6 101L124.4 108L125 123.5L92.5 123.5L91.2 110.5L90 107.5L88.5 105.5L86.2 103.5L84 102.6L75.5 102.3L72.5 101.5L69.5 99.2L65.7 94.5L62.1 89L59.8 83.5L59.1 80L60 77.1L61.5 75.6L63.5 74.6L73 71.5L79.5 68.6L83.4 67.5Z"/>
<path fill="#c0f0ff" d="M0 0L47.4 0L47.1 1.5L46.5 2.4L44.5 3.4L40.5 3.9L30 6.4L17 7L5 6.9L0 6.4L0 0ZM127.3 0L192.8 0L191.9 4L190 6.1L186 7.2L177.5 7.9L172 7.3L165.5 5.9L163.1 5L159.5 2.6L155.5 2.9L152 4.2L150 4.4L140.5 4.3L131.5 3.5L128.4 2.5L127.6 1.5L127.3 0ZM208.4 0L299 0L299 123.5L186.1 123.5L185.3 122L182.7 120L162.5 109.2L151 101.4L147.4 98L143.7 92L140 88L139 86L138.4 83.5L137.9 72.5L138.6 60L139.2 57.5L140.1 56L143.2 53.5L149 50.9L160 48.7L172 44.7L189 41.1L191.5 40.2L193.5 38.9L196 36.3L198.8 32L201.2 27.5L203.7 21.5L207.3 9L208.1 4.5L208.4 0ZM136.7 9L139.5 9.4L142.5 11.1L144 13L143.7 14.5L142.5 14.9L141 14.7L136.6 12.5L135.5 10.5L135.8 9.5L136.7 9ZM83.5 69.5L86 69.2L89 69.3L92 70.2L94 71.3L95.5 72.9L96.7 75L99 82.6L100.5 85.3L103.5 87.3L111 89.8L112.9 91.5L115 94.4L118 99.2L119.1 102.5L119.7 108.5L120.3 123.5L97.2 123.5L95.8 109.5L94.6 106L92.6 103L89 99.6L86 98.1L83 97.6L76.5 97.5L74.5 97L72 94.9L68 89.6L66 86.3L64.7 83L64.5 81L65 79.7L66.7 78.5L72.5 76.1L79.7 71L83.5 69.5Z"/>
<path fill="#9ae4ff" d="M0 0L46.9 0L46.2 2L45 2.8L40.5 3.6L31.6 6L17 6.9L5 6.8L0 6.4L0 0ZM127.4 0L192.6 0L191.8 4L190.7 5.5L189.5 6.3L185.5 7.1L177.5 7.7L171 6.9L165 5.5L162.8 4.5L159.5 1.9L155.5 2.4L151 4L140.5 4L130 3L128.2 2L127.4 0ZM208.6 0L299 0L299 123.5L188.8 123.5L187.7 121.5L185.5 119.7L163.5 107L152.7 99.5L149.5 96.5L145.6 90.5L141.5 86.6L140.6 85L140.1 82.5L139.6 72.5L140.2 61L140.8 58.5L141.7 57L144 55L149 52.6L160.5 50.3L172 45.5L189.5 41.4L192 40.4L194 39.1L196.3 36.5L199.2 32L201.7 27L204.1 21L207.7 8.5L208.6 0ZM136.7 9.5L139 9.7L141.5 10.9L143.3 12.5L143.5 14L142.8 14.5L141.3 14.5L137 12.5L135.9 11L136 10L136.7 9.5ZM84.1 71L88 70.9L91.5 72.2L93.8 74.5L95.2 78L95.1 82L93.6 85L91 87.3L87.5 88.7L84 88.6L80.1 87L77.6 84.5L76.1 81L76.2 78L77.7 75L80.5 72.5L84.1 71Z"/>
<path fill="#73d7ff" d="M0 0L46.2 0L45.8 1.5L44.5 2.5L40.5 3.2L31.1 6L17 6.8L5 6.7L0 6.3L0 0ZM127.6 0L192.5 0L191.6 4L190.5 5.5L189.5 6.1L186 6.9L177.5 7.6L170 6.5L164.5 5.1L162.6 4L159.5 0.8L155 1.8L151 3.6L142 3.7L130 2.8L128.4 2L127.6 0ZM208.8 0L299 0L299 123.5L190.7 123.5L189.8 121.5L187.6 119.5L171.5 109.5L154.8 97L152 94.2L148.5 89L143.5 84.9L142.7 83.5L142.3 81.5L141.9 72.5L142.5 61.6L143.7 58.5L145.5 57L149.5 55.1L156.5 54.1L159.5 53.2L172 46.5L190 41.8L192.5 40.7L194.5 39.2L196.9 36.5L199.6 32L204.3 21.5L207.8 9L208.8 0ZM136.7 10L138.5 10.1L140.9 11L142.8 12.5L143 13.7L142.5 14.1L141 14.1L137.5 12.5L136.2 11L136.7 10ZM83.4 73L86 72.5L88.7 73L91 74.5L92.3 76.5L92.8 79.5L92.2 82L90.8 84L88.5 85.5L85.5 86L83 85.4L80.5 83.7L79.2 81.5L78.8 79L79.4 76.5L80.9 74.5L83.4 73Z"/>
<path fill="#50c6ff" d="M0 0L45.5 0L45 1.3L44 2L40.5 2.6L37.5 4L31 5.9L17 6.7L5 6.6L0 6.2L0 0ZM127.8 0L155.6 0L151.4 3L148 3.3L130.5 2.7L128.5 1.7L127.8 0ZM160.6 0L192.3 0L191.5 4L189.5 6L186 6.8L177.5 7.4L170 6.3L164.5 4.8L162 3L160.6 0ZM209.1 0L299 0L299 123.5L192.4 123.5L191.6 121.5L190 119.8L173.8 109L168.8 104.5L164.6 99.5L162.4 96L160.8 92.5L159.4 85L158.9 67L159.4 62L160.7 58L162.2 55.5L164.4 53L170.5 48.4L176 46.1L190.5 42.2L193.5 40.7L196.3 38L201.1 30L205.1 20L208.2 8.5L209.1 0ZM137.1 10.5L138.5 10.6L140.8 11.5L142.1 12.5L142.4 13.5L141 13.7L138.3 12.5L137 11.5L137.1 10.5ZM84.4 76L85.5 75.7L87 75.9L88.9 77.5L89.1 80L88.5 81.2L87.5 82L85 82.3L83.5 81.6L82.7 80.5L82.5 78L83.1 77L84.4 76Z"/>
<path fill="#2db4ff" d="M0 0L44.1 0L43.2 1L40 1.7L36.7 4L31 5.8L17 6.7L5 6.5L0 6.1L0 0ZM128 0L140.9 0L141.5 1L142.5 1.4L148.5 1.6L149.7 2L136.5 2.7L131.5 2.6L129 1.9L128 0ZM161.2 0L192.2 0L191.4 4L189.5 5.9L186.5 6.7L178 7.3L170 6.1L164.5 4.6L162.4 3L161.2 0ZM209.3 0L299 0L299 123.5L193.8 123.5L193.1 121.5L191.4 119.5L176.4 109L173.2 106L169.9 102L166.9 97.5L164.8 93.5L163.6 90L162.9 86L162.1 67.5L162.7 62.5L163.8 58.5L166.6 53.5L169.1 51L171.5 49.2L176.4 47L191.5 42.5L194.5 40.6L197 38L201.8 29.5L205.6 19.5L208.4 8.5L209.3 0ZM139.3 12L139.5 11.9L139.8 12L139.5 12.1L139.3 12Z"/>
<path fill="#1e9cff" d="M0 0L34.6 0L35 1.1L37.4 2.5L37.3 3L35.7 4L29.5 6L17.5 6.6L4.5 6.4L0 6L0 0ZM128.3 0L138.9 0L138.9 1L138 2L137 2.2L131.5 2.3L129 1.5L128.3 0ZM161.6 0L192.1 0L191.4 3.5L190.5 5L189.5 5.8L186.5 6.5L178 7.1L175 6.8L165 4.5L162.8 3L161.9 1.5L161.6 0ZM209.6 0L299 0L299 123.5L195.1 123.5L194.5 121.5L192.5 119.1L178.2 108.5L175.1 105.5L172.3 102L167.2 93.5L165.9 90L165.1 86.5L164.5 80L164.3 68L164.7 63.5L165.9 59L168.4 54L170.2 52L172.5 50.1L176.9 48L191.5 43.2L195 41.1L197.8 38L202.1 30L205.8 20L208.7 8.5L209.6 0ZM272 8.5L269 9.5L268.5 10L268.4 11L271.5 13.2L274.5 16L275.5 16.2L276.3 16L277 15.3L277.6 14L277.6 12.5L277 11L274.5 9L272 8.5Z"/>
<path fill="#0f84ff" d="M0 0L33.6 0L34 1.7L35.2 3.5L32.7 5L29 5.9L17 6.5L5.5 6.4L0 6L0 0ZM128.6 0L137.8 0L137.1 1.5L134 2L130 1.7L129 1L128.6 0ZM162 0L191.9 0L191.3 3.5L189.5 5.6L186.5 6.4L178 7L175 6.7L165 4.2L162.8 2.5L162 0ZM209.8 0L299 0L299 123.5L196.4 123.5L195.8 121.5L194 119L180 108L177 105L174.2 101.5L169 93L167.7 89.5L166.9 86L166.4 80L166.1 68.5L166.5 64L167.7 59.5L170.1 54.5L173.5 51.2L177.5 49.1L187.5 45.8L192.5 43.6L196 41.2L198.7 38L202.8 30L206.4 19.5L208.9 8.5L209.8 0ZM270 6.9L267.5 8L265.3 10L264.4 12L264.9 14L265.5 14.6L269.5 16L273 19.2L274.5 19.5L276.5 18.9L278.5 17.2L279.5 15L279.6 12.5L278.9 10.5L277.5 8.7L275.5 7.5L272.5 6.7L270 6.9Z"/>
<path fill="#0a6cfc" d="M0 0L33 0L34.1 3.5L32.3 5L29 5.8L17 6.4L5.5 6.3L0 5.9L0 0ZM129.1 0L136.6 0L136 1.1L133.5 1.6L130 1.1L129.1 0ZM162.3 0L191.8 0L191.2 3.5L189.5 5.5L186.5 6.3L178 6.8L175.1 6.5L165.1 4L163.2 2.5L162.3 0ZM210.1 0L299 0L299 123.5L225 123.5L227.8 103L227 101.2L225 100.7L223 101.1L222.1 102L221.7 103L221.1 109.5L220.6 123.5L211.2 123.5L211 120L210.5 120.7L210.4 123.5L197.6 123.5L196.9 121L195 118.5L181.3 107L175.5 100.5L170.7 92.5L169.4 89L168.7 85.5L167.9 68.5L168.4 64L169.4 60L171.6 55.5L174.5 52.5L178 50.5L187 47.2L192.5 44.7L196.5 41.9L199.5 38.5L202.8 32L206.7 19.5L209.3 8L210.1 0ZM270.5 5.9L267.5 6.9L265.1 8.5L263.4 10.5L262.6 13L262.6 17L263.5 23.2L265 25.7L267 26.7L269.5 26.2L272.9 23L278 20L279.7 18L280.6 15.5L280.4 11.5L278.8 8.5L276.7 7L274.5 6.1L270.5 5.9Z"/>
<path fill="#0555f8" d="M0 0L32.6 0L33.4 3.5L32.8 4.5L31.9 5L29 5.7L17 6.3L5 6.2L0 5.8L0 0ZM130.2 0L134.7 0L134 0.5L132.5 0.6L130.9 0.5L130.2 0ZM162.7 0L191.6 0L191 3.5L189.2 5.5L186.5 6.2L178 6.7L175.5 6.4L165.5 3.8L163.5 2.4L162.7 0ZM210.3 0L299 0L299 123.5L226.6 123.5L229.4 102L228.5 100L227.5 99.4L225.5 99.1L222.5 99.5L221.5 100.1L220.6 101.5L219.5 109L218.6 123.5L215.8 123.5L214.2 105L213.2 73.5L212.5 71.2L211 70.2L209.5 70.2L208.5 70.6L207.6 72L207.3 73.5L207.2 107.5L206.7 123.5L199 123.5L198.3 121L196.1 118L183 106.5L176.7 99.5L174.5 96L172.6 92L170.7 85L170.1 69L170.5 64.5L171.4 61L173.2 57L176 54L193.5 45.3L197.5 42.3L200.8 38.5L203.6 32.5L207.3 19L209.7 7.5L210.3 0ZM269.5 5.5L266.1 7L263.4 9L262.1 11L261.4 13.5L261.2 21.5L261.8 26L263.5 28.9L266.5 30.3L269.5 30L272.5 28.2L275.6 24.5L279.5 21.3L280.7 19L281.4 16L281 11L280.1 9L279 7.7L277.2 6.5L274.5 5.5L272 5.1L269.5 5.5Z"/>
<path fill="#033ef2" d="M0 0L32.3 0L32.9 3.5L32.4 4.5L30 5.5L22 6.1L5.5 6.1L0 5.7L0 0ZM163 0L191.5 0L190.9 3.5L190 4.8L189 5.5L186 6.1L178 6.5L175.5 6.2L165.5 3.5L163.6 2L163 0ZM210.6 0L299 0L299 123.5L228.4 123.5L231.2 103.5L231.1 100.5L230 98.7L228 97.7L225 97.6L222 98.2L219.7 100L218 105.7L217.5 106.5L217 106.4L216.3 103.5L215.6 97.5L214.5 72L213.5 69.8L211.5 68.7L209.5 68.6L207.5 69.3L206.5 70.5L206 72.5L205.8 110L204.9 123.5L200.5 123.5L199.6 120.5L197.4 117.5L185.5 107L177.7 98.5L176.2 96L174.8 92.5L173.7 88.5L173.1 84L172.7 73L173.5 66.6L174.5 62.4L176 59.1L178 56.7L196.5 44.7L200 41.5L202.6 38L204.5 33.2L208.4 16L210.1 6.5L210.6 0ZM269.5 5L266 6.5L262.5 9L261.3 11L260.6 14.5L260.2 21.5L260.9 32L260.6 40.5L262.7 81L263.5 82.8L265 83.4L279.5 83.4L281 83L281.5 82.5L282 80L282.5 35L282.4 29.5L281.6 22.5L281.9 13L280.8 9L278.5 6.7L276.2 5.5L273.5 4.7L269.5 5Z"/>
<path fill="#0228eb" d="M0 0L31.9 0L32.5 3.5L32 4.5L30 5.4L22 6L5.5 6L0 5.6L0 0ZM163.4 0L191.3 0L190.7 3.5L189 5.3L186 6L178.5 6.4L175.5 6L165.5 3.1L164 1.8L163.4 0ZM210.9 0L299 0L299 96.6L239.5 96.5L235 96.2L227 94.6L224 95.1L218.5 97.7L217.5 96.6L216.8 93L215.4 70.5L214.6 69L213.5 68L210 67.3L208 67.6L206.5 68.3L205.5 69.5L204.9 71.5L204.9 100.5L204.5 111.5L204 117L203 119.8L202.5 120.2L201.5 119.7L195.5 113.5L187 106.8L181 100.5L177.6 96L175.9 90.5L175.3 86L174.9 77.5L175.4 72.5L176.3 70.5L177.5 69.1L181.9 66L183 64.7L185.6 57L187.8 53.5L190.4 51L200 43.7L202.5 41L204.1 38.5L205.4 34.5L209.6 11.5L210.9 0ZM270 4.4L266 6L262.3 8.5L260.8 10.5L260.1 14L259.6 21.5L259.7 31L259.3 40L261.4 82L262.3 84L264 84.8L280.5 84.8L282.5 84L283 83L283.3 81L283.8 31.5L282.6 21L282.4 13L281.3 9L279.1 6.5L274.5 4.5L272 4.2L270 4.4Z"/>
<path fill="#0115e2" d="M0 0L31.6 0L32.2 3.5L31.7 4.5L30 5.3L21.5 5.9L6 5.9L0 5.5L0 0ZM163.9 0L191.2 0L190.5 3.5L189 5.2L186.5 5.8L178.5 6.2L176 5.9L172.5 4.6L166.4 3L164.5 1.7L163.9 0ZM211.2 0L299 0L299 94.6L239.5 94.5L234 93.8L225.5 90.7L223.5 90.9L220 91.9L218.9 91L218 87.8L217.4 82L217.1 72.5L216.4 69.5L215.5 67.9L214 66.7L212 66L209.5 65.9L207 66.3L205.5 67.1L204.4 68.5L203.9 70.5L203.9 102L202.9 112L202 115L201.5 115.3L200.5 115.1L196.1 111.5L189.5 107.4L181.5 99.5L178.6 95.5L177.4 91.5L176.7 86.5L176.4 78.5L176.7 74L177.6 72L179 70.5L184.4 67.5L186.8 65.5L188.1 63L189.7 57L191.4 54L193.7 51.5L202 44.8L205 40.9L206.4 36L207.4 26L210.7 7L211.2 0ZM270.5 3.9L266.2 5.5L262.2 8L260.5 10L259.7 13L259.1 21L258.5 40L260.7 82L261.5 84.5L263.5 85.6L281 85.7L282.5 85.3L283.4 84.5L284 81.5L284.5 31L282.8 13L281.8 9L279.8 6.5L274.5 4.1L270.5 3.9Z"/>
<path fill="#0002da" d="M0 0L31.4 0L31.9 3.5L31.3 4.5L30 5.1L21.5 5.8L6 5.8L0 5.4L0 0ZM164.5 0L191 0L190.5 3.2L189 5L186.5 5.6L178.5 6L176 5.7L172 3.9L166.5 2.4L165.1 1.5L164.5 0ZM211.6 0L299 0L299 93.5L241.5 93.5L237 93.2L234 92.6L230.5 90.9L221.4 84.5L220.3 82L218.6 71.5L217 67.6L215.5 65.7L213.5 64.3L211 63.2L208 62.8L205.5 63.3L204 64.1L203 65.5L202.6 67L202.9 100.5L202.3 105L201 108.4L200 109.2L198.5 109.3L194.5 108.5L191.5 107.3L188 104.7L182.5 99.1L179.8 95.5L178.5 91.5L177.6 78.5L178 74.5L178.6 73L180 71.5L188 67.5L192.7 64L194.4 62L197.1 56.5L203 51L205 47.9L207 40.5L208 26.5L210.9 8L211.6 0ZM271.5 3.5L267.5 4.5L262.2 7.5L260.3 9.5L259.3 12.5L258 40L260.1 82L260.9 85L263 86.2L281.5 86.3L283 85.9L283.9 85L284.6 82L285.1 31L283.2 13.5L282.2 9L280.4 6.5L275.5 4.1L271.5 3.5Z"/>
<path fill="#0001ca" d="M0 0L31.1 0L31.6 3.5L31 4.5L30 5L21.5 5.7L5.5 5.7L0 5.3L0 0ZM165.7 0L190.8 0L190.2 3.5L188.7 5L186.5 5.5L178.5 5.9L176 5.5L171.5 2.8L167.1 1.5L166.3 1L165.7 0ZM211.9 0L299 0L299 92.7L239 92.6L233.5 91.4L231 90L228.8 88L225.7 83.5L218.5 67.5L214.2 61.5L211.2 56.5L209.7 53L208.8 49.5L208.3 44.5L208.4 28L211.3 7L211.9 0ZM270 3.4L265.8 5L261.5 7.5L259.8 9.5L258.9 12.5L257.5 40L259.7 83L260.5 85.5L261.5 86.4L263 86.9L281.5 87L283.3 86.5L284.4 85.5L285.1 82L285.5 31L283.5 13L282.3 8.5L280.3 6L277.6 4.5L274.5 3.4L272 3.1L270 3.4ZM193.3 67.5L197 67.2L199.5 68.4L200.7 70.5L201.3 74L201.7 101.5L201.1 104L200 105.6L198.5 106.5L196.5 106.9L193.5 106.6L190.5 105.3L188 103.3L183 98.1L180.2 94L179.1 88L178.8 77L179.1 75L179.8 73.5L182.5 71.5L193.3 67.5Z"/>
<path fill="#0001ba" d="M0 0L30.8 0L31.3 3.5L30.6 4.5L29.3 5L21.5 5.6L5.5 5.6L0 5.1L0 0ZM172.7 0L190.7 0L190 3.5L188.5 4.9L186 5.4L179 5.7L176.5 5.4L174.7 4.5L173.2 2.5L172.7 0ZM212.2 0L299 0L299 92L280 91.6L239 91.9L234 90.8L232 89.7L230.2 88L227.3 83.5L220.5 68.8L212.4 55.5L210.2 49.5L209.4 42.5L209 28L211.8 6L212.2 0ZM270.5 2.9L266 4.6L261 7.5L259.4 9.5L258.6 12.5L257.1 40L259.3 83.5L260.5 86.4L263 87.6L282 87.6L283.5 87.2L284.5 86.4L285.2 85L285.5 83L285.5 62L286 50.5L286 31.5L285.6 26L283.5 11.5L282.2 7.5L280.2 5.5L277 3.9L273.5 2.9L270.5 2.9ZM193.2 69.5L196.5 69.5L198.4 70.5L199.5 72.5L200.1 76.5L200.5 101L200 102.5L198.8 104L197 104.9L195 105.2L192.5 104.9L190 103.5L182.7 96L180.9 92.5L180.1 86L180 77L181 74.1L184 72.2L193.2 69.5Z"/>
<path fill="#0000aa" d="M0 0L30.5 0L31 3.5L30.2 4.5L29 4.9L21.5 5.5L6 5.5L0 5L0 0ZM173.7 0L190.5 0L190 3L188.5 4.7L186.5 5.2L179 5.5L176.5 5.2L174.8 4L174 2.5L173.7 0ZM212.6 0L299 0L299 91.3L289.5 91.3L278.5 90.5L263.5 90.6L254 91.3L239.5 91.3L234.5 90.3L231.2 88L228.6 84L222 69.6L213.2 55L211.1 49L210.2 41L209.6 28L212.6 0ZM271.5 2.5L267 3.8L261.1 7L259.2 9L258.3 12L256.7 40L258.9 83.5L260 86.8L261 87.8L262.5 88.4L266 88.7L281.5 88.6L283 88.3L284.5 87.4L285.4 86L285.8 84L285.9 62L286.4 52L286.1 27L283.9 12L282.5 7.5L281 5.7L278.5 4.3L274.5 2.8L271.5 2.5ZM193.1 71.5L195.5 71.6L197 72.5L198 74.5L198.3 78L198.9 99.5L198.5 101L197.5 102.3L196 103.1L194.5 103.4L192.5 103.1L190.5 101.9L183.7 95L182.2 91.5L181.5 85.5L181.4 77.5L182.4 75L185 73.5L193.1 71.5Z"/>
<path fill="#00009c" d="M0 0L30.2 0L30.6 3.5L30 4.3L29 4.7L21.5 5.3L6 5.3L0 4.9L0 0ZM174.3 0L190.3 0L189.8 3L188.5 4.5L186.5 5L179 5.3L176.8 5L175.3 4L174.6 2.5L174.3 0ZM213 0L299 0L299 90.8L288 90.5L285.7 90L284.6 89L285.9 86L286.2 83.5L286.2 62.5L286.7 50.5L286.7 31L286.3 26L284.1 11.5L282.9 7.5L281.5 5.7L279.5 4.4L275.5 2.8L272.5 2.1L270.5 2.3L268 3.1L261.2 6.5L259 8.7L257.9 12L256.3 40.5L258.4 82.5L258.9 85.5L260.4 89L260.2 89.5L258 90.4L255 90.7L239.5 90.7L235 89.8L231.7 87.5L229.4 84L222.6 69L214.1 55L211.9 49L210.8 40L210.1 28L213 0ZM190.7 76L192.5 76L193.5 76.4L194.2 78.5L194.9 96L194.5 98L193.5 98.7L191.5 97.9L187.5 94L186 91.8L185.3 89L184.9 82L185.2 78.5L186.7 77L190.7 76Z"/>
<path fill="#00008e" d="M0 0L29.9 0L30.3 3.5L29 4.5L21.5 5.1L5.5 5.1L0 4.7L0 0ZM174.8 0L190 0L189.5 3L188 4.5L179.5 5.1L177.5 4.9L175.8 4L175.1 2.5L174.8 0ZM213.4 0L299 0L299 90.2L289 90L287.1 89.5L286.1 88.5L286.6 83.5L287.1 31L286.7 26.5L284.7 13L283.5 8L281.7 5.5L277.5 3.2L272.5 1.8L268 2.8L261 6.3L258.7 8.5L257.7 11.5L256 40L258.1 82L258.8 88.5L257.9 89.5L255 90.1L240.5 90.2L235.9 89.5L232.5 87.4L230.2 84L223.5 69.3L214.7 54.5L212.7 49L211.3 39L210.6 28L213.4 0Z"/>
<path fill="#000080" d="M0 0L29.6 0L29.9 3L29.5 4L28.5 4.4L21.5 4.9L6 5L0 4.5L0 0ZM175.3 0L189.8 0L189.4 2.5L188.9 3.5L188 4.2L186 4.6L179.5 4.8L177.5 4.6L176.3 4L175.5 2.5L175.3 0ZM213.8 0L299 0L299 89.7L289.7 89.5L287.9 89L287 88L286.9 63.5L287.4 53L287.4 30.5L284.8 12L283.8 8L282 5.3L278 3.1L272.5 1.4L268.5 2.2L260.5 6.2L258.3 8.5L257.3 11.5L255.6 40L257.9 88L257 89L254.5 89.6L240.5 89.6L236 88.9L233 87L230.6 83.5L224 68.9L215.4 54.5L213.2 48.5L211.8 37.5L211.1 28L213.8 0Z"/>
<path d="M207.5 123.6L210.8 114.2L225.3 112.6L233.1 86.9L245.4 86.9L256.6 58.2L261.0 76.6L261.0 79.1L271.1 79.1L275.2 68.6L281.1 66.0L286.7 76.9L290.2 68.6L295.2 64.6L299.2 60.6L299.2 123.6ZM103.2 123.6L105.7 113.6L108.8 123.6Z" fill="#dcdcdc"/>
</g></g>
<path d="M347.3 358.7v-3M347.3 235.4v3M373.5 358.7v-3M373.5 235.4v3M399.7 358.7v-3M399.7 235.4v3M426.0 358.7v-3M426.0 235.4v3M452.2 358.7v-3M452.2 235.4v3M478.4 358.7v-3M478.4 235.4v3M504.6 358.7v-3M504.6 235.4v3M530.8 358.7v-3M530.8 235.4v3M557.1 358.7v-3M557.1 235.4v3M583.3 358.7v-3M583.3 235.4v3M609.5 358.7v-3M609.5 235.4v3M337.8 260.1h3M636.8 260.1h-3M337.8 284.7h3M636.8 284.7h-3M337.8 309.4h3M636.8 309.4h-3M337.8 334.0h3M636.8 334.0h-3" stroke="#262626" stroke-width="0.7" fill="none"/>
<path d="M636.8 235.4H337.8V358.7H636.8" fill="none" stroke="#262626" stroke-width="0.8"/>
<text x="348.1" y="373.6" text-anchor="middle" class="t" letter-spacing="0.45">30°S</text>
<text x="374.3" y="373.6" text-anchor="middle" class="t" letter-spacing="0.45">20°S</text>
<text x="400.5" y="373.6" text-anchor="middle" class="t" letter-spacing="0.45">10°S</text>
<text x="426.5" y="373.6" text-anchor="middle" class="t" letter-spacing="0.45">0°</text>
<text x="453.0" y="373.6" text-anchor="middle" class="t" letter-spacing="0.45">10°N</text>
<text x="479.2" y="373.6" text-anchor="middle" class="t" letter-spacing="0.45">20°N</text>
<text x="505.4" y="373.6" text-anchor="middle" class="t" letter-spacing="0.45">30°N</text>
<text x="531.6" y="373.6" text-anchor="middle" class="t" letter-spacing="0.45">40°N</text>
<text x="557.9" y="373.6" text-anchor="middle" class="t" letter-spacing="0.45">50°N</text>
<text x="584.1" y="373.6" text-anchor="middle" class="t" letter-spacing="0.45">60°N</text>
<text x="610.3" y="373.6" text-anchor="middle" class="t" letter-spacing="0.45">70°N</text>
<text x="335.3" y="239.6" text-anchor="end" class="t">0</text>
<text x="335.3" y="264.3" text-anchor="end" class="t">1,000</text>
<text x="335.3" y="288.9" text-anchor="end" class="t">2,000</text>
<text x="335.3" y="313.6" text-anchor="end" class="t">3,000</text>
<text x="335.3" y="338.2" text-anchor="end" class="t">4,000</text>
<text x="335.3" y="362.9" text-anchor="end" class="t">5,000</text>
<text transform="translate(305.0 297) rotate(-90)" text-anchor="middle" class="l">Depth (m)</text>
<rect x="643.8" y="235.4" width="15.9" height="123.3" fill="url(#cb)" stroke="#333" stroke-width="0.7"/>
<path d="M659.7 235.4h-2" stroke="#222" stroke-width="0.6"/>
<text x="665.6" y="239.4" class="t">1</text>
<path d="M659.7 266.2h-2" stroke="#222" stroke-width="0.6"/>
<text x="665.6" y="270.2" class="t">0.5</text>
<path d="M659.7 297.1h-2" stroke="#222" stroke-width="0.6"/>
<text x="665.6" y="301.1" class="t">0</text>
<path d="M659.7 327.9h-2" stroke="#222" stroke-width="0.6"/>
<text x="665.6" y="331.9" class="t">-0.5</text>
<path d="M659.7 358.7h-2" stroke="#222" stroke-width="0.6"/>
<text x="665.6" y="362.7" class="t">-1</text>
<text x="645.6" y="227.1" class="l">°C</text>
</svg>
</body></html>
